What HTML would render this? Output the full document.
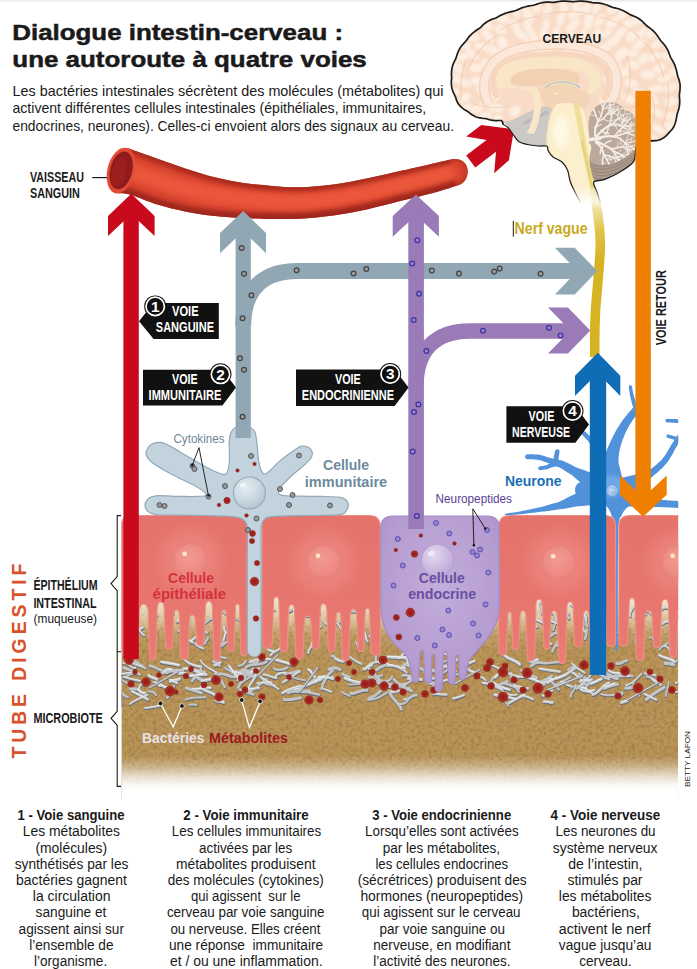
<!DOCTYPE html>
<html lang="fr"><head><meta charset="utf-8"><title>Dialogue intestin-cerveau</title>
<style>
html,body{margin:0;padding:0;background:#fff;}
body{width:697px;height:969px;overflow:hidden;font-family:'Liberation Sans', Arial, sans-serif;}
svg{display:block;font-family:"Liberation Sans", Arial, sans-serif;}
</style></head><body>
<svg width="697" height="969" viewBox="0 0 697 969">
<defs>
<clipPath id="illu"><rect x="121.4" y="380" width="556.8" height="430"/></clipPath>
<linearGradient id="gBrown" x1="0" y1="0" x2="0" y2="1" gradientUnits="objectBoundingBox">
  <stop offset="0" stop-color="#e9dcc4"/>
  <stop offset="0.1" stop-color="#d6bc92"/>
  <stop offset="0.18" stop-color="#c4a26a"/>
  <stop offset="0.26" stop-color="#b99458"/>
  <stop offset="1" stop-color="#b79256"/>
</linearGradient>
<filter id="noise" x="0" y="0" width="100%" height="100%" color-interpolation-filters="sRGB">
  <feTurbulence type="fractalNoise" baseFrequency="0.28" numOctaves="3" seed="5" result="t"/>
  <feColorMatrix type="matrix" values="0 0 0 0 0.42  0 0 0 0 0.27  0 0 0 0 0.12  1.6 0.6 0 0 -0.98"/>
  <feComposite in2="SourceGraphic" operator="in"/>
</filter>
<filter id="noise2" x="0" y="0" width="100%" height="100%" color-interpolation-filters="sRGB">
  <feTurbulence type="fractalNoise" baseFrequency="0.4" numOctaves="2" seed="11" result="t"/>
  <feColorMatrix type="matrix" values="0 0 0 0 0.80  0 0 0 0 0.70  0 0 0 0 0.52  0 1.5 0.8 0 -1.05"/>
  <feComposite in2="SourceGraphic" operator="in"/>
</filter>
<linearGradient id="gPink" x1="0" y1="0" x2="0" y2="1">
  <stop offset="0" stop-color="#e5736b"/>
  <stop offset="0.6" stop-color="#e7766e"/>
  <stop offset="1" stop-color="#e97c74"/>
</linearGradient>
<radialGradient id="gNucP" cx="0.45" cy="0.4" r="0.65">
  <stop offset="0" stop-color="#f29a92"/>
  <stop offset="0.7" stop-color="#ee8b84"/>
  <stop offset="1" stop-color="#ea837c"/>
</radialGradient>
<radialGradient id="gPurple" cx="0.5" cy="0.4" r="0.7">
  <stop offset="0" stop-color="#c3aedb"/>
  <stop offset="0.7" stop-color="#b59cd1"/>
  <stop offset="1" stop-color="#ab90c9"/>
</radialGradient>
<radialGradient id="gNucV" cx="0.38" cy="0.32" r="0.7">
  <stop offset="0" stop-color="#e6daf0"/>
  <stop offset="0.6" stop-color="#cdbbe2"/>
  <stop offset="1" stop-color="#bfa9d8"/>
</radialGradient>
<radialGradient id="gNucG" cx="0.38" cy="0.32" r="0.7">
  <stop offset="0" stop-color="#e4edf2"/>
  <stop offset="0.6" stop-color="#c9d8e1"/>
  <stop offset="1" stop-color="#b4c6d2"/>
</radialGradient>
<radialGradient id="gRedDot" cx="0.5" cy="0.5" r="0.5">
  <stop offset="0" stop-color="#951b17"/>
  <stop offset="0.55" stop-color="#a0221c"/>
  <stop offset="0.85" stop-color="#b23529"/>
  <stop offset="1" stop-color="#b83d30"/>
</radialGradient>
<linearGradient id="gNerve" x1="0" y1="198" x2="0" y2="262" gradientUnits="userSpaceOnUse">
  <stop offset="0" stop-color="#f1e3a6" stop-opacity="0"/>
  <stop offset="0.18" stop-color="#ecd98a" stop-opacity="0.85"/>
  <stop offset="0.5" stop-color="#e0c348"/>
  <stop offset="1" stop-color="#d6b322"/>
</linearGradient>
<filter id="blur2" x="-30%" y="-60%" width="160%" height="220%"><feGaussianBlur stdDeviation="2"/></filter>
<filter id="blur3" x="-30%" y="-60%" width="160%" height="220%"><feGaussianBlur stdDeviation="3.2"/></filter>
<filter id="blur6" x="-50%" y="-50%" width="200%" height="200%"><feGaussianBlur stdDeviation="7"/></filter>
<filter id="blur05" x="-30%" y="-30%" width="160%" height="160%"><feGaussianBlur stdDeviation="0.7"/></filter>
<filter id="blur1" x="-30%" y="-30%" width="160%" height="160%"><feGaussianBlur stdDeviation="1"/></filter>
</defs>
<rect x="0" y="0" width="697" height="969" fill="#ffffff"/>
<rect x="0" y="0" width="697" height="1.6" fill="#ebebeb"/>
<g clip-path="url(#illu)">
<rect x="121.4" y="596" width="556.8" height="204" fill="url(#gBrown)"/>
<rect x="121.4" y="596" width="556.8" height="204" fill="#000" filter="url(#noise)" opacity="0.42"/>
<rect x="121.4" y="596" width="556.8" height="204" fill="#000" filter="url(#noise2)" opacity="0.35"/>
<linearGradient id="gFade" x1="0" y1="756" x2="0" y2="791" gradientUnits="userSpaceOnUse">
<stop offset="0" stop-color="#fff" stop-opacity="0"/><stop offset="0.3" stop-color="#fff" stop-opacity="0.3"/><stop offset="0.6" stop-color="#fff" stop-opacity="0.72"/><stop offset="0.85" stop-color="#fff" stop-opacity="0.95"/><stop offset="1" stop-color="#fff" stop-opacity="1"/></linearGradient>
<linearGradient id="gFadeTop" x1="0" y1="596" x2="0" y2="634" gradientUnits="userSpaceOnUse">
<stop offset="0" stop-color="#f4ead8" stop-opacity="0.95"/><stop offset="0.45" stop-color="#ead9ba" stop-opacity="0.7"/><stop offset="1" stop-color="#e0c9a2" stop-opacity="0"/></linearGradient>
<rect x="121.4" y="596" width="556.8" height="60" fill="url(#gFadeTop)"/>
<rect x="121.4" y="750" width="556.8" height="52" fill="url(#gFade)"/>
<path d="M294.5,689.7 C297.2,689.3 299.8,688.7 302.5,688.3" fill="none" stroke="#6a6d70" stroke-width="2.5" stroke-linecap="round" transform="translate(0.3,0.8)"/>
<path d="M148.4,691.6 C151.8,691.0 154.3,692.2 156.0,695.1" fill="none" stroke="#6a6d70" stroke-width="2.6" stroke-linecap="round" transform="translate(0.3,0.8)"/>
<path d="M130.0,704.0 C135.3,699.8 141.6,697.6 147.7,695.0" fill="none" stroke="#6a6d70" stroke-width="2.6" stroke-linecap="round" transform="translate(0.3,0.8)"/>
<path d="M440.7,674.1 C445.6,672.4 448.7,667.9 453.3,665.7" fill="none" stroke="#6a6d70" stroke-width="2.7" stroke-linecap="round" transform="translate(0.3,0.8)"/>
<path d="M442.9,665.8 C447.8,665.9 450.9,670.5 455.7,671.0" fill="none" stroke="#6a6d70" stroke-width="3.4" stroke-linecap="round" transform="translate(0.3,0.8)"/>
<path d="M605.3,677.8 C612.2,674.6 619.8,677.0 626.9,675.4" fill="none" stroke="#6a6d70" stroke-width="3.5" stroke-linecap="round" transform="translate(0.3,0.8)"/>
<path d="M488.8,663.0 C493.5,667.1 500.1,667.9 505.0,671.8" fill="none" stroke="#6a6d70" stroke-width="2.8" stroke-linecap="round" transform="translate(0.3,0.8)"/>
<path d="M368.9,698.6 C373.4,696.9 377.2,694.2 380.7,690.9" fill="none" stroke="#6a6d70" stroke-width="3.4" stroke-linecap="round" transform="translate(0.3,0.8)"/>
<path d="M270.8,655.4 C272.8,651.0 278.1,651.0 281.1,647.8" fill="none" stroke="#6a6d70" stroke-width="3.0" stroke-linecap="round" transform="translate(0.3,0.8)"/>
<path d="M550.2,680.0 C552.8,683.4 555.7,686.5 558.8,689.5" fill="none" stroke="#6a6d70" stroke-width="3.0" stroke-linecap="round" transform="translate(0.3,0.8)"/>
<path d="M604.2,686.2 C608.4,688.6 611.2,683.3 615.1,684.1" fill="none" stroke="#6a6d70" stroke-width="3.6" stroke-linecap="round" transform="translate(0.3,0.8)"/>
<path d="M239.3,684.4 C243.0,680.5 248.3,678.8 251.9,674.7" fill="none" stroke="#6a6d70" stroke-width="3.0" stroke-linecap="round" transform="translate(0.3,0.8)"/>
<path d="M502.6,691.2 C506.7,695.0 511.5,695.9 516.9,694.6" fill="none" stroke="#6a6d70" stroke-width="2.5" stroke-linecap="round" transform="translate(0.3,0.8)"/>
<path d="M568.0,670.1 C569.3,666.8 573.4,668.0 575.2,665.4" fill="none" stroke="#6a6d70" stroke-width="2.5" stroke-linecap="round" transform="translate(0.3,0.8)"/>
<path d="M139.3,688.0 C139.6,683.9 142.1,683.6 145.3,684.4" fill="none" stroke="#6a6d70" stroke-width="2.9" stroke-linecap="round" transform="translate(0.3,0.8)"/>
<path d="M192.0,675.0 C195.8,676.7 199.4,678.8 203.1,680.6" fill="none" stroke="#6a6d70" stroke-width="3.8" stroke-linecap="round" transform="translate(0.3,0.8)"/>
<path d="M165.4,687.4 C170.4,686.1 173.6,689.0 176.4,692.6" fill="none" stroke="#6a6d70" stroke-width="2.6" stroke-linecap="round" transform="translate(0.3,0.8)"/>
<path d="M200.9,669.1 C199.3,674.1 194.4,676.6 192.0,681.1" fill="none" stroke="#6a6d70" stroke-width="3.4" stroke-linecap="round" transform="translate(0.3,0.8)"/>
<path d="M549.3,678.9 C554.7,679.9 559.5,678.5 563.9,675.5" fill="none" stroke="#6a6d70" stroke-width="2.7" stroke-linecap="round" transform="translate(0.3,0.8)"/>
<path d="M571.2,687.9 C574.0,684.0 578.3,688.3 581.4,685.9" fill="none" stroke="#6a6d70" stroke-width="2.4" stroke-linecap="round" transform="translate(0.3,0.8)"/>
<path d="M502.0,652.8 C506.2,659.3 514.7,659.2 519.8,664.4" fill="none" stroke="#6a6d70" stroke-width="3.8" stroke-linecap="round" transform="translate(0.3,0.8)"/>
<path d="M247.2,674.1 C243.3,678.0 240.9,683.0 238.1,687.7" fill="none" stroke="#6a6d70" stroke-width="3.1" stroke-linecap="round" transform="translate(0.3,0.8)"/>
<path d="M482.7,682.9 C490.0,683.1 496.1,686.4 502.3,689.7" fill="none" stroke="#6a6d70" stroke-width="3.1" stroke-linecap="round" transform="translate(0.3,0.8)"/>
<path d="M575.8,684.8 C576.5,689.8 569.8,691.7 570.8,696.9" fill="none" stroke="#6a6d70" stroke-width="2.6" stroke-linecap="round" transform="translate(0.3,0.8)"/>
<path d="M572.9,673.0 C575.9,673.9 577.5,677.0 580.2,678.4" fill="none" stroke="#6a6d70" stroke-width="3.3" stroke-linecap="round" transform="translate(0.3,0.8)"/>
<path d="M119.3,689.1 C117.6,694.3 121.7,698.8 121.1,703.9" fill="none" stroke="#6a6d70" stroke-width="3.6" stroke-linecap="round" transform="translate(0.3,0.8)"/>
<path d="M275.7,676.2 C278.3,672.7 282.0,672.8 285.8,672.9" fill="none" stroke="#6a6d70" stroke-width="3.0" stroke-linecap="round" transform="translate(0.3,0.8)"/>
<path d="M375.9,647.0 C375.7,651.4 376.0,655.8 375.9,660.3" fill="none" stroke="#6a6d70" stroke-width="3.1" stroke-linecap="round" transform="translate(0.3,0.8)"/>
<path d="M214.3,665.4 C217.1,665.8 218.1,662.6 220.7,662.4" fill="none" stroke="#6a6d70" stroke-width="3.1" stroke-linecap="round" transform="translate(0.3,0.8)"/>
<path d="M406.5,658.0 C409.8,658.9 411.4,654.7 414.6,655.2" fill="none" stroke="#6a6d70" stroke-width="2.8" stroke-linecap="round" transform="translate(0.3,0.8)"/>
<path d="M539.5,668.7 C546.3,669.8 553.2,670.8 560.0,671.8" fill="none" stroke="#6a6d70" stroke-width="3.1" stroke-linecap="round" transform="translate(0.3,0.8)"/>
<path d="M510.6,673.1 C510.5,680.5 515.2,685.7 518.9,691.5" fill="none" stroke="#6a6d70" stroke-width="3.2" stroke-linecap="round" transform="translate(0.3,0.8)"/>
<path d="M176.9,672.1 C179.7,675.6 184.4,671.1 187.2,674.5" fill="none" stroke="#6a6d70" stroke-width="3.5" stroke-linecap="round" transform="translate(0.3,0.8)"/>
<path d="M495.6,676.7 C491.2,676.4 492.8,682.5 489.0,682.9" fill="none" stroke="#6a6d70" stroke-width="2.7" stroke-linecap="round" transform="translate(0.3,0.8)"/>
<path d="M675.6,683.2 C679.7,681.1 684.3,681.1 688.7,680.4" fill="none" stroke="#6a6d70" stroke-width="2.7" stroke-linecap="round" transform="translate(0.3,0.8)"/>
<path d="M424.5,672.8 C428.9,671.9 433.3,670.7 437.8,669.8" fill="none" stroke="#6a6d70" stroke-width="3.3" stroke-linecap="round" transform="translate(0.3,0.8)"/>
<path d="M561.0,682.0 C565.3,680.9 566.8,687.4 571.2,686.0" fill="none" stroke="#6a6d70" stroke-width="2.8" stroke-linecap="round" transform="translate(0.3,0.8)"/>
<path d="M579.1,674.0 C581.5,677.2 585.5,677.5 588.4,679.8" fill="none" stroke="#6a6d70" stroke-width="3.2" stroke-linecap="round" transform="translate(0.3,0.8)"/>
<path d="M498.7,669.4 C504.2,674.4 512.7,672.4 518.1,677.6" fill="none" stroke="#6a6d70" stroke-width="2.5" stroke-linecap="round" transform="translate(0.3,0.8)"/>
<path d="M368.3,677.0 C373.1,677.0 374.4,682.5 378.5,683.5" fill="none" stroke="#6a6d70" stroke-width="2.8" stroke-linecap="round" transform="translate(0.3,0.8)"/>
<path d="M170.2,681.5 C173.1,679.2 176.8,680.4 179.9,678.9" fill="none" stroke="#6a6d70" stroke-width="3.5" stroke-linecap="round" transform="translate(0.3,0.8)"/>
<path d="M309.0,683.7 C311.1,682.6 312.7,680.6 314.8,679.4" fill="none" stroke="#6a6d70" stroke-width="3.4" stroke-linecap="round" transform="translate(0.3,0.8)"/>
<path d="M644.3,694.0 C648.3,695.9 652.4,697.9 656.4,699.8" fill="none" stroke="#6a6d70" stroke-width="3.0" stroke-linecap="round" transform="translate(0.3,0.8)"/>
<path d="M299.8,691.1 C306.4,691.2 312.5,693.9 319.0,694.6" fill="none" stroke="#6a6d70" stroke-width="3.0" stroke-linecap="round" transform="translate(0.3,0.8)"/>
<path d="M148.5,675.4 C150.8,677.8 154.4,677.6 157.0,679.5" fill="none" stroke="#6a6d70" stroke-width="3.6" stroke-linecap="round" transform="translate(0.3,0.8)"/>
<path d="M273.9,668.5 C278.7,671.4 283.3,669.9 287.7,667.5" fill="none" stroke="#6a6d70" stroke-width="2.8" stroke-linecap="round" transform="translate(0.3,0.8)"/>
<path d="M246.7,689.9 C250.8,689.3 254.8,688.6 258.9,688.0" fill="none" stroke="#6a6d70" stroke-width="3.1" stroke-linecap="round" transform="translate(0.3,0.8)"/>
<path d="M109.4,676.3 C112.6,672.5 116.9,677.1 120.3,674.9" fill="none" stroke="#6a6d70" stroke-width="2.5" stroke-linecap="round" transform="translate(0.3,0.8)"/>
<path d="M441.9,652.6 C447.4,654.3 451.9,657.7 456.7,660.8" fill="none" stroke="#6a6d70" stroke-width="2.9" stroke-linecap="round" transform="translate(0.3,0.8)"/>
<path d="M521.6,670.5 C526.2,673.7 531.3,675.9 536.6,677.6" fill="none" stroke="#6a6d70" stroke-width="3.6" stroke-linecap="round" transform="translate(0.3,0.8)"/>
<path d="M183.4,658.7 C188.1,663.9 194.3,666.0 201.1,666.9" fill="none" stroke="#6a6d70" stroke-width="3.2" stroke-linecap="round" transform="translate(0.3,0.8)"/>
<path d="M240.8,676.4 C243.7,678.2 245.3,673.5 248.1,675.0" fill="none" stroke="#6a6d70" stroke-width="2.5" stroke-linecap="round" transform="translate(0.3,0.8)"/>
<path d="M469.4,670.5 C471.5,671.5 473.8,672.1 476.0,672.8" fill="none" stroke="#6a6d70" stroke-width="3.1" stroke-linecap="round" transform="translate(0.3,0.8)"/>
<path d="M531.3,666.0 C534.0,662.9 537.5,661.9 541.5,662.7" fill="none" stroke="#6a6d70" stroke-width="3.4" stroke-linecap="round" transform="translate(0.3,0.8)"/>
<path d="M388.0,665.7 C394.1,663.6 399.1,669.0 405.0,668.3" fill="none" stroke="#6a6d70" stroke-width="3.3" stroke-linecap="round" transform="translate(0.3,0.8)"/>
<path d="M535.5,691.5 C537.6,687.9 540.9,685.9 544.7,684.5" fill="none" stroke="#6a6d70" stroke-width="2.5" stroke-linecap="round" transform="translate(0.3,0.8)"/>
<path d="M495.1,677.4 C498.2,673.3 502.3,671.1 507.3,670.6" fill="none" stroke="#6a6d70" stroke-width="3.7" stroke-linecap="round" transform="translate(0.3,0.8)"/>
<path d="M116.4,689.1 C121.1,690.5 122.9,696.0 127.7,697.2" fill="none" stroke="#6a6d70" stroke-width="3.0" stroke-linecap="round" transform="translate(0.3,0.8)"/>
<path d="M228.9,665.8 C231.8,669.8 234.8,673.7 237.8,677.7" fill="none" stroke="#6a6d70" stroke-width="3.5" stroke-linecap="round" transform="translate(0.3,0.8)"/>
<path d="M237.0,680.5 C242.5,676.4 248.1,672.5 253.5,668.4" fill="none" stroke="#6a6d70" stroke-width="2.4" stroke-linecap="round" transform="translate(0.3,0.8)"/>
<path d="M183.8,668.5 C190.8,668.1 196.8,670.8 202.3,674.9" fill="none" stroke="#6a6d70" stroke-width="3.6" stroke-linecap="round" transform="translate(0.3,0.8)"/>
<path d="M625.7,688.2 C629.5,688.3 633.1,686.7 636.9,686.6" fill="none" stroke="#6a6d70" stroke-width="3.8" stroke-linecap="round" transform="translate(0.3,0.8)"/>
<path d="M262.3,678.4 C268.7,680.6 272.8,686.2 278.7,689.1" fill="none" stroke="#6a6d70" stroke-width="2.7" stroke-linecap="round" transform="translate(0.3,0.8)"/>
<path d="M332.6,670.7 C326.4,675.3 323.6,681.9 321.5,688.9" fill="none" stroke="#6a6d70" stroke-width="3.3" stroke-linecap="round" transform="translate(0.3,0.8)"/>
<path d="M519.7,696.8 C524.8,694.6 528.9,697.6 533.2,699.4" fill="none" stroke="#6a6d70" stroke-width="2.8" stroke-linecap="round" transform="translate(0.3,0.8)"/>
<path d="M378.2,682.6 C382.6,682.2 386.1,684.4 389.8,686.4" fill="none" stroke="#6a6d70" stroke-width="3.8" stroke-linecap="round" transform="translate(0.3,0.8)"/>
<path d="M429.0,669.4 C432.7,669.3 435.4,670.9 437.1,674.2" fill="none" stroke="#6a6d70" stroke-width="3.1" stroke-linecap="round" transform="translate(0.3,0.8)"/>
<path d="M367.3,685.2 C368.4,681.2 373.3,683.4 375.1,680.5" fill="none" stroke="#6a6d70" stroke-width="2.9" stroke-linecap="round" transform="translate(0.3,0.8)"/>
<path d="M433.5,694.2 C437.9,693.2 442.3,695.1 446.7,694.6" fill="none" stroke="#6a6d70" stroke-width="2.9" stroke-linecap="round" transform="translate(0.3,0.8)"/>
<path d="M665.0,663.2 C668.3,661.7 670.7,665.2 673.8,664.7" fill="none" stroke="#6a6d70" stroke-width="3.6" stroke-linecap="round" transform="translate(0.3,0.8)"/>
<path d="M592.7,694.6 C599.7,693.0 602.2,684.9 609.0,682.9" fill="none" stroke="#6a6d70" stroke-width="3.4" stroke-linecap="round" transform="translate(0.3,0.8)"/>
<path d="M119.2,648.3 C116.3,654.7 108.3,655.6 105.0,661.5" fill="none" stroke="#6a6d70" stroke-width="2.7" stroke-linecap="round" transform="translate(0.3,0.8)"/>
<path d="M494.5,694.7 C501.5,695.8 508.3,697.5 515.2,698.8" fill="none" stroke="#6a6d70" stroke-width="3.5" stroke-linecap="round" transform="translate(0.3,0.8)"/>
<path d="M555.3,685.1 C560.6,683.3 565.2,680.1 570.0,677.2" fill="none" stroke="#6a6d70" stroke-width="2.8" stroke-linecap="round" transform="translate(0.3,0.8)"/>
<path d="M145.2,708.1 C150.2,708.1 154.9,706.3 159.9,705.9" fill="none" stroke="#6a6d70" stroke-width="2.7" stroke-linecap="round" transform="translate(0.3,0.8)"/>
<path d="M367.8,699.6 C375.3,700.3 381.0,696.3 386.9,692.6" fill="none" stroke="#6a6d70" stroke-width="2.7" stroke-linecap="round" transform="translate(0.3,0.8)"/>
<path d="M117.4,674.0 C122.3,674.6 127.0,673.4 131.7,672.5" fill="none" stroke="#6a6d70" stroke-width="2.8" stroke-linecap="round" transform="translate(0.3,0.8)"/>
<path d="M123.7,667.6 C129.0,669.8 134.3,671.9 139.6,674.2" fill="none" stroke="#6a6d70" stroke-width="3.4" stroke-linecap="round" transform="translate(0.3,0.8)"/>
<path d="M282.5,693.0 C288.0,689.4 294.2,687.6 300.5,686.1" fill="none" stroke="#6a6d70" stroke-width="3.5" stroke-linecap="round" transform="translate(0.3,0.8)"/>
<path d="M215.0,673.3 C219.9,676.8 222.0,682.2 224.8,687.2" fill="none" stroke="#6a6d70" stroke-width="3.0" stroke-linecap="round" transform="translate(0.3,0.8)"/>
<path d="M138.4,689.3 C139.9,692.1 142.2,693.3 145.3,693.3" fill="none" stroke="#6a6d70" stroke-width="3.6" stroke-linecap="round" transform="translate(0.3,0.8)"/>
<path d="M292.8,688.0 C298.9,688.5 304.5,691.1 310.5,692.0" fill="none" stroke="#6a6d70" stroke-width="2.9" stroke-linecap="round" transform="translate(0.3,0.8)"/>
<path d="M109.0,702.8 C110.3,707.6 116.3,705.4 118.3,709.2" fill="none" stroke="#6a6d70" stroke-width="2.6" stroke-linecap="round" transform="translate(0.3,0.8)"/>
<path d="M581.4,684.7 C583.6,682.1 586.9,686.2 589.0,683.4" fill="none" stroke="#6a6d70" stroke-width="3.7" stroke-linecap="round" transform="translate(0.3,0.8)"/>
<path d="M123.3,663.3 C128.5,661.7 130.2,669.8 135.6,667.8" fill="none" stroke="#6a6d70" stroke-width="2.5" stroke-linecap="round" transform="translate(0.3,0.8)"/>
<path d="M255.1,674.1 C259.3,675.0 262.1,678.1 265.0,681.0" fill="none" stroke="#6a6d70" stroke-width="3.3" stroke-linecap="round" transform="translate(0.3,0.8)"/>
<path d="M267.8,648.3 C268.1,652.2 272.6,649.5 273.8,652.0" fill="none" stroke="#6a6d70" stroke-width="3.3" stroke-linecap="round" transform="translate(0.3,0.8)"/>
<path d="M329.2,669.4 C332.8,667.1 336.4,667.6 340.0,669.3" fill="none" stroke="#6a6d70" stroke-width="3.7" stroke-linecap="round" transform="translate(0.3,0.8)"/>
<path d="M580.0,681.6 C583.4,678.0 588.4,683.0 591.8,679.5" fill="none" stroke="#6a6d70" stroke-width="3.5" stroke-linecap="round" transform="translate(0.3,0.8)"/>
<path d="M250.5,660.1 C252.9,663.7 255.5,663.8 258.4,660.7" fill="none" stroke="#6a6d70" stroke-width="2.9" stroke-linecap="round" transform="translate(0.3,0.8)"/>
<path d="M257.4,683.6 C262.1,682.6 267.0,682.5 271.8,682.5" fill="none" stroke="#6a6d70" stroke-width="2.7" stroke-linecap="round" transform="translate(0.3,0.8)"/>
<path d="M534.2,685.7 C539.3,681.3 546.2,680.2 551.5,676.2" fill="none" stroke="#6a6d70" stroke-width="3.6" stroke-linecap="round" transform="translate(0.3,0.8)"/>
<path d="M532.5,678.5 C536.2,679.1 538.0,683.2 541.8,683.7" fill="none" stroke="#6a6d70" stroke-width="3.2" stroke-linecap="round" transform="translate(0.3,0.8)"/>
<path d="M399.1,686.2 C403.1,684.2 405.3,690.5 409.3,688.4" fill="none" stroke="#6a6d70" stroke-width="3.8" stroke-linecap="round" transform="translate(0.3,0.8)"/>
<path d="M590.9,683.5 C594.7,682.5 598.0,680.7 601.4,678.9" fill="none" stroke="#6a6d70" stroke-width="3.8" stroke-linecap="round" transform="translate(0.3,0.8)"/>
<path d="M604.5,673.6 C609.7,672.7 612.2,679.1 617.3,678.6" fill="none" stroke="#6a6d70" stroke-width="3.7" stroke-linecap="round" transform="translate(0.3,0.8)"/>
<path d="M232.4,672.5 C236.0,670.9 238.9,674.6 242.3,673.8" fill="none" stroke="#6a6d70" stroke-width="3.3" stroke-linecap="round" transform="translate(0.3,0.8)"/>
<path d="M498.2,685.1 C501.3,684.2 504.2,682.5 507.2,681.4" fill="none" stroke="#6a6d70" stroke-width="3.5" stroke-linecap="round" transform="translate(0.3,0.8)"/>
<path d="M335.6,659.3 C338.7,658.5 340.6,662.4 343.7,661.4" fill="none" stroke="#6a6d70" stroke-width="3.0" stroke-linecap="round" transform="translate(0.3,0.8)"/>
<path d="M284.2,673.1 C289.7,676.0 294.3,670.3 299.6,671.4" fill="none" stroke="#6a6d70" stroke-width="3.6" stroke-linecap="round" transform="translate(0.3,0.8)"/>
<path d="M522.0,674.2 C527.1,679.4 535.0,678.7 540.7,682.6" fill="none" stroke="#6a6d70" stroke-width="3.0" stroke-linecap="round" transform="translate(0.3,0.8)"/>
<path d="M114.0,675.4 C117.9,678.8 123.1,680.1 127.1,683.3" fill="none" stroke="#6a6d70" stroke-width="2.5" stroke-linecap="round" transform="translate(0.3,0.8)"/>
<path d="M185.6,674.9 C192.6,678.0 199.5,673.3 206.5,674.6" fill="none" stroke="#6a6d70" stroke-width="3.5" stroke-linecap="round" transform="translate(0.3,0.8)"/>
<path d="M646.2,699.5 C651.8,694.8 657.9,691.0 664.2,687.4" fill="none" stroke="#6a6d70" stroke-width="3.7" stroke-linecap="round" transform="translate(0.3,0.8)"/>
<path d="M582.3,687.9 C586.4,687.4 587.8,692.3 591.6,692.5" fill="none" stroke="#6a6d70" stroke-width="3.6" stroke-linecap="round" transform="translate(0.3,0.8)"/>
<path d="M404.3,699.4 C409.2,700.6 411.6,694.5 416.3,695.2" fill="none" stroke="#6a6d70" stroke-width="3.4" stroke-linecap="round" transform="translate(0.3,0.8)"/>
<path d="M543.9,701.8 C546.9,700.7 549.7,703.3 552.7,702.4" fill="none" stroke="#6a6d70" stroke-width="3.3" stroke-linecap="round" transform="translate(0.3,0.8)"/>
<path d="M348.8,684.6 C354.5,684.9 360.0,683.2 365.6,683.2" fill="none" stroke="#6a6d70" stroke-width="2.4" stroke-linecap="round" transform="translate(0.3,0.8)"/>
<path d="M547.6,683.1 C550.2,681.1 553.4,680.2 556.0,678.3" fill="none" stroke="#6a6d70" stroke-width="2.6" stroke-linecap="round" transform="translate(0.3,0.8)"/>
<path d="M402.6,665.9 C405.8,666.2 406.6,662.6 409.1,661.9" fill="none" stroke="#6a6d70" stroke-width="3.4" stroke-linecap="round" transform="translate(0.3,0.8)"/>
<path d="M405.7,652.1 C402.0,652.4 402.8,658.0 398.8,658.0" fill="none" stroke="#6a6d70" stroke-width="3.4" stroke-linecap="round" transform="translate(0.3,0.8)"/>
<path d="M389.4,691.3 C390.8,698.9 398.8,702.1 401.2,709.1" fill="none" stroke="#6a6d70" stroke-width="3.5" stroke-linecap="round" transform="translate(0.3,0.8)"/>
<path d="M542.6,695.6 C547.2,696.5 548.5,690.8 552.5,690.5" fill="none" stroke="#6a6d70" stroke-width="3.1" stroke-linecap="round" transform="translate(0.3,0.8)"/>
<path d="M398.1,703.7 C402.9,704.9 406.4,703.0 408.8,698.9" fill="none" stroke="#6a6d70" stroke-width="2.6" stroke-linecap="round" transform="translate(0.3,0.8)"/>
<path d="M201.8,680.8 C206.8,680.2 211.6,678.5 216.5,678.0" fill="none" stroke="#6a6d70" stroke-width="3.6" stroke-linecap="round" transform="translate(0.3,0.8)"/>
<path d="M161.4,673.3 C168.4,670.6 175.7,670.1 183.1,670.2" fill="none" stroke="#6a6d70" stroke-width="3.5" stroke-linecap="round" transform="translate(0.3,0.8)"/>
<path d="M315.5,682.0 C317.2,678.8 319.9,677.0 323.5,676.6" fill="none" stroke="#6a6d70" stroke-width="3.5" stroke-linecap="round" transform="translate(0.3,0.8)"/>
<path d="M442.8,669.2 C445.7,663.8 450.9,661.2 456.2,658.8" fill="none" stroke="#6a6d70" stroke-width="2.4" stroke-linecap="round" transform="translate(0.3,0.8)"/>
<path d="M403.1,686.6 C405.3,683.7 409.1,683.0 411.5,680.4" fill="none" stroke="#6a6d70" stroke-width="2.4" stroke-linecap="round" transform="translate(0.3,0.8)"/>
<path d="M233.9,676.8 C238.7,674.6 243.7,673.0 248.5,670.8" fill="none" stroke="#6a6d70" stroke-width="3.3" stroke-linecap="round" transform="translate(0.3,0.8)"/>
<path d="M256.2,674.1 C255.1,679.8 249.7,683.2 248.4,688.8" fill="none" stroke="#6a6d70" stroke-width="3.0" stroke-linecap="round" transform="translate(0.3,0.8)"/>
<path d="M429.8,683.2 C434.0,684.5 437.8,680.7 442.0,682.2" fill="none" stroke="#6a6d70" stroke-width="3.7" stroke-linecap="round" transform="translate(0.3,0.8)"/>
<path d="M132.4,663.1 C135.6,664.7 138.9,665.7 142.3,666.9" fill="none" stroke="#6a6d70" stroke-width="2.4" stroke-linecap="round" transform="translate(0.3,0.8)"/>
<path d="M219.0,673.9 C224.7,672.6 229.3,677.2 234.8,676.9" fill="none" stroke="#6a6d70" stroke-width="3.5" stroke-linecap="round" transform="translate(0.3,0.8)"/>
<path d="M132.0,691.5 C137.4,693.9 142.6,696.6 147.9,699.4" fill="none" stroke="#6a6d70" stroke-width="3.4" stroke-linecap="round" transform="translate(0.3,0.8)"/>
<path d="M238.6,665.9 C242.0,665.7 244.2,663.9 245.7,661.0" fill="none" stroke="#6a6d70" stroke-width="2.9" stroke-linecap="round" transform="translate(0.3,0.8)"/>
<path d="M515.2,676.1 C519.6,677.3 524.2,676.8 528.7,676.6" fill="none" stroke="#6a6d70" stroke-width="2.8" stroke-linecap="round" transform="translate(0.3,0.8)"/>
<path d="M615.5,695.7 C618.8,697.8 620.5,695.4 622.3,693.2" fill="none" stroke="#6a6d70" stroke-width="3.4" stroke-linecap="round" transform="translate(0.3,0.8)"/>
<path d="M609.0,670.8 C614.8,675.8 623.2,670.9 628.9,676.1" fill="none" stroke="#6a6d70" stroke-width="3.3" stroke-linecap="round" transform="translate(0.3,0.8)"/>
<path d="M504.3,683.5 C511.1,684.2 516.7,688.5 523.3,689.4" fill="none" stroke="#6a6d70" stroke-width="3.2" stroke-linecap="round" transform="translate(0.3,0.8)"/>
<path d="M153.7,682.2 C157.1,681.4 157.4,685.5 159.9,686.1" fill="none" stroke="#6a6d70" stroke-width="2.9" stroke-linecap="round" transform="translate(0.3,0.8)"/>
<path d="M503.1,671.6 C508.1,673.9 513.8,674.4 518.8,676.7" fill="none" stroke="#6a6d70" stroke-width="2.5" stroke-linecap="round" transform="translate(0.3,0.8)"/>
<path d="M591.1,674.6 C587.9,680.8 581.2,683.6 577.1,688.9" fill="none" stroke="#6a6d70" stroke-width="2.5" stroke-linecap="round" transform="translate(0.3,0.8)"/>
<path d="M591.6,671.0 C598.0,672.3 602.9,676.8 609.0,679.0" fill="none" stroke="#6a6d70" stroke-width="3.3" stroke-linecap="round" transform="translate(0.3,0.8)"/>
<path d="M541.9,683.3 C546.6,683.3 550.1,679.6 554.6,679.1" fill="none" stroke="#6a6d70" stroke-width="2.8" stroke-linecap="round" transform="translate(0.3,0.8)"/>
<path d="M668.8,681.8 C668.4,686.7 666.2,691.2 665.8,696.1" fill="none" stroke="#6a6d70" stroke-width="2.4" stroke-linecap="round" transform="translate(0.3,0.8)"/>
<path d="M308.4,669.6 C312.4,670.7 312.0,675.5 315.1,677.3" fill="none" stroke="#6a6d70" stroke-width="3.5" stroke-linecap="round" transform="translate(0.3,0.8)"/>
<path d="M540.2,662.6 C547.4,664.6 554.6,660.9 561.8,662.4" fill="none" stroke="#6a6d70" stroke-width="3.1" stroke-linecap="round" transform="translate(0.3,0.8)"/>
<path d="M302.1,686.9 C308.7,684.3 315.3,681.7 321.8,679.1" fill="none" stroke="#6a6d70" stroke-width="3.4" stroke-linecap="round" transform="translate(0.3,0.8)"/>
<path d="M149.9,665.7 C156.1,667.1 161.3,671.0 167.3,672.7" fill="none" stroke="#6a6d70" stroke-width="3.3" stroke-linecap="round" transform="translate(0.3,0.8)"/>
<path d="M621.4,702.5 C623.7,701.7 626.0,700.9 628.4,700.2" fill="none" stroke="#6a6d70" stroke-width="3.7" stroke-linecap="round" transform="translate(0.3,0.8)"/>
<path d="M240.0,689.7 C244.0,692.2 248.9,692.2 253.1,694.3" fill="none" stroke="#6a6d70" stroke-width="3.5" stroke-linecap="round" transform="translate(0.3,0.8)"/>
<path d="M192.4,689.3 C198.5,689.4 204.4,687.9 210.5,687.8" fill="none" stroke="#6a6d70" stroke-width="3.5" stroke-linecap="round" transform="translate(0.3,0.8)"/>
<path d="M616.7,663.4 C620.8,664.8 623.3,660.6 626.9,660.7" fill="none" stroke="#6a6d70" stroke-width="3.4" stroke-linecap="round" transform="translate(0.3,0.8)"/>
<path d="M250.3,672.6 C253.8,672.8 255.3,668.4 258.9,668.8" fill="none" stroke="#6a6d70" stroke-width="3.8" stroke-linecap="round" transform="translate(0.3,0.8)"/>
<path d="M173.7,686.5 C172.0,690.4 169.1,693.7 167.4,697.6" fill="none" stroke="#6a6d70" stroke-width="3.4" stroke-linecap="round" transform="translate(0.3,0.8)"/>
<path d="M170.1,680.1 C172.4,681.0 174.7,682.0 177.0,682.9" fill="none" stroke="#6a6d70" stroke-width="3.4" stroke-linecap="round" transform="translate(0.3,0.8)"/>
<path d="M186.1,687.9 C191.3,689.1 196.1,691.7 201.3,692.9" fill="none" stroke="#6a6d70" stroke-width="3.7" stroke-linecap="round" transform="translate(0.3,0.8)"/>
<path d="M344.8,678.1 C351.0,681.1 357.6,682.4 364.3,683.4" fill="none" stroke="#6a6d70" stroke-width="3.6" stroke-linecap="round" transform="translate(0.3,0.8)"/>
<path d="M284.1,699.5 C289.7,700.4 295.1,698.9 300.5,697.7" fill="none" stroke="#6a6d70" stroke-width="3.5" stroke-linecap="round" transform="translate(0.3,0.8)"/>
<path d="M350.5,657.0 C353.6,660.3 357.5,662.2 361.5,664.1" fill="none" stroke="#6a6d70" stroke-width="2.7" stroke-linecap="round" transform="translate(0.3,0.8)"/>
<path d="M383.4,682.4 C390.4,684.8 397.7,684.5 404.9,683.7" fill="none" stroke="#6a6d70" stroke-width="2.6" stroke-linecap="round" transform="translate(0.3,0.8)"/>
<path d="M161.5,661.9 C167.3,663.1 173.2,663.9 179.0,665.2" fill="none" stroke="#6a6d70" stroke-width="3.6" stroke-linecap="round" transform="translate(0.3,0.8)"/>
<path d="M224.9,667.7 C229.1,672.9 236.1,670.5 241.1,673.6" fill="none" stroke="#6a6d70" stroke-width="2.6" stroke-linecap="round" transform="translate(0.3,0.8)"/>
<path d="M263.6,674.6 C268.3,674.1 271.8,678.4 276.4,678.0" fill="none" stroke="#6a6d70" stroke-width="2.9" stroke-linecap="round" transform="translate(0.3,0.8)"/>
<path d="M646.5,676.4 C651.9,676.4 654.9,682.1 660.3,682.2" fill="none" stroke="#6a6d70" stroke-width="2.9" stroke-linecap="round" transform="translate(0.3,0.8)"/>
<path d="M572.0,663.8 C575.7,667.6 579.9,670.4 584.6,672.7" fill="none" stroke="#6a6d70" stroke-width="2.9" stroke-linecap="round" transform="translate(0.3,0.8)"/>
<path d="M376.6,669.8 C379.5,667.1 383.1,665.8 386.6,664.3" fill="none" stroke="#6a6d70" stroke-width="3.6" stroke-linecap="round" transform="translate(0.3,0.8)"/>
<path d="M324.0,676.3 C327.6,675.5 329.8,679.4 333.3,679.1" fill="none" stroke="#6a6d70" stroke-width="2.8" stroke-linecap="round" transform="translate(0.3,0.8)"/>
<path d="M350.7,693.2 C356.5,694.6 361.1,688.6 367.0,690.2" fill="none" stroke="#6a6d70" stroke-width="3.7" stroke-linecap="round" transform="translate(0.3,0.8)"/>
<path d="M626.0,685.4 C633.0,684.0 637.1,678.6 641.5,673.7" fill="none" stroke="#6a6d70" stroke-width="2.4" stroke-linecap="round" transform="translate(0.3,0.8)"/>
<path d="M166.2,669.4 C169.9,668.2 172.6,669.7 174.7,672.6" fill="none" stroke="#6a6d70" stroke-width="2.9" stroke-linecap="round" transform="translate(0.3,0.8)"/>
<path d="M200.6,687.1 C204.8,692.3 212.5,691.5 216.8,696.5" fill="none" stroke="#6a6d70" stroke-width="3.5" stroke-linecap="round" transform="translate(0.3,0.8)"/>
<path d="M409.8,662.3 C415.9,663.8 420.0,668.8 425.7,671.2" fill="none" stroke="#6a6d70" stroke-width="3.2" stroke-linecap="round" transform="translate(0.3,0.8)"/>
<path d="M391.4,691.6 C394.5,694.2 397.5,688.9 400.6,691.6" fill="none" stroke="#6a6d70" stroke-width="3.2" stroke-linecap="round" transform="translate(0.3,0.8)"/>
<path d="M374.6,679.9 C379.5,681.6 383.9,684.2 388.5,686.6" fill="none" stroke="#6a6d70" stroke-width="2.9" stroke-linecap="round" transform="translate(0.3,0.8)"/>
<path d="M472.1,671.6 C474.8,677.3 482.5,675.3 485.7,680.3" fill="none" stroke="#6a6d70" stroke-width="2.9" stroke-linecap="round" transform="translate(0.3,0.8)"/>
<path d="M625.3,675.0 C627.3,677.9 630.5,674.0 632.7,676.3" fill="none" stroke="#6a6d70" stroke-width="2.9" stroke-linecap="round" transform="translate(0.3,0.8)"/>
<path d="M408.0,678.7 C412.6,677.5 417.0,678.6 421.5,679.6" fill="none" stroke="#6a6d70" stroke-width="3.6" stroke-linecap="round" transform="translate(0.3,0.8)"/>
<path d="M397.7,665.9 C399.5,669.7 404.4,669.3 406.6,672.4" fill="none" stroke="#6a6d70" stroke-width="3.3" stroke-linecap="round" transform="translate(0.3,0.8)"/>
<path d="M275.4,659.5 C281.3,661.6 287.4,662.9 293.3,664.9" fill="none" stroke="#6a6d70" stroke-width="3.6" stroke-linecap="round" transform="translate(0.3,0.8)"/>
<path d="M116.5,663.6 C113.9,666.5 113.9,669.8 114.6,673.3" fill="none" stroke="#6a6d70" stroke-width="3.3" stroke-linecap="round" transform="translate(0.3,0.8)"/>
<path d="M459.8,666.9 C464.6,664.7 469.7,662.9 474.6,661.0" fill="none" stroke="#6a6d70" stroke-width="3.3" stroke-linecap="round" transform="translate(0.3,0.8)"/>
<path d="M213.2,661.7 C215.8,662.2 217.9,663.7 219.6,665.6" fill="none" stroke="#6a6d70" stroke-width="3.3" stroke-linecap="round" transform="translate(0.3,0.8)"/>
<path d="M429.1,678.1 C433.8,680.7 437.8,674.8 442.4,676.8" fill="none" stroke="#6a6d70" stroke-width="3.3" stroke-linecap="round" transform="translate(0.3,0.8)"/>
<path d="M130.3,688.6 C133.3,688.5 136.1,689.4 139.1,689.4" fill="none" stroke="#6a6d70" stroke-width="3.7" stroke-linecap="round" transform="translate(0.3,0.8)"/>
<path d="M379.4,662.8 C384.2,661.2 387.9,665.2 392.3,665.3" fill="none" stroke="#6a6d70" stroke-width="2.7" stroke-linecap="round" transform="translate(0.3,0.8)"/>
<path d="M503.3,699.1 C503.8,702.3 507.9,702.7 508.4,705.8" fill="none" stroke="#6a6d70" stroke-width="2.4" stroke-linecap="round" transform="translate(0.3,0.8)"/>
<path d="M216.2,700.4 C218.3,702.6 221.6,700.5 223.7,702.5" fill="none" stroke="#6a6d70" stroke-width="3.6" stroke-linecap="round" transform="translate(0.3,0.8)"/>
<path d="M249.8,691.9 C256.1,688.4 261.4,683.5 266.9,678.9" fill="none" stroke="#6a6d70" stroke-width="2.4" stroke-linecap="round" transform="translate(0.3,0.8)"/>
<path d="M282.9,682.5 C288.7,679.3 293.7,674.8 299.5,671.5" fill="none" stroke="#6a6d70" stroke-width="2.9" stroke-linecap="round" transform="translate(0.3,0.8)"/>
<path d="M186.2,668.4 C192.5,669.1 198.5,671.4 204.8,672.0" fill="none" stroke="#6a6d70" stroke-width="3.3" stroke-linecap="round" transform="translate(0.3,0.8)"/>
<path d="M651.7,678.3 C653.4,682.4 658.9,681.2 660.9,685.0" fill="none" stroke="#6a6d70" stroke-width="3.4" stroke-linecap="round" transform="translate(0.3,0.8)"/>
<path d="M665.6,664.0 C672.6,665.0 677.5,658.4 684.4,659.1" fill="none" stroke="#6a6d70" stroke-width="3.0" stroke-linecap="round" transform="translate(0.3,0.8)"/>
<path d="M453.3,698.5 C457.0,697.9 460.6,696.7 464.0,695.0" fill="none" stroke="#6a6d70" stroke-width="3.0" stroke-linecap="round" transform="translate(0.3,0.8)"/>
<path d="M127.7,659.1 C134.2,660.7 139.9,664.0 145.0,668.2" fill="none" stroke="#6a6d70" stroke-width="3.2" stroke-linecap="round" transform="translate(0.3,0.8)"/>
<path d="M502.5,686.7 C504.4,689.4 507.4,689.4 510.2,689.9" fill="none" stroke="#6a6d70" stroke-width="2.7" stroke-linecap="round" transform="translate(0.3,0.8)"/>
<path d="M453.6,675.1 C459.6,674.5 464.6,671.6 469.5,668.6" fill="none" stroke="#6a6d70" stroke-width="2.8" stroke-linecap="round" transform="translate(0.3,0.8)"/>
<path d="M158.0,683.1 C160.9,685.0 164.1,686.6 167.1,688.4" fill="none" stroke="#6a6d70" stroke-width="3.6" stroke-linecap="round" transform="translate(0.3,0.8)"/>
<path d="M216.2,655.7 C219.2,657.0 222.6,657.1 225.7,658.3" fill="none" stroke="#6a6d70" stroke-width="2.9" stroke-linecap="round" transform="translate(0.3,0.8)"/>
<path d="M323.5,688.7 C325.9,690.4 329.0,690.4 331.4,691.9" fill="none" stroke="#6a6d70" stroke-width="2.6" stroke-linecap="round" transform="translate(0.3,0.8)"/>
<path d="M604.1,688.5 C608.4,686.5 613.0,685.2 617.7,684.1" fill="none" stroke="#6a6d70" stroke-width="3.5" stroke-linecap="round" transform="translate(0.3,0.8)"/>
<path d="M580.2,689.2 C581.2,685.3 586.2,690.3 587.1,686.1" fill="none" stroke="#6a6d70" stroke-width="2.5" stroke-linecap="round" transform="translate(0.3,0.8)"/>
<path d="M368.7,668.1 C374.1,672.7 377.8,678.9 383.3,683.4" fill="none" stroke="#6a6d70" stroke-width="3.2" stroke-linecap="round" transform="translate(0.3,0.8)"/>
<path d="M249.6,662.4 C256.3,659.1 263.3,658.1 270.7,659.4" fill="none" stroke="#6a6d70" stroke-width="3.0" stroke-linecap="round" transform="translate(0.3,0.8)"/>
<path d="M236.0,671.4 C239.0,673.7 241.1,671.1 243.4,669.9" fill="none" stroke="#6a6d70" stroke-width="3.7" stroke-linecap="round" transform="translate(0.3,0.8)"/>
<path d="M555.2,678.2 C563.1,677.7 568.8,672.8 574.7,668.3" fill="none" stroke="#6a6d70" stroke-width="3.5" stroke-linecap="round" transform="translate(0.3,0.8)"/>
<path d="M443.7,662.0 C449.1,658.0 455.9,660.3 461.6,657.7" fill="none" stroke="#6a6d70" stroke-width="2.8" stroke-linecap="round" transform="translate(0.3,0.8)"/>
<path d="M246.0,691.6 C249.4,693.4 249.1,686.6 252.7,688.8" fill="none" stroke="#6a6d70" stroke-width="2.5" stroke-linecap="round" transform="translate(0.3,0.8)"/>
<path d="M601.1,694.0 C608.1,696.5 614.8,695.2 621.4,692.6" fill="none" stroke="#6a6d70" stroke-width="2.5" stroke-linecap="round" transform="translate(0.3,0.8)"/>
<path d="M366.2,668.3 C369.0,663.4 373.7,662.2 378.8,661.8" fill="none" stroke="#6a6d70" stroke-width="2.7" stroke-linecap="round" transform="translate(0.3,0.8)"/>
<path d="M185.4,699.6 C191.8,697.2 198.6,697.3 205.3,697.3" fill="none" stroke="#6a6d70" stroke-width="2.6" stroke-linecap="round" transform="translate(0.3,0.8)"/>
<path d="M200.4,660.5 C204.3,666.8 210.8,669.5 216.9,672.7" fill="none" stroke="#6a6d70" stroke-width="2.5" stroke-linecap="round" transform="translate(0.3,0.8)"/>
<path d="M381.8,680.8 C386.6,682.5 390.0,680.9 392.2,676.5" fill="none" stroke="#6a6d70" stroke-width="2.9" stroke-linecap="round" transform="translate(0.3,0.8)"/>
<path d="M164.4,672.3 C166.0,668.3 169.0,669.3 172.0,670.2" fill="none" stroke="#6a6d70" stroke-width="3.8" stroke-linecap="round" transform="translate(0.3,0.8)"/>
<path d="M189.2,704.7 C191.6,704.3 193.9,704.7 196.2,704.9" fill="none" stroke="#6a6d70" stroke-width="2.7" stroke-linecap="round" transform="translate(0.3,0.8)"/>
<path d="M432.6,686.9 C437.1,681.9 443.3,680.5 449.6,679.7" fill="none" stroke="#6a6d70" stroke-width="2.5" stroke-linecap="round" transform="translate(0.3,0.8)"/>
<path d="M264.9,682.9 C268.0,684.4 271.4,684.5 274.6,685.6" fill="none" stroke="#6a6d70" stroke-width="3.5" stroke-linecap="round" transform="translate(0.3,0.8)"/>
<path d="M530.2,661.4 C533.3,663.4 535.1,659.5 537.9,659.7" fill="none" stroke="#6a6d70" stroke-width="3.6" stroke-linecap="round" transform="translate(0.3,0.8)"/>
<path d="M633.5,682.9 C633.2,688.1 638.2,691.1 639.1,695.8" fill="none" stroke="#6a6d70" stroke-width="2.7" stroke-linecap="round" transform="translate(0.3,0.8)"/>
<path d="M318.4,676.8 C323.3,678.4 328.2,678.4 333.2,677.1" fill="none" stroke="#6a6d70" stroke-width="2.6" stroke-linecap="round" transform="translate(0.3,0.8)"/>
<path d="M288.5,674.4 C293.2,678.8 299.2,679.7 305.2,680.2" fill="none" stroke="#6a6d70" stroke-width="2.5" stroke-linecap="round" transform="translate(0.3,0.8)"/>
<path d="M406.0,658.9 C409.6,659.8 405.7,664.6 409.4,665.4" fill="none" stroke="#6a6d70" stroke-width="2.7" stroke-linecap="round" transform="translate(0.3,0.8)"/>
<path d="M125.4,676.6 C128.3,676.1 130.4,673.9 133.2,673.3" fill="none" stroke="#6a6d70" stroke-width="2.4" stroke-linecap="round" transform="translate(0.3,0.8)"/>
<path d="M508.9,703.2 C514.1,700.4 519.3,697.5 524.5,694.7" fill="none" stroke="#6a6d70" stroke-width="3.1" stroke-linecap="round" transform="translate(0.3,0.8)"/>
<path d="M341.6,691.7 C344.1,693.6 346.9,694.6 349.7,695.9" fill="none" stroke="#6a6d70" stroke-width="2.6" stroke-linecap="round" transform="translate(0.3,0.8)"/>
<path d="M581.1,689.7 C585.5,692.9 590.0,691.4 594.4,690.1" fill="none" stroke="#6a6d70" stroke-width="3.0" stroke-linecap="round" transform="translate(0.3,0.8)"/>
<path d="M245.6,669.5 C247.1,674.2 250.6,676.3 255.3,676.7" fill="none" stroke="#6a6d70" stroke-width="3.5" stroke-linecap="round" transform="translate(0.3,0.8)"/>
<path d="M644.9,673.5 C648.4,674.3 652.0,674.6 655.5,675.4" fill="none" stroke="#6a6d70" stroke-width="2.9" stroke-linecap="round" transform="translate(0.3,0.8)"/>
<path d="M393.7,679.2 C398.6,684.9 404.7,688.7 411.8,691.0" fill="none" stroke="#6a6d70" stroke-width="3.3" stroke-linecap="round" transform="translate(0.3,0.8)"/>
<path d="M123.7,677.0 C129.0,678.6 134.4,679.8 139.9,680.9" fill="none" stroke="#6a6d70" stroke-width="2.8" stroke-linecap="round" transform="translate(0.3,0.8)"/>
<path d="M246.1,667.0 C252.2,662.6 260.5,666.3 266.6,661.5" fill="none" stroke="#6a6d70" stroke-width="3.3" stroke-linecap="round" transform="translate(0.3,0.8)"/>
<path d="M402.4,676.0 C406.2,673.5 409.7,677.8 413.4,676.5" fill="none" stroke="#6a6d70" stroke-width="2.6" stroke-linecap="round" transform="translate(0.3,0.8)"/>
<path d="M342.4,673.9 C344.7,675.5 347.3,676.4 349.9,677.5" fill="none" stroke="#6a6d70" stroke-width="3.3" stroke-linecap="round" transform="translate(0.3,0.8)"/>
<path d="M514.3,686.4 C519.1,685.8 523.4,688.4 528.0,688.5" fill="none" stroke="#6a6d70" stroke-width="3.1" stroke-linecap="round" transform="translate(0.3,0.8)"/>
<path d="M404.0,663.5 C405.9,665.0 408.3,665.5 410.4,666.8" fill="none" stroke="#6a6d70" stroke-width="2.7" stroke-linecap="round" transform="translate(0.3,0.8)"/>
<path d="M675.7,692.1 C680.2,692.7 682.1,687.9 685.9,687.1" fill="none" stroke="#6a6d70" stroke-width="2.5" stroke-linecap="round" transform="translate(0.3,0.8)"/>
<path d="M331.9,655.8 C335.6,655.5 335.7,660.3 339.0,660.8" fill="none" stroke="#6a6d70" stroke-width="3.4" stroke-linecap="round" transform="translate(0.3,0.8)"/>
<path d="M493.6,682.5 C497.8,686.2 502.9,688.2 508.4,689.2" fill="none" stroke="#6a6d70" stroke-width="3.1" stroke-linecap="round" transform="translate(0.3,0.8)"/>
<path d="M376.6,677.6 C381.8,682.5 389.4,682.9 394.9,687.3" fill="none" stroke="#6a6d70" stroke-width="2.4" stroke-linecap="round" transform="translate(0.3,0.8)"/>
<path d="M659.3,655.2 C663.8,657.8 669.1,658.5 673.8,660.9" fill="none" stroke="#6a6d70" stroke-width="3.6" stroke-linecap="round" transform="translate(0.3,0.8)"/>
<path d="M369.4,677.2 C373.9,678.5 378.1,677.0 382.1,675.2" fill="none" stroke="#6a6d70" stroke-width="2.9" stroke-linecap="round" transform="translate(0.3,0.8)"/>
<path d="M363.4,669.5 C366.6,668.6 368.9,666.0 372.1,665.1" fill="none" stroke="#6a6d70" stroke-width="3.2" stroke-linecap="round" transform="translate(0.3,0.8)"/>
<path d="M287.9,692.8 C294.7,688.7 302.4,694.1 309.2,690.7" fill="none" stroke="#6a6d70" stroke-width="3.7" stroke-linecap="round" transform="translate(0.3,0.8)"/>
<path d="M388.1,656.8 C395.0,657.3 401.9,657.4 408.9,657.9" fill="none" stroke="#6a6d70" stroke-width="3.8" stroke-linecap="round" transform="translate(0.3,0.8)"/>
<path d="M333.1,623.3 C337.5,624.7 340.1,622.2 342.3,619.0" fill="none" stroke="#6a6d70" stroke-width="2.5" stroke-linecap="round" transform="translate(0.3,0.8)"/>
<path d="M324.3,622.2 C327.0,625.5 330.4,625.1 334.0,624.3" fill="none" stroke="#6a6d70" stroke-width="2.8" stroke-linecap="round" transform="translate(0.3,0.8)"/>
<path d="M466.1,651.4 C468.7,653.9 471.8,650.6 474.5,652.2" fill="none" stroke="#6a6d70" stroke-width="3.4" stroke-linecap="round" transform="translate(0.3,0.8)"/>
<path d="M582.6,625.5 C582.2,628.1 583.1,630.2 585.2,631.7" fill="none" stroke="#6a6d70" stroke-width="3.3" stroke-linecap="round" transform="translate(0.3,0.8)"/>
<path d="M351.4,611.4 C354.0,611.5 356.7,611.5 359.4,611.6" fill="none" stroke="#6a6d70" stroke-width="3.0" stroke-linecap="round" transform="translate(0.3,0.8)"/>
<path d="M452.2,618.4 C457.4,617.2 458.9,624.8 464.1,623.5" fill="none" stroke="#6a6d70" stroke-width="2.7" stroke-linecap="round" transform="translate(0.3,0.8)"/>
<path d="M505.4,600.7 C506.3,603.4 508.1,605.5 509.7,607.6" fill="none" stroke="#6a6d70" stroke-width="2.9" stroke-linecap="round" transform="translate(0.3,0.8)"/>
<path d="M424.8,616.3 C428.0,620.1 432.0,614.6 435.3,617.3" fill="none" stroke="#6a6d70" stroke-width="2.5" stroke-linecap="round" transform="translate(0.3,0.8)"/>
<path d="M205.2,643.6 C203.9,640.6 209.1,640.3 207.7,637.3" fill="none" stroke="#6a6d70" stroke-width="3.0" stroke-linecap="round" transform="translate(0.3,0.8)"/>
<path d="M570.8,604.8 C573.1,605.4 574.1,607.3 575.0,609.2" fill="none" stroke="#6a6d70" stroke-width="2.6" stroke-linecap="round" transform="translate(0.3,0.8)"/>
<path d="M262.4,607.3 C266.6,607.3 270.2,609.9 274.3,610.3" fill="none" stroke="#6a6d70" stroke-width="2.5" stroke-linecap="round" transform="translate(0.3,0.8)"/>
<path d="M614.0,633.1 C618.3,633.2 622.3,631.3 626.5,630.8" fill="none" stroke="#6a6d70" stroke-width="3.3" stroke-linecap="round" transform="translate(0.3,0.8)"/>
<path d="M596.4,614.2 C600.0,616.6 602.3,620.0 603.7,624.1" fill="none" stroke="#6a6d70" stroke-width="2.9" stroke-linecap="round" transform="translate(0.3,0.8)"/>
<path d="M650.2,613.0 C653.7,613.2 653.5,618.2 657.1,618.3" fill="none" stroke="#6a6d70" stroke-width="2.9" stroke-linecap="round" transform="translate(0.3,0.8)"/>
<path d="M561.8,617.2 C563.1,614.2 565.8,614.3 568.4,614.2" fill="none" stroke="#6a6d70" stroke-width="3.0" stroke-linecap="round" transform="translate(0.3,0.8)"/>
<path d="M178.6,630.9 C180.5,627.1 185.1,632.3 187.0,628.4" fill="none" stroke="#6a6d70" stroke-width="2.8" stroke-linecap="round" transform="translate(0.3,0.8)"/>
<path d="M253.3,616.0 C252.9,611.8 256.0,611.1 259.0,610.4" fill="none" stroke="#6a6d70" stroke-width="2.6" stroke-linecap="round" transform="translate(0.3,0.8)"/>
<path d="M514.0,605.1 C517.6,605.9 514.5,611.0 518.3,611.8" fill="none" stroke="#6a6d70" stroke-width="3.2" stroke-linecap="round" transform="translate(0.3,0.8)"/>
<path d="M202.6,622.9 C207.2,624.6 208.2,616.8 213.0,619.0" fill="none" stroke="#6a6d70" stroke-width="2.9" stroke-linecap="round" transform="translate(0.3,0.8)"/>
<path d="M243.4,623.7 C246.2,623.7 247.8,625.5 249.0,627.7" fill="none" stroke="#6a6d70" stroke-width="2.8" stroke-linecap="round" transform="translate(0.3,0.8)"/>
<path d="M255.2,629.8 C258.7,630.9 255.6,635.2 258.6,636.5" fill="none" stroke="#6a6d70" stroke-width="2.7" stroke-linecap="round" transform="translate(0.3,0.8)"/>
<path d="M548.1,621.4 C551.8,620.8 554.9,623.3 558.5,623.5" fill="none" stroke="#6a6d70" stroke-width="2.6" stroke-linecap="round" transform="translate(0.3,0.8)"/>
<path d="M595.8,624.3 C597.7,621.2 598.4,617.7 600.1,614.5" fill="none" stroke="#6a6d70" stroke-width="2.7" stroke-linecap="round" transform="translate(0.3,0.8)"/>
<path d="M153.5,622.3 C156.0,620.7 154.8,617.4 156.9,615.5" fill="none" stroke="#6a6d70" stroke-width="3.3" stroke-linecap="round" transform="translate(0.3,0.8)"/>
<path d="M552.3,651.7 C552.8,647.4 557.3,645.3 557.9,641.0" fill="none" stroke="#6a6d70" stroke-width="3.1" stroke-linecap="round" transform="translate(0.3,0.8)"/>
<path d="M311.8,620.8 C315.7,621.4 318.1,624.1 320.6,626.8" fill="none" stroke="#6a6d70" stroke-width="3.0" stroke-linecap="round" transform="translate(0.3,0.8)"/>
<path d="M215.7,605.6 C217.9,609.4 222.4,610.5 225.2,613.5" fill="none" stroke="#6a6d70" stroke-width="2.6" stroke-linecap="round" transform="translate(0.3,0.8)"/>
<path d="M228.8,622.8 C228.1,619.7 229.6,617.0 230.6,614.3" fill="none" stroke="#6a6d70" stroke-width="3.2" stroke-linecap="round" transform="translate(0.3,0.8)"/>
<path d="M435.8,639.1 C438.5,639.9 440.8,637.8 443.4,637.7" fill="none" stroke="#6a6d70" stroke-width="3.2" stroke-linecap="round" transform="translate(0.3,0.8)"/>
<path d="M554.4,615.0 C554.8,617.2 556.8,618.5 557.5,620.5" fill="none" stroke="#6a6d70" stroke-width="2.5" stroke-linecap="round" transform="translate(0.3,0.8)"/>
<path d="M559.8,609.9 C564.8,610.6 566.9,614.4 568.9,618.3" fill="none" stroke="#6a6d70" stroke-width="3.1" stroke-linecap="round" transform="translate(0.3,0.8)"/>
<path d="M584.6,614.3 C585.7,616.3 586.1,618.5 586.2,620.7" fill="none" stroke="#6a6d70" stroke-width="3.1" stroke-linecap="round" transform="translate(0.3,0.8)"/>
<path d="M585.0,638.6 C587.1,636.0 585.5,632.4 587.2,629.7" fill="none" stroke="#6a6d70" stroke-width="3.3" stroke-linecap="round" transform="translate(0.3,0.8)"/>
<path d="M187.4,638.8 C187.9,641.7 191.8,639.8 192.6,642.4" fill="none" stroke="#6a6d70" stroke-width="3.4" stroke-linecap="round" transform="translate(0.3,0.8)"/>
<path d="M476.6,633.8 C476.3,631.1 478.4,629.0 478.6,626.4" fill="none" stroke="#6a6d70" stroke-width="2.7" stroke-linecap="round" transform="translate(0.3,0.8)"/>
<path d="M191.2,641.7 C192.5,637.9 197.2,637.6 198.8,634.2" fill="none" stroke="#6a6d70" stroke-width="3.3" stroke-linecap="round" transform="translate(0.3,0.8)"/>
<path d="M313.3,623.7 C315.6,620.4 316.8,616.4 319.2,613.0" fill="none" stroke="#6a6d70" stroke-width="2.9" stroke-linecap="round" transform="translate(0.3,0.8)"/>
<path d="M541.8,610.6 C545.3,611.3 548.7,612.4 552.0,613.7" fill="none" stroke="#6a6d70" stroke-width="2.5" stroke-linecap="round" transform="translate(0.3,0.8)"/>
<path d="M280.2,624.9 C279.4,622.1 282.9,620.5 282.2,617.7" fill="none" stroke="#6a6d70" stroke-width="2.8" stroke-linecap="round" transform="translate(0.3,0.8)"/>
<path d="M177.5,621.4 C179.4,618.1 183.4,619.6 186.0,617.7" fill="none" stroke="#6a6d70" stroke-width="3.4" stroke-linecap="round" transform="translate(0.3,0.8)"/>
<path d="M540.4,602.6 C540.5,606.3 541.8,609.8 542.1,613.5" fill="none" stroke="#6a6d70" stroke-width="2.8" stroke-linecap="round" transform="translate(0.3,0.8)"/>
<path d="M224.1,627.2 C223.8,629.4 224.5,631.3 226.0,632.9" fill="none" stroke="#6a6d70" stroke-width="3.1" stroke-linecap="round" transform="translate(0.3,0.8)"/>
<path d="M259.2,619.2 C261.5,617.3 260.8,614.8 260.4,612.4" fill="none" stroke="#6a6d70" stroke-width="2.6" stroke-linecap="round" transform="translate(0.3,0.8)"/>
<path d="M474.4,649.8 C478.4,647.4 480.4,643.7 481.3,639.4" fill="none" stroke="#6a6d70" stroke-width="2.7" stroke-linecap="round" transform="translate(0.3,0.8)"/>
<path d="M218.3,645.2 C220.9,644.5 223.2,642.7 225.9,642.0" fill="none" stroke="#6a6d70" stroke-width="2.6" stroke-linecap="round" transform="translate(0.3,0.8)"/>
<path d="M138.2,627.0 C139.1,630.6 141.2,633.4 144.3,635.4" fill="none" stroke="#6a6d70" stroke-width="2.9" stroke-linecap="round" transform="translate(0.3,0.8)"/>
<path d="M395.8,610.6 C399.1,608.4 401.3,610.9 403.7,612.5" fill="none" stroke="#6a6d70" stroke-width="2.8" stroke-linecap="round" transform="translate(0.3,0.8)"/>
<path d="M661.9,608.9 C663.6,606.4 665.9,607.7 668.1,607.7" fill="none" stroke="#6a6d70" stroke-width="3.2" stroke-linecap="round" transform="translate(0.3,0.8)"/>
<path d="M596.8,644.5 C599.9,643.6 601.1,640.3 604.0,639.1" fill="none" stroke="#6a6d70" stroke-width="2.7" stroke-linecap="round" transform="translate(0.3,0.8)"/>
<path d="M363.3,630.5 C366.9,633.3 364.6,638.4 367.6,641.5" fill="none" stroke="#6a6d70" stroke-width="3.0" stroke-linecap="round" transform="translate(0.3,0.8)"/>
<path d="M311.5,615.0 C313.2,613.7 315.2,612.6 317.2,611.7" fill="none" stroke="#6a6d70" stroke-width="3.3" stroke-linecap="round" transform="translate(0.3,0.8)"/>
<path d="M664.4,646.0 C669.0,646.9 670.3,650.3 670.7,654.3" fill="none" stroke="#6a6d70" stroke-width="2.7" stroke-linecap="round" transform="translate(0.3,0.8)"/>
<path d="M435.9,647.8 C439.3,647.8 440.9,651.8 444.4,651.7" fill="none" stroke="#6a6d70" stroke-width="2.4" stroke-linecap="round" transform="translate(0.3,0.8)"/>
<path d="M223.0,640.9 C225.1,638.4 224.1,634.8 226.0,632.3" fill="none" stroke="#6a6d70" stroke-width="2.8" stroke-linecap="round" transform="translate(0.3,0.8)"/>
<path d="M415.1,635.1 C414.3,631.5 416.2,629.2 418.7,627.1" fill="none" stroke="#6a6d70" stroke-width="2.5" stroke-linecap="round" transform="translate(0.3,0.8)"/>
<path d="M600.9,615.9 C603.3,614.3 605.2,617.7 607.6,616.5" fill="none" stroke="#6a6d70" stroke-width="2.6" stroke-linecap="round" transform="translate(0.3,0.8)"/>
<path d="M436.4,608.2 C440.2,606.2 442.3,610.9 445.6,610.7" fill="none" stroke="#6a6d70" stroke-width="2.8" stroke-linecap="round" transform="translate(0.3,0.8)"/>
<path d="M601.0,626.6 C605.5,627.2 607.8,630.2 609.0,634.2" fill="none" stroke="#6a6d70" stroke-width="2.5" stroke-linecap="round" transform="translate(0.3,0.8)"/>
<path d="M585.5,619.3 C585.6,621.7 586.4,624.0 587.0,626.3" fill="none" stroke="#6a6d70" stroke-width="3.2" stroke-linecap="round" transform="translate(0.3,0.8)"/>
<path d="M149.9,619.6 C150.9,616.9 150.3,613.9 151.0,611.1" fill="none" stroke="#6a6d70" stroke-width="3.1" stroke-linecap="round" transform="translate(0.3,0.8)"/>
<path d="M355.9,642.0 C357.1,645.3 358.7,648.4 360.6,651.3" fill="none" stroke="#6a6d70" stroke-width="2.6" stroke-linecap="round" transform="translate(0.3,0.8)"/>
<path d="M533.5,617.5 C535.6,621.4 540.8,620.1 543.3,623.3" fill="none" stroke="#6a6d70" stroke-width="3.1" stroke-linecap="round" transform="translate(0.3,0.8)"/>
<path d="M649.7,637.7 C652.5,635.7 652.8,641.7 655.7,639.6" fill="none" stroke="#6a6d70" stroke-width="2.5" stroke-linecap="round" transform="translate(0.3,0.8)"/>
<path d="M637.5,639.5 C638.8,637.2 640.5,635.2 642.3,633.3" fill="none" stroke="#6a6d70" stroke-width="2.5" stroke-linecap="round" transform="translate(0.3,0.8)"/>
<path d="M126.4,614.0 C129.0,611.1 130.7,607.5 133.3,604.6" fill="none" stroke="#6a6d70" stroke-width="2.8" stroke-linecap="round" transform="translate(0.3,0.8)"/>
<path d="M195.2,643.4 C196.8,647.0 200.5,647.3 203.5,648.6" fill="none" stroke="#6a6d70" stroke-width="2.7" stroke-linecap="round" transform="translate(0.3,0.8)"/>
<path d="M199.3,623.4 C204.4,624.5 201.8,631.8 206.9,632.8" fill="none" stroke="#6a6d70" stroke-width="3.1" stroke-linecap="round" transform="translate(0.3,0.8)"/>
<path d="M337.6,623.8 C339.4,625.4 340.5,627.6 341.3,629.9" fill="none" stroke="#6a6d70" stroke-width="2.5" stroke-linecap="round" transform="translate(0.3,0.8)"/>
<path d="M297.8,612.8 C302.6,610.8 305.2,616.8 309.6,616.0" fill="none" stroke="#6a6d70" stroke-width="2.9" stroke-linecap="round" transform="translate(0.3,0.8)"/>
<path d="M443.0,626.8 C443.9,624.1 443.4,621.2 443.9,618.4" fill="none" stroke="#6a6d70" stroke-width="2.9" stroke-linecap="round" transform="translate(0.3,0.8)"/>
<path d="M671.3,604.5 C674.1,604.2 674.8,607.8 677.4,607.9" fill="none" stroke="#6a6d70" stroke-width="2.7" stroke-linecap="round" transform="translate(0.3,0.8)"/>
<path d="M438.2,623.0 C441.9,626.9 435.9,631.8 439.6,635.7" fill="none" stroke="#6a6d70" stroke-width="3.3" stroke-linecap="round" transform="translate(0.3,0.8)"/>
<path d="M549.9,636.5 C552.5,633.7 555.8,632.4 559.5,632.3" fill="none" stroke="#6a6d70" stroke-width="3.3" stroke-linecap="round" transform="translate(0.3,0.8)"/>
<path d="M498.0,614.9 C500.8,617.4 503.7,619.8 506.6,622.3" fill="none" stroke="#6a6d70" stroke-width="3.0" stroke-linecap="round" transform="translate(0.3,0.8)"/>
<path d="M343.3,609.0 C347.5,610.6 347.1,604.3 350.6,604.8" fill="none" stroke="#6a6d70" stroke-width="2.6" stroke-linecap="round" transform="translate(0.3,0.8)"/>
<path d="M250.1,624.2 C252.9,622.2 248.8,619.4 250.8,617.3" fill="none" stroke="#6a6d70" stroke-width="3.0" stroke-linecap="round" transform="translate(0.3,0.8)"/>
<path d="M285.9,613.9 C286.9,611.6 289.0,610.8 291.2,610.3" fill="none" stroke="#6a6d70" stroke-width="3.3" stroke-linecap="round" transform="translate(0.3,0.8)"/>
<path d="M308.4,653.0 C307.4,649.1 313.1,647.5 311.6,643.4" fill="none" stroke="#6a6d70" stroke-width="2.8" stroke-linecap="round" transform="translate(0.3,0.8)"/>
<path d="M553.1,630.3 C554.1,626.5 555.3,622.6 556.5,618.8" fill="none" stroke="#6a6d70" stroke-width="2.7" stroke-linecap="round" transform="translate(0.3,0.8)"/>
<path d="M127.8,609.7 C131.1,609.5 131.6,613.4 134.2,614.1" fill="none" stroke="#6a6d70" stroke-width="3.0" stroke-linecap="round" transform="translate(0.3,0.8)"/>
<path d="M602.5,632.7 C602.3,636.8 605.7,636.6 608.2,637.5" fill="none" stroke="#6a6d70" stroke-width="3.2" stroke-linecap="round" transform="translate(0.3,0.8)"/>
<path d="M609.7,623.2 C611.3,621.5 612.6,619.6 613.9,617.6" fill="none" stroke="#6a6d70" stroke-width="3.3" stroke-linecap="round" transform="translate(0.3,0.8)"/>
<path d="M232.6,617.3 C236.3,618.3 239.5,620.2 242.8,622.1" fill="none" stroke="#6a6d70" stroke-width="2.5" stroke-linecap="round" transform="translate(0.3,0.8)"/>
<path d="M347.1,608.6 C350.1,607.0 353.2,605.4 356.2,603.7" fill="none" stroke="#6a6d70" stroke-width="2.9" stroke-linecap="round" transform="translate(0.3,0.8)"/>
<path d="M125.1,643.5 C128.5,646.4 128.3,649.8 126.3,653.3" fill="none" stroke="#6a6d70" stroke-width="2.7" stroke-linecap="round" transform="translate(0.3,0.8)"/>
<path d="M168.2,609.0 C171.9,608.7 172.6,611.2 173.2,614.0" fill="none" stroke="#6a6d70" stroke-width="2.9" stroke-linecap="round" transform="translate(0.3,0.8)"/>
<path d="M444.8,629.1 C448.6,629.0 451.7,630.7 455.0,632.2" fill="none" stroke="#6a6d70" stroke-width="3.1" stroke-linecap="round" transform="translate(0.3,0.8)"/>
<path d="M545.7,638.3 C545.1,642.6 550.8,641.0 551.3,644.2" fill="none" stroke="#6a6d70" stroke-width="2.9" stroke-linecap="round" transform="translate(0.3,0.8)"/>
<path d="M645.7,610.5 C647.8,611.5 649.7,610.8 651.7,610.1" fill="none" stroke="#6a6d70" stroke-width="3.4" stroke-linecap="round" transform="translate(0.3,0.8)"/>
<path d="M246.1,643.6 C244.0,641.0 248.8,639.6 247.2,637.0" fill="none" stroke="#6a6d70" stroke-width="3.0" stroke-linecap="round" transform="translate(0.3,0.8)"/>
<path d="M218.4,652.8 C217.9,649.2 219.4,646.8 222.7,645.4" fill="none" stroke="#6a6d70" stroke-width="2.6" stroke-linecap="round" transform="translate(0.3,0.8)"/>
<path d="M133.8,637.5 C134.2,640.1 134.6,642.6 134.9,645.2" fill="none" stroke="#6a6d70" stroke-width="3.2" stroke-linecap="round" transform="translate(0.3,0.8)"/>
<path d="M375.1,625.2 C378.2,622.1 377.0,617.1 379.9,613.9" fill="none" stroke="#6a6d70" stroke-width="2.8" stroke-linecap="round" transform="translate(0.3,0.8)"/>
<path d="M600.5,608.2 C604.5,610.1 607.5,608.4 610.1,605.6" fill="none" stroke="#6a6d70" stroke-width="2.6" stroke-linecap="round" transform="translate(0.3,0.8)"/>
<path d="M256.9,619.8 C257.5,616.2 260.1,614.5 263.2,613.4" fill="none" stroke="#6a6d70" stroke-width="2.7" stroke-linecap="round" transform="translate(0.3,0.8)"/>
<path d="M676.2,618.6 C680.1,617.1 680.6,613.5 681.4,610.1" fill="none" stroke="#6a6d70" stroke-width="3.2" stroke-linecap="round" transform="translate(0.3,0.8)"/>
<path d="M577.9,617.7 C580.8,620.4 583.4,615.0 586.2,617.4" fill="none" stroke="#6a6d70" stroke-width="3.0" stroke-linecap="round" transform="translate(0.3,0.8)"/>
<path d="M369.6,636.4 C374.2,635.1 372.8,628.5 377.5,627.2" fill="none" stroke="#6a6d70" stroke-width="3.3" stroke-linecap="round" transform="translate(0.3,0.8)"/>
<path d="M215.5,649.1 C217.2,643.9 224.8,647.5 226.2,641.8" fill="none" stroke="#6a6d70" stroke-width="2.4" stroke-linecap="round" transform="translate(0.3,0.8)"/>
<path d="M630.1,616.4 C629.3,612.1 632.2,609.3 634.2,606.1" fill="none" stroke="#6a6d70" stroke-width="2.7" stroke-linecap="round" transform="translate(0.3,0.8)"/>
<path d="M635.1,632.4 C639.0,635.9 633.1,640.9 636.9,644.4" fill="none" stroke="#6a6d70" stroke-width="3.1" stroke-linecap="round" transform="translate(0.3,0.8)"/>
<path d="M135.6,629.0 C137.6,625.8 141.3,631.2 143.1,627.4" fill="none" stroke="#6a6d70" stroke-width="2.7" stroke-linecap="round" transform="translate(0.3,0.8)"/>
<path d="M611.3,613.9 C612.3,610.9 614.7,608.6 615.7,605.6" fill="none" stroke="#6a6d70" stroke-width="2.5" stroke-linecap="round" transform="translate(0.3,0.8)"/>
<path d="M531.3,629.5 C533.3,628.5 535.4,627.5 537.4,626.6" fill="none" stroke="#6a6d70" stroke-width="2.6" stroke-linecap="round" transform="translate(0.3,0.8)"/>
<path d="M659.3,649.9 C660.8,645.8 665.6,645.9 668.0,642.9" fill="none" stroke="#6a6d70" stroke-width="2.4" stroke-linecap="round" transform="translate(0.3,0.8)"/>
<path d="M400.4,625.6 C402.1,621.1 405.5,620.7 409.5,621.6" fill="none" stroke="#6a6d70" stroke-width="2.9" stroke-linecap="round" transform="translate(0.3,0.8)"/>
<path d="M424.7,631.4 C425.2,635.9 429.3,638.7 430.4,642.9" fill="none" stroke="#6a6d70" stroke-width="2.8" stroke-linecap="round" transform="translate(0.3,0.8)"/>
<path d="M662.5,623.7 C664.7,620.6 668.0,621.7 670.9,621.4" fill="none" stroke="#6a6d70" stroke-width="3.0" stroke-linecap="round" transform="translate(0.3,0.8)"/>
<path d="M635.6,618.1 C638.2,615.1 642.3,616.3 645.2,614.4" fill="none" stroke="#6a6d70" stroke-width="3.2" stroke-linecap="round" transform="translate(0.3,0.8)"/>
<path d="M557.5,645.9 C559.9,646.0 561.5,647.5 562.8,649.3" fill="none" stroke="#6a6d70" stroke-width="2.7" stroke-linecap="round" transform="translate(0.3,0.8)"/>
<path d="M294.5,689.7 C297.2,689.3 299.8,688.7 302.5,688.3" fill="none" stroke="#c3c6c9" stroke-width="1.9" stroke-linecap="round"/>
<path d="M148.4,691.6 C151.8,691.0 154.3,692.2 156.0,695.1" fill="none" stroke="#c3c6c9" stroke-width="2.0" stroke-linecap="round"/>
<path d="M130.0,704.0 C135.3,699.8 141.6,697.6 147.7,695.0" fill="none" stroke="#c3c6c9" stroke-width="2.0" stroke-linecap="round"/>
<path d="M440.7,674.1 C445.6,672.4 448.7,667.9 453.3,665.7" fill="none" stroke="#c3c6c9" stroke-width="2.1" stroke-linecap="round"/>
<path d="M442.9,665.8 C447.8,665.9 450.9,670.5 455.7,671.0" fill="none" stroke="#c3c6c9" stroke-width="2.8" stroke-linecap="round"/>
<path d="M605.3,677.8 C612.2,674.6 619.8,677.0 626.9,675.4" fill="none" stroke="#c3c6c9" stroke-width="2.9" stroke-linecap="round"/>
<path d="M488.8,663.0 C493.5,667.1 500.1,667.9 505.0,671.8" fill="none" stroke="#c3c6c9" stroke-width="2.2" stroke-linecap="round"/>
<path d="M368.9,698.6 C373.4,696.9 377.2,694.2 380.7,690.9" fill="none" stroke="#c3c6c9" stroke-width="2.8" stroke-linecap="round"/>
<path d="M270.8,655.4 C272.8,651.0 278.1,651.0 281.1,647.8" fill="none" stroke="#c3c6c9" stroke-width="2.4" stroke-linecap="round"/>
<path d="M550.2,680.0 C552.8,683.4 555.7,686.5 558.8,689.5" fill="none" stroke="#c3c6c9" stroke-width="2.4" stroke-linecap="round"/>
<path d="M604.2,686.2 C608.4,688.6 611.2,683.3 615.1,684.1" fill="none" stroke="#c3c6c9" stroke-width="3.0" stroke-linecap="round"/>
<path d="M239.3,684.4 C243.0,680.5 248.3,678.8 251.9,674.7" fill="none" stroke="#c3c6c9" stroke-width="2.4" stroke-linecap="round"/>
<path d="M502.6,691.2 C506.7,695.0 511.5,695.9 516.9,694.6" fill="none" stroke="#c3c6c9" stroke-width="1.9" stroke-linecap="round"/>
<path d="M568.0,670.1 C569.3,666.8 573.4,668.0 575.2,665.4" fill="none" stroke="#c3c6c9" stroke-width="1.9" stroke-linecap="round"/>
<path d="M139.3,688.0 C139.6,683.9 142.1,683.6 145.3,684.4" fill="none" stroke="#c3c6c9" stroke-width="2.3" stroke-linecap="round"/>
<path d="M192.0,675.0 C195.8,676.7 199.4,678.8 203.1,680.6" fill="none" stroke="#c3c6c9" stroke-width="3.2" stroke-linecap="round"/>
<path d="M165.4,687.4 C170.4,686.1 173.6,689.0 176.4,692.6" fill="none" stroke="#c3c6c9" stroke-width="2.0" stroke-linecap="round"/>
<path d="M200.9,669.1 C199.3,674.1 194.4,676.6 192.0,681.1" fill="none" stroke="#c3c6c9" stroke-width="2.8" stroke-linecap="round"/>
<path d="M549.3,678.9 C554.7,679.9 559.5,678.5 563.9,675.5" fill="none" stroke="#c3c6c9" stroke-width="2.1" stroke-linecap="round"/>
<path d="M571.2,687.9 C574.0,684.0 578.3,688.3 581.4,685.9" fill="none" stroke="#c3c6c9" stroke-width="1.8" stroke-linecap="round"/>
<path d="M502.0,652.8 C506.2,659.3 514.7,659.2 519.8,664.4" fill="none" stroke="#c3c6c9" stroke-width="3.2" stroke-linecap="round"/>
<path d="M247.2,674.1 C243.3,678.0 240.9,683.0 238.1,687.7" fill="none" stroke="#c3c6c9" stroke-width="2.5" stroke-linecap="round"/>
<path d="M482.7,682.9 C490.0,683.1 496.1,686.4 502.3,689.7" fill="none" stroke="#c3c6c9" stroke-width="2.5" stroke-linecap="round"/>
<path d="M575.8,684.8 C576.5,689.8 569.8,691.7 570.8,696.9" fill="none" stroke="#c3c6c9" stroke-width="2.0" stroke-linecap="round"/>
<path d="M572.9,673.0 C575.9,673.9 577.5,677.0 580.2,678.4" fill="none" stroke="#c3c6c9" stroke-width="2.7" stroke-linecap="round"/>
<path d="M119.3,689.1 C117.6,694.3 121.7,698.8 121.1,703.9" fill="none" stroke="#c3c6c9" stroke-width="3.0" stroke-linecap="round"/>
<path d="M275.7,676.2 C278.3,672.7 282.0,672.8 285.8,672.9" fill="none" stroke="#c3c6c9" stroke-width="2.4" stroke-linecap="round"/>
<path d="M375.9,647.0 C375.7,651.4 376.0,655.8 375.9,660.3" fill="none" stroke="#c3c6c9" stroke-width="2.5" stroke-linecap="round"/>
<path d="M214.3,665.4 C217.1,665.8 218.1,662.6 220.7,662.4" fill="none" stroke="#c3c6c9" stroke-width="2.5" stroke-linecap="round"/>
<path d="M406.5,658.0 C409.8,658.9 411.4,654.7 414.6,655.2" fill="none" stroke="#c3c6c9" stroke-width="2.2" stroke-linecap="round"/>
<path d="M539.5,668.7 C546.3,669.8 553.2,670.8 560.0,671.8" fill="none" stroke="#c3c6c9" stroke-width="2.5" stroke-linecap="round"/>
<path d="M510.6,673.1 C510.5,680.5 515.2,685.7 518.9,691.5" fill="none" stroke="#c3c6c9" stroke-width="2.6" stroke-linecap="round"/>
<path d="M176.9,672.1 C179.7,675.6 184.4,671.1 187.2,674.5" fill="none" stroke="#c3c6c9" stroke-width="2.9" stroke-linecap="round"/>
<path d="M495.6,676.7 C491.2,676.4 492.8,682.5 489.0,682.9" fill="none" stroke="#c3c6c9" stroke-width="2.1" stroke-linecap="round"/>
<path d="M675.6,683.2 C679.7,681.1 684.3,681.1 688.7,680.4" fill="none" stroke="#c3c6c9" stroke-width="2.1" stroke-linecap="round"/>
<path d="M424.5,672.8 C428.9,671.9 433.3,670.7 437.8,669.8" fill="none" stroke="#c3c6c9" stroke-width="2.7" stroke-linecap="round"/>
<path d="M561.0,682.0 C565.3,680.9 566.8,687.4 571.2,686.0" fill="none" stroke="#c3c6c9" stroke-width="2.2" stroke-linecap="round"/>
<path d="M579.1,674.0 C581.5,677.2 585.5,677.5 588.4,679.8" fill="none" stroke="#c3c6c9" stroke-width="2.6" stroke-linecap="round"/>
<path d="M498.7,669.4 C504.2,674.4 512.7,672.4 518.1,677.6" fill="none" stroke="#c3c6c9" stroke-width="1.9" stroke-linecap="round"/>
<path d="M368.3,677.0 C373.1,677.0 374.4,682.5 378.5,683.5" fill="none" stroke="#c3c6c9" stroke-width="2.2" stroke-linecap="round"/>
<path d="M170.2,681.5 C173.1,679.2 176.8,680.4 179.9,678.9" fill="none" stroke="#c3c6c9" stroke-width="2.9" stroke-linecap="round"/>
<path d="M309.0,683.7 C311.1,682.6 312.7,680.6 314.8,679.4" fill="none" stroke="#c3c6c9" stroke-width="2.8" stroke-linecap="round"/>
<path d="M644.3,694.0 C648.3,695.9 652.4,697.9 656.4,699.8" fill="none" stroke="#c3c6c9" stroke-width="2.4" stroke-linecap="round"/>
<path d="M299.8,691.1 C306.4,691.2 312.5,693.9 319.0,694.6" fill="none" stroke="#c3c6c9" stroke-width="2.4" stroke-linecap="round"/>
<path d="M148.5,675.4 C150.8,677.8 154.4,677.6 157.0,679.5" fill="none" stroke="#c3c6c9" stroke-width="3.0" stroke-linecap="round"/>
<path d="M273.9,668.5 C278.7,671.4 283.3,669.9 287.7,667.5" fill="none" stroke="#c3c6c9" stroke-width="2.2" stroke-linecap="round"/>
<path d="M246.7,689.9 C250.8,689.3 254.8,688.6 258.9,688.0" fill="none" stroke="#c3c6c9" stroke-width="2.5" stroke-linecap="round"/>
<path d="M109.4,676.3 C112.6,672.5 116.9,677.1 120.3,674.9" fill="none" stroke="#c3c6c9" stroke-width="1.9" stroke-linecap="round"/>
<path d="M441.9,652.6 C447.4,654.3 451.9,657.7 456.7,660.8" fill="none" stroke="#c3c6c9" stroke-width="2.3" stroke-linecap="round"/>
<path d="M521.6,670.5 C526.2,673.7 531.3,675.9 536.6,677.6" fill="none" stroke="#c3c6c9" stroke-width="3.0" stroke-linecap="round"/>
<path d="M183.4,658.7 C188.1,663.9 194.3,666.0 201.1,666.9" fill="none" stroke="#c3c6c9" stroke-width="2.6" stroke-linecap="round"/>
<path d="M240.8,676.4 C243.7,678.2 245.3,673.5 248.1,675.0" fill="none" stroke="#c3c6c9" stroke-width="1.9" stroke-linecap="round"/>
<path d="M469.4,670.5 C471.5,671.5 473.8,672.1 476.0,672.8" fill="none" stroke="#c3c6c9" stroke-width="2.5" stroke-linecap="round"/>
<path d="M531.3,666.0 C534.0,662.9 537.5,661.9 541.5,662.7" fill="none" stroke="#c3c6c9" stroke-width="2.8" stroke-linecap="round"/>
<path d="M388.0,665.7 C394.1,663.6 399.1,669.0 405.0,668.3" fill="none" stroke="#c3c6c9" stroke-width="2.7" stroke-linecap="round"/>
<path d="M535.5,691.5 C537.6,687.9 540.9,685.9 544.7,684.5" fill="none" stroke="#c3c6c9" stroke-width="1.9" stroke-linecap="round"/>
<path d="M495.1,677.4 C498.2,673.3 502.3,671.1 507.3,670.6" fill="none" stroke="#c3c6c9" stroke-width="3.1" stroke-linecap="round"/>
<path d="M116.4,689.1 C121.1,690.5 122.9,696.0 127.7,697.2" fill="none" stroke="#c3c6c9" stroke-width="2.4" stroke-linecap="round"/>
<path d="M228.9,665.8 C231.8,669.8 234.8,673.7 237.8,677.7" fill="none" stroke="#c3c6c9" stroke-width="2.9" stroke-linecap="round"/>
<path d="M237.0,680.5 C242.5,676.4 248.1,672.5 253.5,668.4" fill="none" stroke="#c3c6c9" stroke-width="1.8" stroke-linecap="round"/>
<path d="M183.8,668.5 C190.8,668.1 196.8,670.8 202.3,674.9" fill="none" stroke="#c3c6c9" stroke-width="3.0" stroke-linecap="round"/>
<path d="M625.7,688.2 C629.5,688.3 633.1,686.7 636.9,686.6" fill="none" stroke="#c3c6c9" stroke-width="3.2" stroke-linecap="round"/>
<path d="M262.3,678.4 C268.7,680.6 272.8,686.2 278.7,689.1" fill="none" stroke="#c3c6c9" stroke-width="2.1" stroke-linecap="round"/>
<path d="M332.6,670.7 C326.4,675.3 323.6,681.9 321.5,688.9" fill="none" stroke="#c3c6c9" stroke-width="2.7" stroke-linecap="round"/>
<path d="M519.7,696.8 C524.8,694.6 528.9,697.6 533.2,699.4" fill="none" stroke="#c3c6c9" stroke-width="2.2" stroke-linecap="round"/>
<path d="M378.2,682.6 C382.6,682.2 386.1,684.4 389.8,686.4" fill="none" stroke="#c3c6c9" stroke-width="3.2" stroke-linecap="round"/>
<path d="M429.0,669.4 C432.7,669.3 435.4,670.9 437.1,674.2" fill="none" stroke="#c3c6c9" stroke-width="2.5" stroke-linecap="round"/>
<path d="M367.3,685.2 C368.4,681.2 373.3,683.4 375.1,680.5" fill="none" stroke="#c3c6c9" stroke-width="2.3" stroke-linecap="round"/>
<path d="M433.5,694.2 C437.9,693.2 442.3,695.1 446.7,694.6" fill="none" stroke="#c3c6c9" stroke-width="2.3" stroke-linecap="round"/>
<path d="M665.0,663.2 C668.3,661.7 670.7,665.2 673.8,664.7" fill="none" stroke="#c3c6c9" stroke-width="3.0" stroke-linecap="round"/>
<path d="M592.7,694.6 C599.7,693.0 602.2,684.9 609.0,682.9" fill="none" stroke="#c3c6c9" stroke-width="2.8" stroke-linecap="round"/>
<path d="M119.2,648.3 C116.3,654.7 108.3,655.6 105.0,661.5" fill="none" stroke="#c3c6c9" stroke-width="2.1" stroke-linecap="round"/>
<path d="M494.5,694.7 C501.5,695.8 508.3,697.5 515.2,698.8" fill="none" stroke="#c3c6c9" stroke-width="2.9" stroke-linecap="round"/>
<path d="M555.3,685.1 C560.6,683.3 565.2,680.1 570.0,677.2" fill="none" stroke="#c3c6c9" stroke-width="2.2" stroke-linecap="round"/>
<path d="M145.2,708.1 C150.2,708.1 154.9,706.3 159.9,705.9" fill="none" stroke="#c3c6c9" stroke-width="2.1" stroke-linecap="round"/>
<path d="M367.8,699.6 C375.3,700.3 381.0,696.3 386.9,692.6" fill="none" stroke="#c3c6c9" stroke-width="2.1" stroke-linecap="round"/>
<path d="M117.4,674.0 C122.3,674.6 127.0,673.4 131.7,672.5" fill="none" stroke="#c3c6c9" stroke-width="2.2" stroke-linecap="round"/>
<path d="M123.7,667.6 C129.0,669.8 134.3,671.9 139.6,674.2" fill="none" stroke="#c3c6c9" stroke-width="2.8" stroke-linecap="round"/>
<path d="M282.5,693.0 C288.0,689.4 294.2,687.6 300.5,686.1" fill="none" stroke="#c3c6c9" stroke-width="2.9" stroke-linecap="round"/>
<path d="M215.0,673.3 C219.9,676.8 222.0,682.2 224.8,687.2" fill="none" stroke="#c3c6c9" stroke-width="2.4" stroke-linecap="round"/>
<path d="M138.4,689.3 C139.9,692.1 142.2,693.3 145.3,693.3" fill="none" stroke="#c3c6c9" stroke-width="3.0" stroke-linecap="round"/>
<path d="M292.8,688.0 C298.9,688.5 304.5,691.1 310.5,692.0" fill="none" stroke="#c3c6c9" stroke-width="2.3" stroke-linecap="round"/>
<path d="M109.0,702.8 C110.3,707.6 116.3,705.4 118.3,709.2" fill="none" stroke="#c3c6c9" stroke-width="2.0" stroke-linecap="round"/>
<path d="M581.4,684.7 C583.6,682.1 586.9,686.2 589.0,683.4" fill="none" stroke="#c3c6c9" stroke-width="3.1" stroke-linecap="round"/>
<path d="M123.3,663.3 C128.5,661.7 130.2,669.8 135.6,667.8" fill="none" stroke="#c3c6c9" stroke-width="1.9" stroke-linecap="round"/>
<path d="M255.1,674.1 C259.3,675.0 262.1,678.1 265.0,681.0" fill="none" stroke="#c3c6c9" stroke-width="2.7" stroke-linecap="round"/>
<path d="M267.8,648.3 C268.1,652.2 272.6,649.5 273.8,652.0" fill="none" stroke="#c3c6c9" stroke-width="2.7" stroke-linecap="round"/>
<path d="M329.2,669.4 C332.8,667.1 336.4,667.6 340.0,669.3" fill="none" stroke="#c3c6c9" stroke-width="3.1" stroke-linecap="round"/>
<path d="M580.0,681.6 C583.4,678.0 588.4,683.0 591.8,679.5" fill="none" stroke="#c3c6c9" stroke-width="2.9" stroke-linecap="round"/>
<path d="M250.5,660.1 C252.9,663.7 255.5,663.8 258.4,660.7" fill="none" stroke="#c3c6c9" stroke-width="2.3" stroke-linecap="round"/>
<path d="M257.4,683.6 C262.1,682.6 267.0,682.5 271.8,682.5" fill="none" stroke="#c3c6c9" stroke-width="2.1" stroke-linecap="round"/>
<path d="M534.2,685.7 C539.3,681.3 546.2,680.2 551.5,676.2" fill="none" stroke="#c3c6c9" stroke-width="3.0" stroke-linecap="round"/>
<path d="M532.5,678.5 C536.2,679.1 538.0,683.2 541.8,683.7" fill="none" stroke="#c3c6c9" stroke-width="2.6" stroke-linecap="round"/>
<path d="M399.1,686.2 C403.1,684.2 405.3,690.5 409.3,688.4" fill="none" stroke="#c3c6c9" stroke-width="3.2" stroke-linecap="round"/>
<path d="M590.9,683.5 C594.7,682.5 598.0,680.7 601.4,678.9" fill="none" stroke="#c3c6c9" stroke-width="3.2" stroke-linecap="round"/>
<path d="M604.5,673.6 C609.7,672.7 612.2,679.1 617.3,678.6" fill="none" stroke="#c3c6c9" stroke-width="3.1" stroke-linecap="round"/>
<path d="M232.4,672.5 C236.0,670.9 238.9,674.6 242.3,673.8" fill="none" stroke="#c3c6c9" stroke-width="2.7" stroke-linecap="round"/>
<path d="M498.2,685.1 C501.3,684.2 504.2,682.5 507.2,681.4" fill="none" stroke="#c3c6c9" stroke-width="2.9" stroke-linecap="round"/>
<path d="M335.6,659.3 C338.7,658.5 340.6,662.4 343.7,661.4" fill="none" stroke="#c3c6c9" stroke-width="2.4" stroke-linecap="round"/>
<path d="M284.2,673.1 C289.7,676.0 294.3,670.3 299.6,671.4" fill="none" stroke="#c3c6c9" stroke-width="3.0" stroke-linecap="round"/>
<path d="M522.0,674.2 C527.1,679.4 535.0,678.7 540.7,682.6" fill="none" stroke="#c3c6c9" stroke-width="2.4" stroke-linecap="round"/>
<path d="M114.0,675.4 C117.9,678.8 123.1,680.1 127.1,683.3" fill="none" stroke="#c3c6c9" stroke-width="1.9" stroke-linecap="round"/>
<path d="M185.6,674.9 C192.6,678.0 199.5,673.3 206.5,674.6" fill="none" stroke="#c3c6c9" stroke-width="2.9" stroke-linecap="round"/>
<path d="M646.2,699.5 C651.8,694.8 657.9,691.0 664.2,687.4" fill="none" stroke="#c3c6c9" stroke-width="3.1" stroke-linecap="round"/>
<path d="M582.3,687.9 C586.4,687.4 587.8,692.3 591.6,692.5" fill="none" stroke="#c3c6c9" stroke-width="3.0" stroke-linecap="round"/>
<path d="M404.3,699.4 C409.2,700.6 411.6,694.5 416.3,695.2" fill="none" stroke="#c3c6c9" stroke-width="2.8" stroke-linecap="round"/>
<path d="M543.9,701.8 C546.9,700.7 549.7,703.3 552.7,702.4" fill="none" stroke="#c3c6c9" stroke-width="2.7" stroke-linecap="round"/>
<path d="M348.8,684.6 C354.5,684.9 360.0,683.2 365.6,683.2" fill="none" stroke="#c3c6c9" stroke-width="1.8" stroke-linecap="round"/>
<path d="M547.6,683.1 C550.2,681.1 553.4,680.2 556.0,678.3" fill="none" stroke="#c3c6c9" stroke-width="2.0" stroke-linecap="round"/>
<path d="M402.6,665.9 C405.8,666.2 406.6,662.6 409.1,661.9" fill="none" stroke="#c3c6c9" stroke-width="2.8" stroke-linecap="round"/>
<path d="M405.7,652.1 C402.0,652.4 402.8,658.0 398.8,658.0" fill="none" stroke="#c3c6c9" stroke-width="2.8" stroke-linecap="round"/>
<path d="M389.4,691.3 C390.8,698.9 398.8,702.1 401.2,709.1" fill="none" stroke="#c3c6c9" stroke-width="2.9" stroke-linecap="round"/>
<path d="M542.6,695.6 C547.2,696.5 548.5,690.8 552.5,690.5" fill="none" stroke="#c3c6c9" stroke-width="2.5" stroke-linecap="round"/>
<path d="M398.1,703.7 C402.9,704.9 406.4,703.0 408.8,698.9" fill="none" stroke="#c3c6c9" stroke-width="2.0" stroke-linecap="round"/>
<path d="M201.8,680.8 C206.8,680.2 211.6,678.5 216.5,678.0" fill="none" stroke="#c3c6c9" stroke-width="3.0" stroke-linecap="round"/>
<path d="M161.4,673.3 C168.4,670.6 175.7,670.1 183.1,670.2" fill="none" stroke="#c3c6c9" stroke-width="2.9" stroke-linecap="round"/>
<path d="M315.5,682.0 C317.2,678.8 319.9,677.0 323.5,676.6" fill="none" stroke="#c3c6c9" stroke-width="2.9" stroke-linecap="round"/>
<path d="M442.8,669.2 C445.7,663.8 450.9,661.2 456.2,658.8" fill="none" stroke="#c3c6c9" stroke-width="1.8" stroke-linecap="round"/>
<path d="M403.1,686.6 C405.3,683.7 409.1,683.0 411.5,680.4" fill="none" stroke="#c3c6c9" stroke-width="1.8" stroke-linecap="round"/>
<path d="M233.9,676.8 C238.7,674.6 243.7,673.0 248.5,670.8" fill="none" stroke="#c3c6c9" stroke-width="2.7" stroke-linecap="round"/>
<path d="M256.2,674.1 C255.1,679.8 249.7,683.2 248.4,688.8" fill="none" stroke="#c3c6c9" stroke-width="2.4" stroke-linecap="round"/>
<path d="M429.8,683.2 C434.0,684.5 437.8,680.7 442.0,682.2" fill="none" stroke="#c3c6c9" stroke-width="3.1" stroke-linecap="round"/>
<path d="M132.4,663.1 C135.6,664.7 138.9,665.7 142.3,666.9" fill="none" stroke="#c3c6c9" stroke-width="1.8" stroke-linecap="round"/>
<path d="M219.0,673.9 C224.7,672.6 229.3,677.2 234.8,676.9" fill="none" stroke="#c3c6c9" stroke-width="2.9" stroke-linecap="round"/>
<path d="M132.0,691.5 C137.4,693.9 142.6,696.6 147.9,699.4" fill="none" stroke="#c3c6c9" stroke-width="2.8" stroke-linecap="round"/>
<path d="M238.6,665.9 C242.0,665.7 244.2,663.9 245.7,661.0" fill="none" stroke="#c3c6c9" stroke-width="2.3" stroke-linecap="round"/>
<path d="M515.2,676.1 C519.6,677.3 524.2,676.8 528.7,676.6" fill="none" stroke="#c3c6c9" stroke-width="2.2" stroke-linecap="round"/>
<path d="M615.5,695.7 C618.8,697.8 620.5,695.4 622.3,693.2" fill="none" stroke="#c3c6c9" stroke-width="2.8" stroke-linecap="round"/>
<path d="M609.0,670.8 C614.8,675.8 623.2,670.9 628.9,676.1" fill="none" stroke="#c3c6c9" stroke-width="2.7" stroke-linecap="round"/>
<path d="M504.3,683.5 C511.1,684.2 516.7,688.5 523.3,689.4" fill="none" stroke="#c3c6c9" stroke-width="2.6" stroke-linecap="round"/>
<path d="M153.7,682.2 C157.1,681.4 157.4,685.5 159.9,686.1" fill="none" stroke="#c3c6c9" stroke-width="2.3" stroke-linecap="round"/>
<path d="M503.1,671.6 C508.1,673.9 513.8,674.4 518.8,676.7" fill="none" stroke="#c3c6c9" stroke-width="1.9" stroke-linecap="round"/>
<path d="M591.1,674.6 C587.9,680.8 581.2,683.6 577.1,688.9" fill="none" stroke="#c3c6c9" stroke-width="1.9" stroke-linecap="round"/>
<path d="M591.6,671.0 C598.0,672.3 602.9,676.8 609.0,679.0" fill="none" stroke="#c3c6c9" stroke-width="2.7" stroke-linecap="round"/>
<path d="M541.9,683.3 C546.6,683.3 550.1,679.6 554.6,679.1" fill="none" stroke="#c3c6c9" stroke-width="2.2" stroke-linecap="round"/>
<path d="M668.8,681.8 C668.4,686.7 666.2,691.2 665.8,696.1" fill="none" stroke="#c3c6c9" stroke-width="1.8" stroke-linecap="round"/>
<path d="M308.4,669.6 C312.4,670.7 312.0,675.5 315.1,677.3" fill="none" stroke="#c3c6c9" stroke-width="2.9" stroke-linecap="round"/>
<path d="M540.2,662.6 C547.4,664.6 554.6,660.9 561.8,662.4" fill="none" stroke="#c3c6c9" stroke-width="2.5" stroke-linecap="round"/>
<path d="M302.1,686.9 C308.7,684.3 315.3,681.7 321.8,679.1" fill="none" stroke="#c3c6c9" stroke-width="2.8" stroke-linecap="round"/>
<path d="M149.9,665.7 C156.1,667.1 161.3,671.0 167.3,672.7" fill="none" stroke="#c3c6c9" stroke-width="2.7" stroke-linecap="round"/>
<path d="M621.4,702.5 C623.7,701.7 626.0,700.9 628.4,700.2" fill="none" stroke="#c3c6c9" stroke-width="3.1" stroke-linecap="round"/>
<path d="M240.0,689.7 C244.0,692.2 248.9,692.2 253.1,694.3" fill="none" stroke="#c3c6c9" stroke-width="2.9" stroke-linecap="round"/>
<path d="M192.4,689.3 C198.5,689.4 204.4,687.9 210.5,687.8" fill="none" stroke="#c3c6c9" stroke-width="2.9" stroke-linecap="round"/>
<path d="M616.7,663.4 C620.8,664.8 623.3,660.6 626.9,660.7" fill="none" stroke="#c3c6c9" stroke-width="2.8" stroke-linecap="round"/>
<path d="M250.3,672.6 C253.8,672.8 255.3,668.4 258.9,668.8" fill="none" stroke="#c3c6c9" stroke-width="3.2" stroke-linecap="round"/>
<path d="M173.7,686.5 C172.0,690.4 169.1,693.7 167.4,697.6" fill="none" stroke="#c3c6c9" stroke-width="2.8" stroke-linecap="round"/>
<path d="M170.1,680.1 C172.4,681.0 174.7,682.0 177.0,682.9" fill="none" stroke="#c3c6c9" stroke-width="2.8" stroke-linecap="round"/>
<path d="M186.1,687.9 C191.3,689.1 196.1,691.7 201.3,692.9" fill="none" stroke="#c3c6c9" stroke-width="3.1" stroke-linecap="round"/>
<path d="M344.8,678.1 C351.0,681.1 357.6,682.4 364.3,683.4" fill="none" stroke="#c3c6c9" stroke-width="3.0" stroke-linecap="round"/>
<path d="M284.1,699.5 C289.7,700.4 295.1,698.9 300.5,697.7" fill="none" stroke="#c3c6c9" stroke-width="2.9" stroke-linecap="round"/>
<path d="M350.5,657.0 C353.6,660.3 357.5,662.2 361.5,664.1" fill="none" stroke="#c3c6c9" stroke-width="2.1" stroke-linecap="round"/>
<path d="M383.4,682.4 C390.4,684.8 397.7,684.5 404.9,683.7" fill="none" stroke="#c3c6c9" stroke-width="2.0" stroke-linecap="round"/>
<path d="M161.5,661.9 C167.3,663.1 173.2,663.9 179.0,665.2" fill="none" stroke="#c3c6c9" stroke-width="3.0" stroke-linecap="round"/>
<path d="M224.9,667.7 C229.1,672.9 236.1,670.5 241.1,673.6" fill="none" stroke="#c3c6c9" stroke-width="2.0" stroke-linecap="round"/>
<path d="M263.6,674.6 C268.3,674.1 271.8,678.4 276.4,678.0" fill="none" stroke="#c3c6c9" stroke-width="2.3" stroke-linecap="round"/>
<path d="M646.5,676.4 C651.9,676.4 654.9,682.1 660.3,682.2" fill="none" stroke="#c3c6c9" stroke-width="2.3" stroke-linecap="round"/>
<path d="M572.0,663.8 C575.7,667.6 579.9,670.4 584.6,672.7" fill="none" stroke="#c3c6c9" stroke-width="2.3" stroke-linecap="round"/>
<path d="M376.6,669.8 C379.5,667.1 383.1,665.8 386.6,664.3" fill="none" stroke="#c3c6c9" stroke-width="3.0" stroke-linecap="round"/>
<path d="M324.0,676.3 C327.6,675.5 329.8,679.4 333.3,679.1" fill="none" stroke="#c3c6c9" stroke-width="2.2" stroke-linecap="round"/>
<path d="M350.7,693.2 C356.5,694.6 361.1,688.6 367.0,690.2" fill="none" stroke="#c3c6c9" stroke-width="3.1" stroke-linecap="round"/>
<path d="M626.0,685.4 C633.0,684.0 637.1,678.6 641.5,673.7" fill="none" stroke="#c3c6c9" stroke-width="1.8" stroke-linecap="round"/>
<path d="M166.2,669.4 C169.9,668.2 172.6,669.7 174.7,672.6" fill="none" stroke="#c3c6c9" stroke-width="2.3" stroke-linecap="round"/>
<path d="M200.6,687.1 C204.8,692.3 212.5,691.5 216.8,696.5" fill="none" stroke="#c3c6c9" stroke-width="2.9" stroke-linecap="round"/>
<path d="M409.8,662.3 C415.9,663.8 420.0,668.8 425.7,671.2" fill="none" stroke="#c3c6c9" stroke-width="2.6" stroke-linecap="round"/>
<path d="M391.4,691.6 C394.5,694.2 397.5,688.9 400.6,691.6" fill="none" stroke="#c3c6c9" stroke-width="2.6" stroke-linecap="round"/>
<path d="M374.6,679.9 C379.5,681.6 383.9,684.2 388.5,686.6" fill="none" stroke="#c3c6c9" stroke-width="2.3" stroke-linecap="round"/>
<path d="M472.1,671.6 C474.8,677.3 482.5,675.3 485.7,680.3" fill="none" stroke="#c3c6c9" stroke-width="2.3" stroke-linecap="round"/>
<path d="M625.3,675.0 C627.3,677.9 630.5,674.0 632.7,676.3" fill="none" stroke="#c3c6c9" stroke-width="2.3" stroke-linecap="round"/>
<path d="M408.0,678.7 C412.6,677.5 417.0,678.6 421.5,679.6" fill="none" stroke="#c3c6c9" stroke-width="3.0" stroke-linecap="round"/>
<path d="M397.7,665.9 C399.5,669.7 404.4,669.3 406.6,672.4" fill="none" stroke="#c3c6c9" stroke-width="2.7" stroke-linecap="round"/>
<path d="M275.4,659.5 C281.3,661.6 287.4,662.9 293.3,664.9" fill="none" stroke="#c3c6c9" stroke-width="3.0" stroke-linecap="round"/>
<path d="M116.5,663.6 C113.9,666.5 113.9,669.8 114.6,673.3" fill="none" stroke="#c3c6c9" stroke-width="2.7" stroke-linecap="round"/>
<path d="M459.8,666.9 C464.6,664.7 469.7,662.9 474.6,661.0" fill="none" stroke="#c3c6c9" stroke-width="2.7" stroke-linecap="round"/>
<path d="M213.2,661.7 C215.8,662.2 217.9,663.7 219.6,665.6" fill="none" stroke="#c3c6c9" stroke-width="2.7" stroke-linecap="round"/>
<path d="M429.1,678.1 C433.8,680.7 437.8,674.8 442.4,676.8" fill="none" stroke="#c3c6c9" stroke-width="2.7" stroke-linecap="round"/>
<path d="M130.3,688.6 C133.3,688.5 136.1,689.4 139.1,689.4" fill="none" stroke="#c3c6c9" stroke-width="3.1" stroke-linecap="round"/>
<path d="M379.4,662.8 C384.2,661.2 387.9,665.2 392.3,665.3" fill="none" stroke="#c3c6c9" stroke-width="2.1" stroke-linecap="round"/>
<path d="M503.3,699.1 C503.8,702.3 507.9,702.7 508.4,705.8" fill="none" stroke="#c3c6c9" stroke-width="1.8" stroke-linecap="round"/>
<path d="M216.2,700.4 C218.3,702.6 221.6,700.5 223.7,702.5" fill="none" stroke="#c3c6c9" stroke-width="3.0" stroke-linecap="round"/>
<path d="M249.8,691.9 C256.1,688.4 261.4,683.5 266.9,678.9" fill="none" stroke="#c3c6c9" stroke-width="1.8" stroke-linecap="round"/>
<path d="M282.9,682.5 C288.7,679.3 293.7,674.8 299.5,671.5" fill="none" stroke="#c3c6c9" stroke-width="2.3" stroke-linecap="round"/>
<path d="M186.2,668.4 C192.5,669.1 198.5,671.4 204.8,672.0" fill="none" stroke="#c3c6c9" stroke-width="2.7" stroke-linecap="round"/>
<path d="M651.7,678.3 C653.4,682.4 658.9,681.2 660.9,685.0" fill="none" stroke="#c3c6c9" stroke-width="2.8" stroke-linecap="round"/>
<path d="M665.6,664.0 C672.6,665.0 677.5,658.4 684.4,659.1" fill="none" stroke="#c3c6c9" stroke-width="2.4" stroke-linecap="round"/>
<path d="M453.3,698.5 C457.0,697.9 460.6,696.7 464.0,695.0" fill="none" stroke="#c3c6c9" stroke-width="2.4" stroke-linecap="round"/>
<path d="M127.7,659.1 C134.2,660.7 139.9,664.0 145.0,668.2" fill="none" stroke="#c3c6c9" stroke-width="2.6" stroke-linecap="round"/>
<path d="M502.5,686.7 C504.4,689.4 507.4,689.4 510.2,689.9" fill="none" stroke="#c3c6c9" stroke-width="2.1" stroke-linecap="round"/>
<path d="M453.6,675.1 C459.6,674.5 464.6,671.6 469.5,668.6" fill="none" stroke="#c3c6c9" stroke-width="2.2" stroke-linecap="round"/>
<path d="M158.0,683.1 C160.9,685.0 164.1,686.6 167.1,688.4" fill="none" stroke="#c3c6c9" stroke-width="3.0" stroke-linecap="round"/>
<path d="M216.2,655.7 C219.2,657.0 222.6,657.1 225.7,658.3" fill="none" stroke="#c3c6c9" stroke-width="2.3" stroke-linecap="round"/>
<path d="M323.5,688.7 C325.9,690.4 329.0,690.4 331.4,691.9" fill="none" stroke="#c3c6c9" stroke-width="2.0" stroke-linecap="round"/>
<path d="M604.1,688.5 C608.4,686.5 613.0,685.2 617.7,684.1" fill="none" stroke="#c3c6c9" stroke-width="2.9" stroke-linecap="round"/>
<path d="M580.2,689.2 C581.2,685.3 586.2,690.3 587.1,686.1" fill="none" stroke="#c3c6c9" stroke-width="1.9" stroke-linecap="round"/>
<path d="M368.7,668.1 C374.1,672.7 377.8,678.9 383.3,683.4" fill="none" stroke="#c3c6c9" stroke-width="2.6" stroke-linecap="round"/>
<path d="M249.6,662.4 C256.3,659.1 263.3,658.1 270.7,659.4" fill="none" stroke="#c3c6c9" stroke-width="2.4" stroke-linecap="round"/>
<path d="M236.0,671.4 C239.0,673.7 241.1,671.1 243.4,669.9" fill="none" stroke="#c3c6c9" stroke-width="3.1" stroke-linecap="round"/>
<path d="M555.2,678.2 C563.1,677.7 568.8,672.8 574.7,668.3" fill="none" stroke="#c3c6c9" stroke-width="2.9" stroke-linecap="round"/>
<path d="M443.7,662.0 C449.1,658.0 455.9,660.3 461.6,657.7" fill="none" stroke="#c3c6c9" stroke-width="2.2" stroke-linecap="round"/>
<path d="M246.0,691.6 C249.4,693.4 249.1,686.6 252.7,688.8" fill="none" stroke="#c3c6c9" stroke-width="1.9" stroke-linecap="round"/>
<path d="M601.1,694.0 C608.1,696.5 614.8,695.2 621.4,692.6" fill="none" stroke="#c3c6c9" stroke-width="1.9" stroke-linecap="round"/>
<path d="M366.2,668.3 C369.0,663.4 373.7,662.2 378.8,661.8" fill="none" stroke="#c3c6c9" stroke-width="2.1" stroke-linecap="round"/>
<path d="M185.4,699.6 C191.8,697.2 198.6,697.3 205.3,697.3" fill="none" stroke="#c3c6c9" stroke-width="2.0" stroke-linecap="round"/>
<path d="M200.4,660.5 C204.3,666.8 210.8,669.5 216.9,672.7" fill="none" stroke="#c3c6c9" stroke-width="1.9" stroke-linecap="round"/>
<path d="M381.8,680.8 C386.6,682.5 390.0,680.9 392.2,676.5" fill="none" stroke="#c3c6c9" stroke-width="2.3" stroke-linecap="round"/>
<path d="M164.4,672.3 C166.0,668.3 169.0,669.3 172.0,670.2" fill="none" stroke="#c3c6c9" stroke-width="3.2" stroke-linecap="round"/>
<path d="M189.2,704.7 C191.6,704.3 193.9,704.7 196.2,704.9" fill="none" stroke="#c3c6c9" stroke-width="2.1" stroke-linecap="round"/>
<path d="M432.6,686.9 C437.1,681.9 443.3,680.5 449.6,679.7" fill="none" stroke="#c3c6c9" stroke-width="1.9" stroke-linecap="round"/>
<path d="M264.9,682.9 C268.0,684.4 271.4,684.5 274.6,685.6" fill="none" stroke="#c3c6c9" stroke-width="2.9" stroke-linecap="round"/>
<path d="M530.2,661.4 C533.3,663.4 535.1,659.5 537.9,659.7" fill="none" stroke="#c3c6c9" stroke-width="3.0" stroke-linecap="round"/>
<path d="M633.5,682.9 C633.2,688.1 638.2,691.1 639.1,695.8" fill="none" stroke="#c3c6c9" stroke-width="2.1" stroke-linecap="round"/>
<path d="M318.4,676.8 C323.3,678.4 328.2,678.4 333.2,677.1" fill="none" stroke="#c3c6c9" stroke-width="2.0" stroke-linecap="round"/>
<path d="M288.5,674.4 C293.2,678.8 299.2,679.7 305.2,680.2" fill="none" stroke="#c3c6c9" stroke-width="1.9" stroke-linecap="round"/>
<path d="M406.0,658.9 C409.6,659.8 405.7,664.6 409.4,665.4" fill="none" stroke="#c3c6c9" stroke-width="2.1" stroke-linecap="round"/>
<path d="M125.4,676.6 C128.3,676.1 130.4,673.9 133.2,673.3" fill="none" stroke="#c3c6c9" stroke-width="1.8" stroke-linecap="round"/>
<path d="M508.9,703.2 C514.1,700.4 519.3,697.5 524.5,694.7" fill="none" stroke="#c3c6c9" stroke-width="2.5" stroke-linecap="round"/>
<path d="M341.6,691.7 C344.1,693.6 346.9,694.6 349.7,695.9" fill="none" stroke="#c3c6c9" stroke-width="2.0" stroke-linecap="round"/>
<path d="M581.1,689.7 C585.5,692.9 590.0,691.4 594.4,690.1" fill="none" stroke="#c3c6c9" stroke-width="2.4" stroke-linecap="round"/>
<path d="M245.6,669.5 C247.1,674.2 250.6,676.3 255.3,676.7" fill="none" stroke="#c3c6c9" stroke-width="2.9" stroke-linecap="round"/>
<path d="M644.9,673.5 C648.4,674.3 652.0,674.6 655.5,675.4" fill="none" stroke="#c3c6c9" stroke-width="2.3" stroke-linecap="round"/>
<path d="M393.7,679.2 C398.6,684.9 404.7,688.7 411.8,691.0" fill="none" stroke="#c3c6c9" stroke-width="2.7" stroke-linecap="round"/>
<path d="M123.7,677.0 C129.0,678.6 134.4,679.8 139.9,680.9" fill="none" stroke="#c3c6c9" stroke-width="2.2" stroke-linecap="round"/>
<path d="M246.1,667.0 C252.2,662.6 260.5,666.3 266.6,661.5" fill="none" stroke="#c3c6c9" stroke-width="2.7" stroke-linecap="round"/>
<path d="M402.4,676.0 C406.2,673.5 409.7,677.8 413.4,676.5" fill="none" stroke="#c3c6c9" stroke-width="2.0" stroke-linecap="round"/>
<path d="M342.4,673.9 C344.7,675.5 347.3,676.4 349.9,677.5" fill="none" stroke="#c3c6c9" stroke-width="2.7" stroke-linecap="round"/>
<path d="M514.3,686.4 C519.1,685.8 523.4,688.4 528.0,688.5" fill="none" stroke="#c3c6c9" stroke-width="2.5" stroke-linecap="round"/>
<path d="M404.0,663.5 C405.9,665.0 408.3,665.5 410.4,666.8" fill="none" stroke="#c3c6c9" stroke-width="2.1" stroke-linecap="round"/>
<path d="M675.7,692.1 C680.2,692.7 682.1,687.9 685.9,687.1" fill="none" stroke="#c3c6c9" stroke-width="1.9" stroke-linecap="round"/>
<path d="M331.9,655.8 C335.6,655.5 335.7,660.3 339.0,660.8" fill="none" stroke="#c3c6c9" stroke-width="2.8" stroke-linecap="round"/>
<path d="M493.6,682.5 C497.8,686.2 502.9,688.2 508.4,689.2" fill="none" stroke="#c3c6c9" stroke-width="2.5" stroke-linecap="round"/>
<path d="M376.6,677.6 C381.8,682.5 389.4,682.9 394.9,687.3" fill="none" stroke="#c3c6c9" stroke-width="1.8" stroke-linecap="round"/>
<path d="M659.3,655.2 C663.8,657.8 669.1,658.5 673.8,660.9" fill="none" stroke="#c3c6c9" stroke-width="3.0" stroke-linecap="round"/>
<path d="M369.4,677.2 C373.9,678.5 378.1,677.0 382.1,675.2" fill="none" stroke="#c3c6c9" stroke-width="2.3" stroke-linecap="round"/>
<path d="M363.4,669.5 C366.6,668.6 368.9,666.0 372.1,665.1" fill="none" stroke="#c3c6c9" stroke-width="2.6" stroke-linecap="round"/>
<path d="M287.9,692.8 C294.7,688.7 302.4,694.1 309.2,690.7" fill="none" stroke="#c3c6c9" stroke-width="3.1" stroke-linecap="round"/>
<path d="M388.1,656.8 C395.0,657.3 401.9,657.4 408.9,657.9" fill="none" stroke="#c3c6c9" stroke-width="3.2" stroke-linecap="round"/>
<path d="M333.1,623.3 C337.5,624.7 340.1,622.2 342.3,619.0" fill="none" stroke="#c3c6c9" stroke-width="1.9" stroke-linecap="round"/>
<path d="M324.3,622.2 C327.0,625.5 330.4,625.1 334.0,624.3" fill="none" stroke="#c3c6c9" stroke-width="2.2" stroke-linecap="round"/>
<path d="M466.1,651.4 C468.7,653.9 471.8,650.6 474.5,652.2" fill="none" stroke="#c3c6c9" stroke-width="2.8" stroke-linecap="round"/>
<path d="M582.6,625.5 C582.2,628.1 583.1,630.2 585.2,631.7" fill="none" stroke="#c3c6c9" stroke-width="2.7" stroke-linecap="round"/>
<path d="M351.4,611.4 C354.0,611.5 356.7,611.5 359.4,611.6" fill="none" stroke="#c3c6c9" stroke-width="2.4" stroke-linecap="round"/>
<path d="M452.2,618.4 C457.4,617.2 458.9,624.8 464.1,623.5" fill="none" stroke="#c3c6c9" stroke-width="2.1" stroke-linecap="round"/>
<path d="M505.4,600.7 C506.3,603.4 508.1,605.5 509.7,607.6" fill="none" stroke="#c3c6c9" stroke-width="2.3" stroke-linecap="round"/>
<path d="M424.8,616.3 C428.0,620.1 432.0,614.6 435.3,617.3" fill="none" stroke="#c3c6c9" stroke-width="1.9" stroke-linecap="round"/>
<path d="M205.2,643.6 C203.9,640.6 209.1,640.3 207.7,637.3" fill="none" stroke="#c3c6c9" stroke-width="2.4" stroke-linecap="round"/>
<path d="M570.8,604.8 C573.1,605.4 574.1,607.3 575.0,609.2" fill="none" stroke="#c3c6c9" stroke-width="2.0" stroke-linecap="round"/>
<path d="M262.4,607.3 C266.6,607.3 270.2,609.9 274.3,610.3" fill="none" stroke="#c3c6c9" stroke-width="1.9" stroke-linecap="round"/>
<path d="M614.0,633.1 C618.3,633.2 622.3,631.3 626.5,630.8" fill="none" stroke="#c3c6c9" stroke-width="2.7" stroke-linecap="round"/>
<path d="M596.4,614.2 C600.0,616.6 602.3,620.0 603.7,624.1" fill="none" stroke="#c3c6c9" stroke-width="2.3" stroke-linecap="round"/>
<path d="M650.2,613.0 C653.7,613.2 653.5,618.2 657.1,618.3" fill="none" stroke="#c3c6c9" stroke-width="2.3" stroke-linecap="round"/>
<path d="M561.8,617.2 C563.1,614.2 565.8,614.3 568.4,614.2" fill="none" stroke="#c3c6c9" stroke-width="2.4" stroke-linecap="round"/>
<path d="M178.6,630.9 C180.5,627.1 185.1,632.3 187.0,628.4" fill="none" stroke="#c3c6c9" stroke-width="2.2" stroke-linecap="round"/>
<path d="M253.3,616.0 C252.9,611.8 256.0,611.1 259.0,610.4" fill="none" stroke="#c3c6c9" stroke-width="2.0" stroke-linecap="round"/>
<path d="M514.0,605.1 C517.6,605.9 514.5,611.0 518.3,611.8" fill="none" stroke="#c3c6c9" stroke-width="2.6" stroke-linecap="round"/>
<path d="M202.6,622.9 C207.2,624.6 208.2,616.8 213.0,619.0" fill="none" stroke="#c3c6c9" stroke-width="2.3" stroke-linecap="round"/>
<path d="M243.4,623.7 C246.2,623.7 247.8,625.5 249.0,627.7" fill="none" stroke="#c3c6c9" stroke-width="2.2" stroke-linecap="round"/>
<path d="M255.2,629.8 C258.7,630.9 255.6,635.2 258.6,636.5" fill="none" stroke="#c3c6c9" stroke-width="2.1" stroke-linecap="round"/>
<path d="M548.1,621.4 C551.8,620.8 554.9,623.3 558.5,623.5" fill="none" stroke="#c3c6c9" stroke-width="2.0" stroke-linecap="round"/>
<path d="M595.8,624.3 C597.7,621.2 598.4,617.7 600.1,614.5" fill="none" stroke="#c3c6c9" stroke-width="2.1" stroke-linecap="round"/>
<path d="M153.5,622.3 C156.0,620.7 154.8,617.4 156.9,615.5" fill="none" stroke="#c3c6c9" stroke-width="2.7" stroke-linecap="round"/>
<path d="M552.3,651.7 C552.8,647.4 557.3,645.3 557.9,641.0" fill="none" stroke="#c3c6c9" stroke-width="2.5" stroke-linecap="round"/>
<path d="M311.8,620.8 C315.7,621.4 318.1,624.1 320.6,626.8" fill="none" stroke="#c3c6c9" stroke-width="2.4" stroke-linecap="round"/>
<path d="M215.7,605.6 C217.9,609.4 222.4,610.5 225.2,613.5" fill="none" stroke="#c3c6c9" stroke-width="2.0" stroke-linecap="round"/>
<path d="M228.8,622.8 C228.1,619.7 229.6,617.0 230.6,614.3" fill="none" stroke="#c3c6c9" stroke-width="2.6" stroke-linecap="round"/>
<path d="M435.8,639.1 C438.5,639.9 440.8,637.8 443.4,637.7" fill="none" stroke="#c3c6c9" stroke-width="2.6" stroke-linecap="round"/>
<path d="M554.4,615.0 C554.8,617.2 556.8,618.5 557.5,620.5" fill="none" stroke="#c3c6c9" stroke-width="1.9" stroke-linecap="round"/>
<path d="M559.8,609.9 C564.8,610.6 566.9,614.4 568.9,618.3" fill="none" stroke="#c3c6c9" stroke-width="2.5" stroke-linecap="round"/>
<path d="M584.6,614.3 C585.7,616.3 586.1,618.5 586.2,620.7" fill="none" stroke="#c3c6c9" stroke-width="2.5" stroke-linecap="round"/>
<path d="M585.0,638.6 C587.1,636.0 585.5,632.4 587.2,629.7" fill="none" stroke="#c3c6c9" stroke-width="2.7" stroke-linecap="round"/>
<path d="M187.4,638.8 C187.9,641.7 191.8,639.8 192.6,642.4" fill="none" stroke="#c3c6c9" stroke-width="2.8" stroke-linecap="round"/>
<path d="M476.6,633.8 C476.3,631.1 478.4,629.0 478.6,626.4" fill="none" stroke="#c3c6c9" stroke-width="2.1" stroke-linecap="round"/>
<path d="M191.2,641.7 C192.5,637.9 197.2,637.6 198.8,634.2" fill="none" stroke="#c3c6c9" stroke-width="2.7" stroke-linecap="round"/>
<path d="M313.3,623.7 C315.6,620.4 316.8,616.4 319.2,613.0" fill="none" stroke="#c3c6c9" stroke-width="2.3" stroke-linecap="round"/>
<path d="M541.8,610.6 C545.3,611.3 548.7,612.4 552.0,613.7" fill="none" stroke="#c3c6c9" stroke-width="1.9" stroke-linecap="round"/>
<path d="M280.2,624.9 C279.4,622.1 282.9,620.5 282.2,617.7" fill="none" stroke="#c3c6c9" stroke-width="2.2" stroke-linecap="round"/>
<path d="M177.5,621.4 C179.4,618.1 183.4,619.6 186.0,617.7" fill="none" stroke="#c3c6c9" stroke-width="2.8" stroke-linecap="round"/>
<path d="M540.4,602.6 C540.5,606.3 541.8,609.8 542.1,613.5" fill="none" stroke="#c3c6c9" stroke-width="2.2" stroke-linecap="round"/>
<path d="M224.1,627.2 C223.8,629.4 224.5,631.3 226.0,632.9" fill="none" stroke="#c3c6c9" stroke-width="2.5" stroke-linecap="round"/>
<path d="M259.2,619.2 C261.5,617.3 260.8,614.8 260.4,612.4" fill="none" stroke="#c3c6c9" stroke-width="2.0" stroke-linecap="round"/>
<path d="M474.4,649.8 C478.4,647.4 480.4,643.7 481.3,639.4" fill="none" stroke="#c3c6c9" stroke-width="2.1" stroke-linecap="round"/>
<path d="M218.3,645.2 C220.9,644.5 223.2,642.7 225.9,642.0" fill="none" stroke="#c3c6c9" stroke-width="2.0" stroke-linecap="round"/>
<path d="M138.2,627.0 C139.1,630.6 141.2,633.4 144.3,635.4" fill="none" stroke="#c3c6c9" stroke-width="2.3" stroke-linecap="round"/>
<path d="M395.8,610.6 C399.1,608.4 401.3,610.9 403.7,612.5" fill="none" stroke="#c3c6c9" stroke-width="2.2" stroke-linecap="round"/>
<path d="M661.9,608.9 C663.6,606.4 665.9,607.7 668.1,607.7" fill="none" stroke="#c3c6c9" stroke-width="2.6" stroke-linecap="round"/>
<path d="M596.8,644.5 C599.9,643.6 601.1,640.3 604.0,639.1" fill="none" stroke="#c3c6c9" stroke-width="2.1" stroke-linecap="round"/>
<path d="M363.3,630.5 C366.9,633.3 364.6,638.4 367.6,641.5" fill="none" stroke="#c3c6c9" stroke-width="2.4" stroke-linecap="round"/>
<path d="M311.5,615.0 C313.2,613.7 315.2,612.6 317.2,611.7" fill="none" stroke="#c3c6c9" stroke-width="2.7" stroke-linecap="round"/>
<path d="M664.4,646.0 C669.0,646.9 670.3,650.3 670.7,654.3" fill="none" stroke="#c3c6c9" stroke-width="2.1" stroke-linecap="round"/>
<path d="M435.9,647.8 C439.3,647.8 440.9,651.8 444.4,651.7" fill="none" stroke="#c3c6c9" stroke-width="1.8" stroke-linecap="round"/>
<path d="M223.0,640.9 C225.1,638.4 224.1,634.8 226.0,632.3" fill="none" stroke="#c3c6c9" stroke-width="2.2" stroke-linecap="round"/>
<path d="M415.1,635.1 C414.3,631.5 416.2,629.2 418.7,627.1" fill="none" stroke="#c3c6c9" stroke-width="1.9" stroke-linecap="round"/>
<path d="M600.9,615.9 C603.3,614.3 605.2,617.7 607.6,616.5" fill="none" stroke="#c3c6c9" stroke-width="2.0" stroke-linecap="round"/>
<path d="M436.4,608.2 C440.2,606.2 442.3,610.9 445.6,610.7" fill="none" stroke="#c3c6c9" stroke-width="2.2" stroke-linecap="round"/>
<path d="M601.0,626.6 C605.5,627.2 607.8,630.2 609.0,634.2" fill="none" stroke="#c3c6c9" stroke-width="1.9" stroke-linecap="round"/>
<path d="M585.5,619.3 C585.6,621.7 586.4,624.0 587.0,626.3" fill="none" stroke="#c3c6c9" stroke-width="2.6" stroke-linecap="round"/>
<path d="M149.9,619.6 C150.9,616.9 150.3,613.9 151.0,611.1" fill="none" stroke="#c3c6c9" stroke-width="2.5" stroke-linecap="round"/>
<path d="M355.9,642.0 C357.1,645.3 358.7,648.4 360.6,651.3" fill="none" stroke="#c3c6c9" stroke-width="2.0" stroke-linecap="round"/>
<path d="M533.5,617.5 C535.6,621.4 540.8,620.1 543.3,623.3" fill="none" stroke="#c3c6c9" stroke-width="2.5" stroke-linecap="round"/>
<path d="M649.7,637.7 C652.5,635.7 652.8,641.7 655.7,639.6" fill="none" stroke="#c3c6c9" stroke-width="1.9" stroke-linecap="round"/>
<path d="M637.5,639.5 C638.8,637.2 640.5,635.2 642.3,633.3" fill="none" stroke="#c3c6c9" stroke-width="1.9" stroke-linecap="round"/>
<path d="M126.4,614.0 C129.0,611.1 130.7,607.5 133.3,604.6" fill="none" stroke="#c3c6c9" stroke-width="2.2" stroke-linecap="round"/>
<path d="M195.2,643.4 C196.8,647.0 200.5,647.3 203.5,648.6" fill="none" stroke="#c3c6c9" stroke-width="2.1" stroke-linecap="round"/>
<path d="M199.3,623.4 C204.4,624.5 201.8,631.8 206.9,632.8" fill="none" stroke="#c3c6c9" stroke-width="2.5" stroke-linecap="round"/>
<path d="M337.6,623.8 C339.4,625.4 340.5,627.6 341.3,629.9" fill="none" stroke="#c3c6c9" stroke-width="1.9" stroke-linecap="round"/>
<path d="M297.8,612.8 C302.6,610.8 305.2,616.8 309.6,616.0" fill="none" stroke="#c3c6c9" stroke-width="2.3" stroke-linecap="round"/>
<path d="M443.0,626.8 C443.9,624.1 443.4,621.2 443.9,618.4" fill="none" stroke="#c3c6c9" stroke-width="2.3" stroke-linecap="round"/>
<path d="M671.3,604.5 C674.1,604.2 674.8,607.8 677.4,607.9" fill="none" stroke="#c3c6c9" stroke-width="2.1" stroke-linecap="round"/>
<path d="M438.2,623.0 C441.9,626.9 435.9,631.8 439.6,635.7" fill="none" stroke="#c3c6c9" stroke-width="2.7" stroke-linecap="round"/>
<path d="M549.9,636.5 C552.5,633.7 555.8,632.4 559.5,632.3" fill="none" stroke="#c3c6c9" stroke-width="2.7" stroke-linecap="round"/>
<path d="M498.0,614.9 C500.8,617.4 503.7,619.8 506.6,622.3" fill="none" stroke="#c3c6c9" stroke-width="2.4" stroke-linecap="round"/>
<path d="M343.3,609.0 C347.5,610.6 347.1,604.3 350.6,604.8" fill="none" stroke="#c3c6c9" stroke-width="2.0" stroke-linecap="round"/>
<path d="M250.1,624.2 C252.9,622.2 248.8,619.4 250.8,617.3" fill="none" stroke="#c3c6c9" stroke-width="2.4" stroke-linecap="round"/>
<path d="M285.9,613.9 C286.9,611.6 289.0,610.8 291.2,610.3" fill="none" stroke="#c3c6c9" stroke-width="2.7" stroke-linecap="round"/>
<path d="M308.4,653.0 C307.4,649.1 313.1,647.5 311.6,643.4" fill="none" stroke="#c3c6c9" stroke-width="2.2" stroke-linecap="round"/>
<path d="M553.1,630.3 C554.1,626.5 555.3,622.6 556.5,618.8" fill="none" stroke="#c3c6c9" stroke-width="2.1" stroke-linecap="round"/>
<path d="M127.8,609.7 C131.1,609.5 131.6,613.4 134.2,614.1" fill="none" stroke="#c3c6c9" stroke-width="2.4" stroke-linecap="round"/>
<path d="M602.5,632.7 C602.3,636.8 605.7,636.6 608.2,637.5" fill="none" stroke="#c3c6c9" stroke-width="2.6" stroke-linecap="round"/>
<path d="M609.7,623.2 C611.3,621.5 612.6,619.6 613.9,617.6" fill="none" stroke="#c3c6c9" stroke-width="2.7" stroke-linecap="round"/>
<path d="M232.6,617.3 C236.3,618.3 239.5,620.2 242.8,622.1" fill="none" stroke="#c3c6c9" stroke-width="1.9" stroke-linecap="round"/>
<path d="M347.1,608.6 C350.1,607.0 353.2,605.4 356.2,603.7" fill="none" stroke="#c3c6c9" stroke-width="2.3" stroke-linecap="round"/>
<path d="M125.1,643.5 C128.5,646.4 128.3,649.8 126.3,653.3" fill="none" stroke="#c3c6c9" stroke-width="2.1" stroke-linecap="round"/>
<path d="M168.2,609.0 C171.9,608.7 172.6,611.2 173.2,614.0" fill="none" stroke="#c3c6c9" stroke-width="2.3" stroke-linecap="round"/>
<path d="M444.8,629.1 C448.6,629.0 451.7,630.7 455.0,632.2" fill="none" stroke="#c3c6c9" stroke-width="2.5" stroke-linecap="round"/>
<path d="M545.7,638.3 C545.1,642.6 550.8,641.0 551.3,644.2" fill="none" stroke="#c3c6c9" stroke-width="2.3" stroke-linecap="round"/>
<path d="M645.7,610.5 C647.8,611.5 649.7,610.8 651.7,610.1" fill="none" stroke="#c3c6c9" stroke-width="2.8" stroke-linecap="round"/>
<path d="M246.1,643.6 C244.0,641.0 248.8,639.6 247.2,637.0" fill="none" stroke="#c3c6c9" stroke-width="2.4" stroke-linecap="round"/>
<path d="M218.4,652.8 C217.9,649.2 219.4,646.8 222.7,645.4" fill="none" stroke="#c3c6c9" stroke-width="2.0" stroke-linecap="round"/>
<path d="M133.8,637.5 C134.2,640.1 134.6,642.6 134.9,645.2" fill="none" stroke="#c3c6c9" stroke-width="2.6" stroke-linecap="round"/>
<path d="M375.1,625.2 C378.2,622.1 377.0,617.1 379.9,613.9" fill="none" stroke="#c3c6c9" stroke-width="2.2" stroke-linecap="round"/>
<path d="M600.5,608.2 C604.5,610.1 607.5,608.4 610.1,605.6" fill="none" stroke="#c3c6c9" stroke-width="2.0" stroke-linecap="round"/>
<path d="M256.9,619.8 C257.5,616.2 260.1,614.5 263.2,613.4" fill="none" stroke="#c3c6c9" stroke-width="2.1" stroke-linecap="round"/>
<path d="M676.2,618.6 C680.1,617.1 680.6,613.5 681.4,610.1" fill="none" stroke="#c3c6c9" stroke-width="2.6" stroke-linecap="round"/>
<path d="M577.9,617.7 C580.8,620.4 583.4,615.0 586.2,617.4" fill="none" stroke="#c3c6c9" stroke-width="2.4" stroke-linecap="round"/>
<path d="M369.6,636.4 C374.2,635.1 372.8,628.5 377.5,627.2" fill="none" stroke="#c3c6c9" stroke-width="2.7" stroke-linecap="round"/>
<path d="M215.5,649.1 C217.2,643.9 224.8,647.5 226.2,641.8" fill="none" stroke="#c3c6c9" stroke-width="1.8" stroke-linecap="round"/>
<path d="M630.1,616.4 C629.3,612.1 632.2,609.3 634.2,606.1" fill="none" stroke="#c3c6c9" stroke-width="2.1" stroke-linecap="round"/>
<path d="M635.1,632.4 C639.0,635.9 633.1,640.9 636.9,644.4" fill="none" stroke="#c3c6c9" stroke-width="2.5" stroke-linecap="round"/>
<path d="M135.6,629.0 C137.6,625.8 141.3,631.2 143.1,627.4" fill="none" stroke="#c3c6c9" stroke-width="2.1" stroke-linecap="round"/>
<path d="M611.3,613.9 C612.3,610.9 614.7,608.6 615.7,605.6" fill="none" stroke="#c3c6c9" stroke-width="1.9" stroke-linecap="round"/>
<path d="M531.3,629.5 C533.3,628.5 535.4,627.5 537.4,626.6" fill="none" stroke="#c3c6c9" stroke-width="2.0" stroke-linecap="round"/>
<path d="M659.3,649.9 C660.8,645.8 665.6,645.9 668.0,642.9" fill="none" stroke="#c3c6c9" stroke-width="1.8" stroke-linecap="round"/>
<path d="M400.4,625.6 C402.1,621.1 405.5,620.7 409.5,621.6" fill="none" stroke="#c3c6c9" stroke-width="2.3" stroke-linecap="round"/>
<path d="M424.7,631.4 C425.2,635.9 429.3,638.7 430.4,642.9" fill="none" stroke="#c3c6c9" stroke-width="2.2" stroke-linecap="round"/>
<path d="M662.5,623.7 C664.7,620.6 668.0,621.7 670.9,621.4" fill="none" stroke="#c3c6c9" stroke-width="2.4" stroke-linecap="round"/>
<path d="M635.6,618.1 C638.2,615.1 642.3,616.3 645.2,614.4" fill="none" stroke="#c3c6c9" stroke-width="2.6" stroke-linecap="round"/>
<path d="M557.5,645.9 C559.9,646.0 561.5,647.5 562.8,649.3" fill="none" stroke="#c3c6c9" stroke-width="2.1" stroke-linecap="round"/>
<path d="M294.5,689.7 C297.2,689.3 299.8,688.7 302.5,688.3" fill="none" stroke="#eef0f1" stroke-width="0.7" stroke-linecap="round" transform="translate(-0.2,-0.5)"/>
<path d="M130.0,704.0 C135.3,699.8 141.6,697.6 147.7,695.0" fill="none" stroke="#eef0f1" stroke-width="0.7" stroke-linecap="round" transform="translate(-0.2,-0.5)"/>
<path d="M442.9,665.8 C447.8,665.9 450.9,670.5 455.7,671.0" fill="none" stroke="#eef0f1" stroke-width="1.0" stroke-linecap="round" transform="translate(-0.2,-0.5)"/>
<path d="M488.8,663.0 C493.5,667.1 500.1,667.9 505.0,671.8" fill="none" stroke="#eef0f1" stroke-width="0.8" stroke-linecap="round" transform="translate(-0.2,-0.5)"/>
<path d="M270.8,655.4 C272.8,651.0 278.1,651.0 281.1,647.8" fill="none" stroke="#eef0f1" stroke-width="0.9" stroke-linecap="round" transform="translate(-0.2,-0.5)"/>
<path d="M604.2,686.2 C608.4,688.6 611.2,683.3 615.1,684.1" fill="none" stroke="#eef0f1" stroke-width="1.1" stroke-linecap="round" transform="translate(-0.2,-0.5)"/>
<path d="M502.6,691.2 C506.7,695.0 511.5,695.9 516.9,694.6" fill="none" stroke="#eef0f1" stroke-width="0.7" stroke-linecap="round" transform="translate(-0.2,-0.5)"/>
<path d="M139.3,688.0 C139.6,683.9 142.1,683.6 145.3,684.4" fill="none" stroke="#eef0f1" stroke-width="0.8" stroke-linecap="round" transform="translate(-0.2,-0.5)"/>
<path d="M165.4,687.4 C170.4,686.1 173.6,689.0 176.4,692.6" fill="none" stroke="#eef0f1" stroke-width="0.7" stroke-linecap="round" transform="translate(-0.2,-0.5)"/>
<path d="M549.3,678.9 C554.7,679.9 559.5,678.5 563.9,675.5" fill="none" stroke="#eef0f1" stroke-width="0.8" stroke-linecap="round" transform="translate(-0.2,-0.5)"/>
<path d="M502.0,652.8 C506.2,659.3 514.7,659.2 519.8,664.4" fill="none" stroke="#eef0f1" stroke-width="1.1" stroke-linecap="round" transform="translate(-0.2,-0.5)"/>
<path d="M482.7,682.9 C490.0,683.1 496.1,686.4 502.3,689.7" fill="none" stroke="#eef0f1" stroke-width="0.9" stroke-linecap="round" transform="translate(-0.2,-0.5)"/>
<path d="M572.9,673.0 C575.9,673.9 577.5,677.0 580.2,678.4" fill="none" stroke="#eef0f1" stroke-width="1.0" stroke-linecap="round" transform="translate(-0.2,-0.5)"/>
<path d="M275.7,676.2 C278.3,672.7 282.0,672.8 285.8,672.9" fill="none" stroke="#eef0f1" stroke-width="0.9" stroke-linecap="round" transform="translate(-0.2,-0.5)"/>
<path d="M214.3,665.4 C217.1,665.8 218.1,662.6 220.7,662.4" fill="none" stroke="#eef0f1" stroke-width="0.9" stroke-linecap="round" transform="translate(-0.2,-0.5)"/>
<path d="M539.5,668.7 C546.3,669.8 553.2,670.8 560.0,671.8" fill="none" stroke="#eef0f1" stroke-width="0.9" stroke-linecap="round" transform="translate(-0.2,-0.5)"/>
<path d="M176.9,672.1 C179.7,675.6 184.4,671.1 187.2,674.5" fill="none" stroke="#eef0f1" stroke-width="1.0" stroke-linecap="round" transform="translate(-0.2,-0.5)"/>
<path d="M675.6,683.2 C679.7,681.1 684.3,681.1 688.7,680.4" fill="none" stroke="#eef0f1" stroke-width="0.7" stroke-linecap="round" transform="translate(-0.2,-0.5)"/>
<path d="M561.0,682.0 C565.3,680.9 566.8,687.4 571.2,686.0" fill="none" stroke="#eef0f1" stroke-width="0.8" stroke-linecap="round" transform="translate(-0.2,-0.5)"/>
<path d="M498.7,669.4 C504.2,674.4 512.7,672.4 518.1,677.6" fill="none" stroke="#eef0f1" stroke-width="0.7" stroke-linecap="round" transform="translate(-0.2,-0.5)"/>
<path d="M170.2,681.5 C173.1,679.2 176.8,680.4 179.9,678.9" fill="none" stroke="#eef0f1" stroke-width="1.0" stroke-linecap="round" transform="translate(-0.2,-0.5)"/>
<path d="M644.3,694.0 C648.3,695.9 652.4,697.9 656.4,699.8" fill="none" stroke="#eef0f1" stroke-width="0.8" stroke-linecap="round" transform="translate(-0.2,-0.5)"/>
<path d="M148.5,675.4 C150.8,677.8 154.4,677.6 157.0,679.5" fill="none" stroke="#eef0f1" stroke-width="1.1" stroke-linecap="round" transform="translate(-0.2,-0.5)"/>
<path d="M246.7,689.9 C250.8,689.3 254.8,688.6 258.9,688.0" fill="none" stroke="#eef0f1" stroke-width="0.9" stroke-linecap="round" transform="translate(-0.2,-0.5)"/>
<path d="M441.9,652.6 C447.4,654.3 451.9,657.7 456.7,660.8" fill="none" stroke="#eef0f1" stroke-width="0.8" stroke-linecap="round" transform="translate(-0.2,-0.5)"/>
<path d="M183.4,658.7 C188.1,663.9 194.3,666.0 201.1,666.9" fill="none" stroke="#eef0f1" stroke-width="0.9" stroke-linecap="round" transform="translate(-0.2,-0.5)"/>
<path d="M469.4,670.5 C471.5,671.5 473.8,672.1 476.0,672.8" fill="none" stroke="#eef0f1" stroke-width="0.9" stroke-linecap="round" transform="translate(-0.2,-0.5)"/>
<path d="M388.0,665.7 C394.1,663.6 399.1,669.0 405.0,668.3" fill="none" stroke="#eef0f1" stroke-width="1.0" stroke-linecap="round" transform="translate(-0.2,-0.5)"/>
<path d="M495.1,677.4 C498.2,673.3 502.3,671.1 507.3,670.6" fill="none" stroke="#eef0f1" stroke-width="1.1" stroke-linecap="round" transform="translate(-0.2,-0.5)"/>
<path d="M228.9,665.8 C231.8,669.8 234.8,673.7 237.8,677.7" fill="none" stroke="#eef0f1" stroke-width="1.1" stroke-linecap="round" transform="translate(-0.2,-0.5)"/>
<path d="M183.8,668.5 C190.8,668.1 196.8,670.8 202.3,674.9" fill="none" stroke="#eef0f1" stroke-width="1.1" stroke-linecap="round" transform="translate(-0.2,-0.5)"/>
<path d="M262.3,678.4 C268.7,680.6 272.8,686.2 278.7,689.1" fill="none" stroke="#eef0f1" stroke-width="0.8" stroke-linecap="round" transform="translate(-0.2,-0.5)"/>
<path d="M519.7,696.8 C524.8,694.6 528.9,697.6 533.2,699.4" fill="none" stroke="#eef0f1" stroke-width="0.8" stroke-linecap="round" transform="translate(-0.2,-0.5)"/>
<path d="M429.0,669.4 C432.7,669.3 435.4,670.9 437.1,674.2" fill="none" stroke="#eef0f1" stroke-width="0.9" stroke-linecap="round" transform="translate(-0.2,-0.5)"/>
<path d="M433.5,694.2 C437.9,693.2 442.3,695.1 446.7,694.6" fill="none" stroke="#eef0f1" stroke-width="0.8" stroke-linecap="round" transform="translate(-0.2,-0.5)"/>
<path d="M592.7,694.6 C599.7,693.0 602.2,684.9 609.0,682.9" fill="none" stroke="#eef0f1" stroke-width="1.0" stroke-linecap="round" transform="translate(-0.2,-0.5)"/>
<path d="M494.5,694.7 C501.5,695.8 508.3,697.5 515.2,698.8" fill="none" stroke="#eef0f1" stroke-width="1.0" stroke-linecap="round" transform="translate(-0.2,-0.5)"/>
<path d="M145.2,708.1 C150.2,708.1 154.9,706.3 159.9,705.9" fill="none" stroke="#eef0f1" stroke-width="0.8" stroke-linecap="round" transform="translate(-0.2,-0.5)"/>
<path d="M117.4,674.0 C122.3,674.6 127.0,673.4 131.7,672.5" fill="none" stroke="#eef0f1" stroke-width="0.8" stroke-linecap="round" transform="translate(-0.2,-0.5)"/>
<path d="M282.5,693.0 C288.0,689.4 294.2,687.6 300.5,686.1" fill="none" stroke="#eef0f1" stroke-width="1.0" stroke-linecap="round" transform="translate(-0.2,-0.5)"/>
<path d="M138.4,689.3 C139.9,692.1 142.2,693.3 145.3,693.3" fill="none" stroke="#eef0f1" stroke-width="1.1" stroke-linecap="round" transform="translate(-0.2,-0.5)"/>
<path d="M109.0,702.8 C110.3,707.6 116.3,705.4 118.3,709.2" fill="none" stroke="#eef0f1" stroke-width="0.7" stroke-linecap="round" transform="translate(-0.2,-0.5)"/>
<path d="M123.3,663.3 C128.5,661.7 130.2,669.8 135.6,667.8" fill="none" stroke="#eef0f1" stroke-width="0.7" stroke-linecap="round" transform="translate(-0.2,-0.5)"/>
<path d="M267.8,648.3 C268.1,652.2 272.6,649.5 273.8,652.0" fill="none" stroke="#eef0f1" stroke-width="1.0" stroke-linecap="round" transform="translate(-0.2,-0.5)"/>
<path d="M580.0,681.6 C583.4,678.0 588.4,683.0 591.8,679.5" fill="none" stroke="#eef0f1" stroke-width="1.0" stroke-linecap="round" transform="translate(-0.2,-0.5)"/>
<path d="M257.4,683.6 C262.1,682.6 267.0,682.5 271.8,682.5" fill="none" stroke="#eef0f1" stroke-width="0.8" stroke-linecap="round" transform="translate(-0.2,-0.5)"/>
<path d="M532.5,678.5 C536.2,679.1 538.0,683.2 541.8,683.7" fill="none" stroke="#eef0f1" stroke-width="0.9" stroke-linecap="round" transform="translate(-0.2,-0.5)"/>
<path d="M590.9,683.5 C594.7,682.5 598.0,680.7 601.4,678.9" fill="none" stroke="#eef0f1" stroke-width="1.1" stroke-linecap="round" transform="translate(-0.2,-0.5)"/>
<path d="M232.4,672.5 C236.0,670.9 238.9,674.6 242.3,673.8" fill="none" stroke="#eef0f1" stroke-width="1.0" stroke-linecap="round" transform="translate(-0.2,-0.5)"/>
<path d="M335.6,659.3 C338.7,658.5 340.6,662.4 343.7,661.4" fill="none" stroke="#eef0f1" stroke-width="0.9" stroke-linecap="round" transform="translate(-0.2,-0.5)"/>
<path d="M522.0,674.2 C527.1,679.4 535.0,678.7 540.7,682.6" fill="none" stroke="#eef0f1" stroke-width="0.9" stroke-linecap="round" transform="translate(-0.2,-0.5)"/>
<path d="M185.6,674.9 C192.6,678.0 199.5,673.3 206.5,674.6" fill="none" stroke="#eef0f1" stroke-width="1.1" stroke-linecap="round" transform="translate(-0.2,-0.5)"/>
<path d="M582.3,687.9 C586.4,687.4 587.8,692.3 591.6,692.5" fill="none" stroke="#eef0f1" stroke-width="1.1" stroke-linecap="round" transform="translate(-0.2,-0.5)"/>
<path d="M543.9,701.8 C546.9,700.7 549.7,703.3 552.7,702.4" fill="none" stroke="#eef0f1" stroke-width="1.0" stroke-linecap="round" transform="translate(-0.2,-0.5)"/>
<path d="M547.6,683.1 C550.2,681.1 553.4,680.2 556.0,678.3" fill="none" stroke="#eef0f1" stroke-width="0.7" stroke-linecap="round" transform="translate(-0.2,-0.5)"/>
<path d="M405.7,652.1 C402.0,652.4 402.8,658.0 398.8,658.0" fill="none" stroke="#eef0f1" stroke-width="1.0" stroke-linecap="round" transform="translate(-0.2,-0.5)"/>
<path d="M542.6,695.6 C547.2,696.5 548.5,690.8 552.5,690.5" fill="none" stroke="#eef0f1" stroke-width="0.9" stroke-linecap="round" transform="translate(-0.2,-0.5)"/>
<path d="M201.8,680.8 C206.8,680.2 211.6,678.5 216.5,678.0" fill="none" stroke="#eef0f1" stroke-width="1.1" stroke-linecap="round" transform="translate(-0.2,-0.5)"/>
<path d="M315.5,682.0 C317.2,678.8 319.9,677.0 323.5,676.6" fill="none" stroke="#eef0f1" stroke-width="1.1" stroke-linecap="round" transform="translate(-0.2,-0.5)"/>
<path d="M403.1,686.6 C405.3,683.7 409.1,683.0 411.5,680.4" fill="none" stroke="#eef0f1" stroke-width="0.6" stroke-linecap="round" transform="translate(-0.2,-0.5)"/>
<path d="M256.2,674.1 C255.1,679.8 249.7,683.2 248.4,688.8" fill="none" stroke="#eef0f1" stroke-width="0.9" stroke-linecap="round" transform="translate(-0.2,-0.5)"/>
<path d="M132.4,663.1 C135.6,664.7 138.9,665.7 142.3,666.9" fill="none" stroke="#eef0f1" stroke-width="0.7" stroke-linecap="round" transform="translate(-0.2,-0.5)"/>
<path d="M132.0,691.5 C137.4,693.9 142.6,696.6 147.9,699.4" fill="none" stroke="#eef0f1" stroke-width="1.0" stroke-linecap="round" transform="translate(-0.2,-0.5)"/>
<path d="M515.2,676.1 C519.6,677.3 524.2,676.8 528.7,676.6" fill="none" stroke="#eef0f1" stroke-width="0.8" stroke-linecap="round" transform="translate(-0.2,-0.5)"/>
<path d="M609.0,670.8 C614.8,675.8 623.2,670.9 628.9,676.1" fill="none" stroke="#eef0f1" stroke-width="1.0" stroke-linecap="round" transform="translate(-0.2,-0.5)"/>
<path d="M153.7,682.2 C157.1,681.4 157.4,685.5 159.9,686.1" fill="none" stroke="#eef0f1" stroke-width="0.8" stroke-linecap="round" transform="translate(-0.2,-0.5)"/>
<path d="M591.1,674.6 C587.9,680.8 581.2,683.6 577.1,688.9" fill="none" stroke="#eef0f1" stroke-width="0.7" stroke-linecap="round" transform="translate(-0.2,-0.5)"/>
<path d="M541.9,683.3 C546.6,683.3 550.1,679.6 554.6,679.1" fill="none" stroke="#eef0f1" stroke-width="0.8" stroke-linecap="round" transform="translate(-0.2,-0.5)"/>
<path d="M308.4,669.6 C312.4,670.7 312.0,675.5 315.1,677.3" fill="none" stroke="#eef0f1" stroke-width="1.1" stroke-linecap="round" transform="translate(-0.2,-0.5)"/>
<path d="M302.1,686.9 C308.7,684.3 315.3,681.7 321.8,679.1" fill="none" stroke="#eef0f1" stroke-width="1.0" stroke-linecap="round" transform="translate(-0.2,-0.5)"/>
<path d="M621.4,702.5 C623.7,701.7 626.0,700.9 628.4,700.2" fill="none" stroke="#eef0f1" stroke-width="1.1" stroke-linecap="round" transform="translate(-0.2,-0.5)"/>
<path d="M192.4,689.3 C198.5,689.4 204.4,687.9 210.5,687.8" fill="none" stroke="#eef0f1" stroke-width="1.0" stroke-linecap="round" transform="translate(-0.2,-0.5)"/>
<path d="M250.3,672.6 C253.8,672.8 255.3,668.4 258.9,668.8" fill="none" stroke="#eef0f1" stroke-width="1.1" stroke-linecap="round" transform="translate(-0.2,-0.5)"/>
<path d="M170.1,680.1 C172.4,681.0 174.7,682.0 177.0,682.9" fill="none" stroke="#eef0f1" stroke-width="1.0" stroke-linecap="round" transform="translate(-0.2,-0.5)"/>
<path d="M344.8,678.1 C351.0,681.1 357.6,682.4 364.3,683.4" fill="none" stroke="#eef0f1" stroke-width="1.1" stroke-linecap="round" transform="translate(-0.2,-0.5)"/>
<path d="M350.5,657.0 C353.6,660.3 357.5,662.2 361.5,664.1" fill="none" stroke="#eef0f1" stroke-width="0.7" stroke-linecap="round" transform="translate(-0.2,-0.5)"/>
<path d="M161.5,661.9 C167.3,663.1 173.2,663.9 179.0,665.2" fill="none" stroke="#eef0f1" stroke-width="1.1" stroke-linecap="round" transform="translate(-0.2,-0.5)"/>
<path d="M263.6,674.6 C268.3,674.1 271.8,678.4 276.4,678.0" fill="none" stroke="#eef0f1" stroke-width="0.8" stroke-linecap="round" transform="translate(-0.2,-0.5)"/>
<path d="M572.0,663.8 C575.7,667.6 579.9,670.4 584.6,672.7" fill="none" stroke="#eef0f1" stroke-width="0.8" stroke-linecap="round" transform="translate(-0.2,-0.5)"/>
<path d="M324.0,676.3 C327.6,675.5 329.8,679.4 333.3,679.1" fill="none" stroke="#eef0f1" stroke-width="0.8" stroke-linecap="round" transform="translate(-0.2,-0.5)"/>
<path d="M626.0,685.4 C633.0,684.0 637.1,678.6 641.5,673.7" fill="none" stroke="#eef0f1" stroke-width="0.7" stroke-linecap="round" transform="translate(-0.2,-0.5)"/>
<path d="M200.6,687.1 C204.8,692.3 212.5,691.5 216.8,696.5" fill="none" stroke="#eef0f1" stroke-width="1.0" stroke-linecap="round" transform="translate(-0.2,-0.5)"/>
<path d="M391.4,691.6 C394.5,694.2 397.5,688.9 400.6,691.6" fill="none" stroke="#eef0f1" stroke-width="0.9" stroke-linecap="round" transform="translate(-0.2,-0.5)"/>
<path d="M472.1,671.6 C474.8,677.3 482.5,675.3 485.7,680.3" fill="none" stroke="#eef0f1" stroke-width="0.8" stroke-linecap="round" transform="translate(-0.2,-0.5)"/>
<path d="M408.0,678.7 C412.6,677.5 417.0,678.6 421.5,679.6" fill="none" stroke="#eef0f1" stroke-width="1.1" stroke-linecap="round" transform="translate(-0.2,-0.5)"/>
<path d="M275.4,659.5 C281.3,661.6 287.4,662.9 293.3,664.9" fill="none" stroke="#eef0f1" stroke-width="1.1" stroke-linecap="round" transform="translate(-0.2,-0.5)"/>
<path d="M459.8,666.9 C464.6,664.7 469.7,662.9 474.6,661.0" fill="none" stroke="#eef0f1" stroke-width="1.0" stroke-linecap="round" transform="translate(-0.2,-0.5)"/>
<path d="M429.1,678.1 C433.8,680.7 437.8,674.8 442.4,676.8" fill="none" stroke="#eef0f1" stroke-width="1.0" stroke-linecap="round" transform="translate(-0.2,-0.5)"/>
<path d="M379.4,662.8 C384.2,661.2 387.9,665.2 392.3,665.3" fill="none" stroke="#eef0f1" stroke-width="0.8" stroke-linecap="round" transform="translate(-0.2,-0.5)"/>
<path d="M216.2,700.4 C218.3,702.6 221.6,700.5 223.7,702.5" fill="none" stroke="#eef0f1" stroke-width="1.1" stroke-linecap="round" transform="translate(-0.2,-0.5)"/>
<path d="M282.9,682.5 C288.7,679.3 293.7,674.8 299.5,671.5" fill="none" stroke="#eef0f1" stroke-width="0.8" stroke-linecap="round" transform="translate(-0.2,-0.5)"/>
<path d="M651.7,678.3 C653.4,682.4 658.9,681.2 660.9,685.0" fill="none" stroke="#eef0f1" stroke-width="1.0" stroke-linecap="round" transform="translate(-0.2,-0.5)"/>
<path d="M453.3,698.5 C457.0,697.9 460.6,696.7 464.0,695.0" fill="none" stroke="#eef0f1" stroke-width="0.9" stroke-linecap="round" transform="translate(-0.2,-0.5)"/>
<path d="M502.5,686.7 C504.4,689.4 507.4,689.4 510.2,689.9" fill="none" stroke="#eef0f1" stroke-width="0.7" stroke-linecap="round" transform="translate(-0.2,-0.5)"/>
<path d="M158.0,683.1 C160.9,685.0 164.1,686.6 167.1,688.4" fill="none" stroke="#eef0f1" stroke-width="1.1" stroke-linecap="round" transform="translate(-0.2,-0.5)"/>
<path d="M323.5,688.7 C325.9,690.4 329.0,690.4 331.4,691.9" fill="none" stroke="#eef0f1" stroke-width="0.7" stroke-linecap="round" transform="translate(-0.2,-0.5)"/>
<path d="M580.2,689.2 C581.2,685.3 586.2,690.3 587.1,686.1" fill="none" stroke="#eef0f1" stroke-width="0.7" stroke-linecap="round" transform="translate(-0.2,-0.5)"/>
<path d="M249.6,662.4 C256.3,659.1 263.3,658.1 270.7,659.4" fill="none" stroke="#eef0f1" stroke-width="0.9" stroke-linecap="round" transform="translate(-0.2,-0.5)"/>
<path d="M555.2,678.2 C563.1,677.7 568.8,672.8 574.7,668.3" fill="none" stroke="#eef0f1" stroke-width="1.0" stroke-linecap="round" transform="translate(-0.2,-0.5)"/>
<path d="M246.0,691.6 C249.4,693.4 249.1,686.6 252.7,688.8" fill="none" stroke="#eef0f1" stroke-width="0.7" stroke-linecap="round" transform="translate(-0.2,-0.5)"/>
<path d="M366.2,668.3 C369.0,663.4 373.7,662.2 378.8,661.8" fill="none" stroke="#eef0f1" stroke-width="0.8" stroke-linecap="round" transform="translate(-0.2,-0.5)"/>
<path d="M200.4,660.5 C204.3,666.8 210.8,669.5 216.9,672.7" fill="none" stroke="#eef0f1" stroke-width="0.7" stroke-linecap="round" transform="translate(-0.2,-0.5)"/>
<path d="M164.4,672.3 C166.0,668.3 169.0,669.3 172.0,670.2" fill="none" stroke="#eef0f1" stroke-width="1.1" stroke-linecap="round" transform="translate(-0.2,-0.5)"/>
<path d="M432.6,686.9 C437.1,681.9 443.3,680.5 449.6,679.7" fill="none" stroke="#eef0f1" stroke-width="0.7" stroke-linecap="round" transform="translate(-0.2,-0.5)"/>
<path d="M530.2,661.4 C533.3,663.4 535.1,659.5 537.9,659.7" fill="none" stroke="#eef0f1" stroke-width="1.1" stroke-linecap="round" transform="translate(-0.2,-0.5)"/>
<path d="M318.4,676.8 C323.3,678.4 328.2,678.4 333.2,677.1" fill="none" stroke="#eef0f1" stroke-width="0.7" stroke-linecap="round" transform="translate(-0.2,-0.5)"/>
<path d="M406.0,658.9 C409.6,659.8 405.7,664.6 409.4,665.4" fill="none" stroke="#eef0f1" stroke-width="0.7" stroke-linecap="round" transform="translate(-0.2,-0.5)"/>
<path d="M508.9,703.2 C514.1,700.4 519.3,697.5 524.5,694.7" fill="none" stroke="#eef0f1" stroke-width="0.9" stroke-linecap="round" transform="translate(-0.2,-0.5)"/>
<path d="M581.1,689.7 C585.5,692.9 590.0,691.4 594.4,690.1" fill="none" stroke="#eef0f1" stroke-width="0.8" stroke-linecap="round" transform="translate(-0.2,-0.5)"/>
<path d="M644.9,673.5 C648.4,674.3 652.0,674.6 655.5,675.4" fill="none" stroke="#eef0f1" stroke-width="0.8" stroke-linecap="round" transform="translate(-0.2,-0.5)"/>
<path d="M123.7,677.0 C129.0,678.6 134.4,679.8 139.9,680.9" fill="none" stroke="#eef0f1" stroke-width="0.8" stroke-linecap="round" transform="translate(-0.2,-0.5)"/>
<path d="M402.4,676.0 C406.2,673.5 409.7,677.8 413.4,676.5" fill="none" stroke="#eef0f1" stroke-width="0.7" stroke-linecap="round" transform="translate(-0.2,-0.5)"/>
<path d="M514.3,686.4 C519.1,685.8 523.4,688.4 528.0,688.5" fill="none" stroke="#eef0f1" stroke-width="0.9" stroke-linecap="round" transform="translate(-0.2,-0.5)"/>
<path d="M675.7,692.1 C680.2,692.7 682.1,687.9 685.9,687.1" fill="none" stroke="#eef0f1" stroke-width="0.7" stroke-linecap="round" transform="translate(-0.2,-0.5)"/>
<path d="M493.6,682.5 C497.8,686.2 502.9,688.2 508.4,689.2" fill="none" stroke="#eef0f1" stroke-width="0.9" stroke-linecap="round" transform="translate(-0.2,-0.5)"/>
<path d="M659.3,655.2 C663.8,657.8 669.1,658.5 673.8,660.9" fill="none" stroke="#eef0f1" stroke-width="1.1" stroke-linecap="round" transform="translate(-0.2,-0.5)"/>
<path d="M363.4,669.5 C366.6,668.6 368.9,666.0 372.1,665.1" fill="none" stroke="#eef0f1" stroke-width="0.9" stroke-linecap="round" transform="translate(-0.2,-0.5)"/>
<path d="M388.1,656.8 C395.0,657.3 401.9,657.4 408.9,657.9" fill="none" stroke="#eef0f1" stroke-width="1.2" stroke-linecap="round" transform="translate(-0.2,-0.5)"/>
<path d="M324.3,622.2 C327.0,625.5 330.4,625.1 334.0,624.3" fill="none" stroke="#eef0f1" stroke-width="0.8" stroke-linecap="round" transform="translate(-0.2,-0.5)"/>
<path d="M582.6,625.5 C582.2,628.1 583.1,630.2 585.2,631.7" fill="none" stroke="#eef0f1" stroke-width="1.0" stroke-linecap="round" transform="translate(-0.2,-0.5)"/>
<path d="M452.2,618.4 C457.4,617.2 458.9,624.8 464.1,623.5" fill="none" stroke="#eef0f1" stroke-width="0.8" stroke-linecap="round" transform="translate(-0.2,-0.5)"/>
<path d="M424.8,616.3 C428.0,620.1 432.0,614.6 435.3,617.3" fill="none" stroke="#eef0f1" stroke-width="0.7" stroke-linecap="round" transform="translate(-0.2,-0.5)"/>
<path d="M570.8,604.8 C573.1,605.4 574.1,607.3 575.0,609.2" fill="none" stroke="#eef0f1" stroke-width="0.7" stroke-linecap="round" transform="translate(-0.2,-0.5)"/>
<path d="M614.0,633.1 C618.3,633.2 622.3,631.3 626.5,630.8" fill="none" stroke="#eef0f1" stroke-width="1.0" stroke-linecap="round" transform="translate(-0.2,-0.5)"/>
<path d="M650.2,613.0 C653.7,613.2 653.5,618.2 657.1,618.3" fill="none" stroke="#eef0f1" stroke-width="0.8" stroke-linecap="round" transform="translate(-0.2,-0.5)"/>
<path d="M178.6,630.9 C180.5,627.1 185.1,632.3 187.0,628.4" fill="none" stroke="#eef0f1" stroke-width="0.8" stroke-linecap="round" transform="translate(-0.2,-0.5)"/>
<path d="M514.0,605.1 C517.6,605.9 514.5,611.0 518.3,611.8" fill="none" stroke="#eef0f1" stroke-width="0.9" stroke-linecap="round" transform="translate(-0.2,-0.5)"/>
<path d="M243.4,623.7 C246.2,623.7 247.8,625.5 249.0,627.7" fill="none" stroke="#eef0f1" stroke-width="0.8" stroke-linecap="round" transform="translate(-0.2,-0.5)"/>
<path d="M548.1,621.4 C551.8,620.8 554.9,623.3 558.5,623.5" fill="none" stroke="#eef0f1" stroke-width="0.7" stroke-linecap="round" transform="translate(-0.2,-0.5)"/>
<path d="M153.5,622.3 C156.0,620.7 154.8,617.4 156.9,615.5" fill="none" stroke="#eef0f1" stroke-width="1.0" stroke-linecap="round" transform="translate(-0.2,-0.5)"/>
<path d="M311.8,620.8 C315.7,621.4 318.1,624.1 320.6,626.8" fill="none" stroke="#eef0f1" stroke-width="0.9" stroke-linecap="round" transform="translate(-0.2,-0.5)"/>
<path d="M228.8,622.8 C228.1,619.7 229.6,617.0 230.6,614.3" fill="none" stroke="#eef0f1" stroke-width="1.0" stroke-linecap="round" transform="translate(-0.2,-0.5)"/>
<path d="M554.4,615.0 C554.8,617.2 556.8,618.5 557.5,620.5" fill="none" stroke="#eef0f1" stroke-width="0.7" stroke-linecap="round" transform="translate(-0.2,-0.5)"/>
<path d="M584.6,614.3 C585.7,616.3 586.1,618.5 586.2,620.7" fill="none" stroke="#eef0f1" stroke-width="0.9" stroke-linecap="round" transform="translate(-0.2,-0.5)"/>
<path d="M187.4,638.8 C187.9,641.7 191.8,639.8 192.6,642.4" fill="none" stroke="#eef0f1" stroke-width="1.0" stroke-linecap="round" transform="translate(-0.2,-0.5)"/>
<path d="M191.2,641.7 C192.5,637.9 197.2,637.6 198.8,634.2" fill="none" stroke="#eef0f1" stroke-width="1.0" stroke-linecap="round" transform="translate(-0.2,-0.5)"/>
<path d="M541.8,610.6 C545.3,611.3 548.7,612.4 552.0,613.7" fill="none" stroke="#eef0f1" stroke-width="0.7" stroke-linecap="round" transform="translate(-0.2,-0.5)"/>
<path d="M177.5,621.4 C179.4,618.1 183.4,619.6 186.0,617.7" fill="none" stroke="#eef0f1" stroke-width="1.0" stroke-linecap="round" transform="translate(-0.2,-0.5)"/>
<path d="M224.1,627.2 C223.8,629.4 224.5,631.3 226.0,632.9" fill="none" stroke="#eef0f1" stroke-width="0.9" stroke-linecap="round" transform="translate(-0.2,-0.5)"/>
<path d="M474.4,649.8 C478.4,647.4 480.4,643.7 481.3,639.4" fill="none" stroke="#eef0f1" stroke-width="0.8" stroke-linecap="round" transform="translate(-0.2,-0.5)"/>
<path d="M138.2,627.0 C139.1,630.6 141.2,633.4 144.3,635.4" fill="none" stroke="#eef0f1" stroke-width="0.8" stroke-linecap="round" transform="translate(-0.2,-0.5)"/>
<path d="M661.9,608.9 C663.6,606.4 665.9,607.7 668.1,607.7" fill="none" stroke="#eef0f1" stroke-width="1.0" stroke-linecap="round" transform="translate(-0.2,-0.5)"/>
<path d="M363.3,630.5 C366.9,633.3 364.6,638.4 367.6,641.5" fill="none" stroke="#eef0f1" stroke-width="0.9" stroke-linecap="round" transform="translate(-0.2,-0.5)"/>
<path d="M664.4,646.0 C669.0,646.9 670.3,650.3 670.7,654.3" fill="none" stroke="#eef0f1" stroke-width="0.8" stroke-linecap="round" transform="translate(-0.2,-0.5)"/>
<path d="M223.0,640.9 C225.1,638.4 224.1,634.8 226.0,632.3" fill="none" stroke="#eef0f1" stroke-width="0.8" stroke-linecap="round" transform="translate(-0.2,-0.5)"/>
<path d="M600.9,615.9 C603.3,614.3 605.2,617.7 607.6,616.5" fill="none" stroke="#eef0f1" stroke-width="0.7" stroke-linecap="round" transform="translate(-0.2,-0.5)"/>
<path d="M601.0,626.6 C605.5,627.2 607.8,630.2 609.0,634.2" fill="none" stroke="#eef0f1" stroke-width="0.7" stroke-linecap="round" transform="translate(-0.2,-0.5)"/>
<path d="M149.9,619.6 C150.9,616.9 150.3,613.9 151.0,611.1" fill="none" stroke="#eef0f1" stroke-width="0.9" stroke-linecap="round" transform="translate(-0.2,-0.5)"/>
<path d="M533.5,617.5 C535.6,621.4 540.8,620.1 543.3,623.3" fill="none" stroke="#eef0f1" stroke-width="0.9" stroke-linecap="round" transform="translate(-0.2,-0.5)"/>
<path d="M637.5,639.5 C638.8,637.2 640.5,635.2 642.3,633.3" fill="none" stroke="#eef0f1" stroke-width="0.7" stroke-linecap="round" transform="translate(-0.2,-0.5)"/>
<path d="M195.2,643.4 C196.8,647.0 200.5,647.3 203.5,648.6" fill="none" stroke="#eef0f1" stroke-width="0.8" stroke-linecap="round" transform="translate(-0.2,-0.5)"/>
<path d="M337.6,623.8 C339.4,625.4 340.5,627.6 341.3,629.9" fill="none" stroke="#eef0f1" stroke-width="0.7" stroke-linecap="round" transform="translate(-0.2,-0.5)"/>
<path d="M443.0,626.8 C443.9,624.1 443.4,621.2 443.9,618.4" fill="none" stroke="#eef0f1" stroke-width="0.8" stroke-linecap="round" transform="translate(-0.2,-0.5)"/>
<path d="M438.2,623.0 C441.9,626.9 435.9,631.8 439.6,635.7" fill="none" stroke="#eef0f1" stroke-width="1.0" stroke-linecap="round" transform="translate(-0.2,-0.5)"/>
<path d="M498.0,614.9 C500.8,617.4 503.7,619.8 506.6,622.3" fill="none" stroke="#eef0f1" stroke-width="0.8" stroke-linecap="round" transform="translate(-0.2,-0.5)"/>
<path d="M250.1,624.2 C252.9,622.2 248.8,619.4 250.8,617.3" fill="none" stroke="#eef0f1" stroke-width="0.9" stroke-linecap="round" transform="translate(-0.2,-0.5)"/>
<path d="M308.4,653.0 C307.4,649.1 313.1,647.5 311.6,643.4" fill="none" stroke="#eef0f1" stroke-width="0.8" stroke-linecap="round" transform="translate(-0.2,-0.5)"/>
<path d="M127.8,609.7 C131.1,609.5 131.6,613.4 134.2,614.1" fill="none" stroke="#eef0f1" stroke-width="0.9" stroke-linecap="round" transform="translate(-0.2,-0.5)"/>
<path d="M609.7,623.2 C611.3,621.5 612.6,619.6 613.9,617.6" fill="none" stroke="#eef0f1" stroke-width="1.0" stroke-linecap="round" transform="translate(-0.2,-0.5)"/>
<path d="M347.1,608.6 C350.1,607.0 353.2,605.4 356.2,603.7" fill="none" stroke="#eef0f1" stroke-width="0.8" stroke-linecap="round" transform="translate(-0.2,-0.5)"/>
<path d="M168.2,609.0 C171.9,608.7 172.6,611.2 173.2,614.0" fill="none" stroke="#eef0f1" stroke-width="0.8" stroke-linecap="round" transform="translate(-0.2,-0.5)"/>
<path d="M545.7,638.3 C545.1,642.6 550.8,641.0 551.3,644.2" fill="none" stroke="#eef0f1" stroke-width="0.8" stroke-linecap="round" transform="translate(-0.2,-0.5)"/>
<path d="M246.1,643.6 C244.0,641.0 248.8,639.6 247.2,637.0" fill="none" stroke="#eef0f1" stroke-width="0.8" stroke-linecap="round" transform="translate(-0.2,-0.5)"/>
<path d="M133.8,637.5 C134.2,640.1 134.6,642.6 134.9,645.2" fill="none" stroke="#eef0f1" stroke-width="0.9" stroke-linecap="round" transform="translate(-0.2,-0.5)"/>
<path d="M600.5,608.2 C604.5,610.1 607.5,608.4 610.1,605.6" fill="none" stroke="#eef0f1" stroke-width="0.7" stroke-linecap="round" transform="translate(-0.2,-0.5)"/>
<path d="M676.2,618.6 C680.1,617.1 680.6,613.5 681.4,610.1" fill="none" stroke="#eef0f1" stroke-width="0.9" stroke-linecap="round" transform="translate(-0.2,-0.5)"/>
<path d="M369.6,636.4 C374.2,635.1 372.8,628.5 377.5,627.2" fill="none" stroke="#eef0f1" stroke-width="1.0" stroke-linecap="round" transform="translate(-0.2,-0.5)"/>
<path d="M630.1,616.4 C629.3,612.1 632.2,609.3 634.2,606.1" fill="none" stroke="#eef0f1" stroke-width="0.8" stroke-linecap="round" transform="translate(-0.2,-0.5)"/>
<path d="M135.6,629.0 C137.6,625.8 141.3,631.2 143.1,627.4" fill="none" stroke="#eef0f1" stroke-width="0.8" stroke-linecap="round" transform="translate(-0.2,-0.5)"/>
<path d="M531.3,629.5 C533.3,628.5 535.4,627.5 537.4,626.6" fill="none" stroke="#eef0f1" stroke-width="0.7" stroke-linecap="round" transform="translate(-0.2,-0.5)"/>
<path d="M400.4,625.6 C402.1,621.1 405.5,620.7 409.5,621.6" fill="none" stroke="#eef0f1" stroke-width="0.8" stroke-linecap="round" transform="translate(-0.2,-0.5)"/>
<path d="M662.5,623.7 C664.7,620.6 668.0,621.7 670.9,621.4" fill="none" stroke="#eef0f1" stroke-width="0.9" stroke-linecap="round" transform="translate(-0.2,-0.5)"/>
<path d="M557.5,645.9 C559.9,646.0 561.5,647.5 562.8,649.3" fill="none" stroke="#eef0f1" stroke-width="0.8" stroke-linecap="round" transform="translate(-0.2,-0.5)"/>
<path d="M258,676 L278,655" stroke="#75787b" stroke-width="2.2" stroke-linecap="round"/>
<path d="M258,676 L278,655" stroke="#d6d8da" stroke-width="1.2" stroke-linecap="round" transform="translate(-0.2,-0.4)"/>
<path d="M300,692 L318,668" stroke="#75787b" stroke-width="2.2" stroke-linecap="round"/>
<path d="M300,692 L318,668" stroke="#d6d8da" stroke-width="1.2" stroke-linecap="round" transform="translate(-0.2,-0.4)"/>
<path d="M548,690 L583,676" stroke="#75787b" stroke-width="2.2" stroke-linecap="round"/>
<path d="M548,690 L583,676" stroke="#d6d8da" stroke-width="1.2" stroke-linecap="round" transform="translate(-0.2,-0.4)"/>
<path d="M628,700 L662,681" stroke="#75787b" stroke-width="2.2" stroke-linecap="round"/>
<path d="M628,700 L662,681" stroke="#d6d8da" stroke-width="1.2" stroke-linecap="round" transform="translate(-0.2,-0.4)"/>
<path d="M150,688 L178,672" stroke="#75787b" stroke-width="2.2" stroke-linecap="round"/>
<path d="M150,688 L178,672" stroke="#d6d8da" stroke-width="1.2" stroke-linecap="round" transform="translate(-0.2,-0.4)"/>
<path d="M455,684 L480,670" stroke="#75787b" stroke-width="2.2" stroke-linecap="round"/>
<path d="M455,684 L480,670" stroke="#d6d8da" stroke-width="1.2" stroke-linecap="round" transform="translate(-0.2,-0.4)"/>
<circle cx="129" cy="660" r="4.5" fill="url(#gRedDot)" stroke="#741212" stroke-width="0.5"/>
<circle cx="131" cy="684" r="3.2" fill="url(#gRedDot)" stroke="#741212" stroke-width="0.5"/>
<circle cx="146" cy="682" r="4.3" fill="url(#gRedDot)" stroke="#741212" stroke-width="0.5"/>
<circle cx="170" cy="691" r="5.0" fill="url(#gRedDot)" stroke="#741212" stroke-width="0.5"/>
<circle cx="176" cy="692" r="2.2" fill="url(#gRedDot)" stroke="#741212" stroke-width="0.5"/>
<circle cx="186" cy="676" r="2.8" fill="url(#gRedDot)" stroke="#741212" stroke-width="0.5"/>
<circle cx="191" cy="669" r="2.6" fill="url(#gRedDot)" stroke="#741212" stroke-width="0.5"/>
<circle cx="204" cy="685" r="3.0" fill="url(#gRedDot)" stroke="#741212" stroke-width="0.5"/>
<circle cx="216" cy="680" r="4.6" fill="url(#gRedDot)" stroke="#741212" stroke-width="0.5"/>
<circle cx="219" cy="697" r="4.2" fill="url(#gRedDot)" stroke="#741212" stroke-width="0.5"/>
<circle cx="231" cy="684" r="2.6" fill="url(#gRedDot)" stroke="#741212" stroke-width="0.5"/>
<circle cx="241" cy="678" r="2.8" fill="url(#gRedDot)" stroke="#741212" stroke-width="0.5"/>
<circle cx="245" cy="690" r="3.0" fill="url(#gRedDot)" stroke="#741212" stroke-width="0.5"/>
<circle cx="240" cy="694" r="2.8" fill="url(#gRedDot)" stroke="#741212" stroke-width="0.5"/>
<circle cx="262" cy="697" r="3.2" fill="url(#gRedDot)" stroke="#741212" stroke-width="0.5"/>
<circle cx="256" cy="671" r="2.6" fill="url(#gRedDot)" stroke="#741212" stroke-width="0.5"/>
<circle cx="262" cy="657" r="3.5" fill="url(#gRedDot)" stroke="#741212" stroke-width="0.5"/>
<circle cx="289" cy="677" r="2.6" fill="url(#gRedDot)" stroke="#741212" stroke-width="0.5"/>
<circle cx="294" cy="662" r="4.2" fill="url(#gRedDot)" stroke="#741212" stroke-width="0.5"/>
<circle cx="309" cy="700" r="4.3" fill="url(#gRedDot)" stroke="#741212" stroke-width="0.5"/>
<circle cx="320" cy="700" r="2.8" fill="url(#gRedDot)" stroke="#741212" stroke-width="0.5"/>
<circle cx="349" cy="663" r="2.6" fill="url(#gRedDot)" stroke="#741212" stroke-width="0.5"/>
<circle cx="354" cy="672" r="2.6" fill="url(#gRedDot)" stroke="#741212" stroke-width="0.5"/>
<circle cx="338" cy="679" r="2.6" fill="url(#gRedDot)" stroke="#741212" stroke-width="0.5"/>
<circle cx="365" cy="684" r="4.2" fill="url(#gRedDot)" stroke="#741212" stroke-width="0.5"/>
<circle cx="372" cy="683" r="4.2" fill="url(#gRedDot)" stroke="#741212" stroke-width="0.5"/>
<circle cx="383" cy="660" r="4.0" fill="url(#gRedDot)" stroke="#741212" stroke-width="0.5"/>
<circle cx="372" cy="672" r="3.0" fill="url(#gRedDot)" stroke="#741212" stroke-width="0.5"/>
<circle cx="395" cy="687" r="3.5" fill="url(#gRedDot)" stroke="#741212" stroke-width="0.5"/>
<circle cx="403" cy="692" r="3.2" fill="url(#gRedDot)" stroke="#741212" stroke-width="0.5"/>
<circle cx="425" cy="694" r="3.5" fill="url(#gRedDot)" stroke="#741212" stroke-width="0.5"/>
<circle cx="434" cy="690" r="3.4" fill="url(#gRedDot)" stroke="#741212" stroke-width="0.5"/>
<circle cx="465" cy="688" r="3.6" fill="url(#gRedDot)" stroke="#741212" stroke-width="0.5"/>
<circle cx="477" cy="676" r="3.2" fill="url(#gRedDot)" stroke="#741212" stroke-width="0.5"/>
<circle cx="487" cy="668" r="3.6" fill="url(#gRedDot)" stroke="#741212" stroke-width="0.5"/>
<circle cx="491" cy="686" r="3.4" fill="url(#gRedDot)" stroke="#741212" stroke-width="0.5"/>
<circle cx="490" cy="662" r="3.6" fill="url(#gRedDot)" stroke="#741212" stroke-width="0.5"/>
<circle cx="503" cy="672" r="5.0" fill="url(#gRedDot)" stroke="#741212" stroke-width="0.5"/>
<circle cx="503" cy="697" r="5.0" fill="url(#gRedDot)" stroke="#741212" stroke-width="0.5"/>
<circle cx="514" cy="680" r="3.2" fill="url(#gRedDot)" stroke="#741212" stroke-width="0.5"/>
<circle cx="527" cy="673" r="5.0" fill="url(#gRedDot)" stroke="#741212" stroke-width="0.5"/>
<circle cx="538" cy="688" r="5.2" fill="url(#gRedDot)" stroke="#741212" stroke-width="0.5"/>
<circle cx="548" cy="694" r="3.4" fill="url(#gRedDot)" stroke="#741212" stroke-width="0.5"/>
<circle cx="523" cy="690" r="3.2" fill="url(#gRedDot)" stroke="#741212" stroke-width="0.5"/>
<circle cx="584" cy="665" r="4.4" fill="url(#gRedDot)" stroke="#741212" stroke-width="0.5"/>
<circle cx="611" cy="666" r="3.4" fill="url(#gRedDot)" stroke="#741212" stroke-width="0.5"/>
<circle cx="625" cy="671" r="4.6" fill="url(#gRedDot)" stroke="#741212" stroke-width="0.5"/>
<circle cx="650" cy="672" r="3.0" fill="url(#gRedDot)" stroke="#741212" stroke-width="0.5"/>
<circle cx="660" cy="679" r="3.2" fill="url(#gRedDot)" stroke="#741212" stroke-width="0.5"/>
<circle cx="638" cy="688" r="5.0" fill="url(#gRedDot)" stroke="#741212" stroke-width="0.5"/>
<circle cx="618" cy="696" r="3.2" fill="url(#gRedDot)" stroke="#741212" stroke-width="0.5"/>
<circle cx="505" cy="666" r="3.0" fill="url(#gRedDot)" stroke="#741212" stroke-width="0.5"/>
<circle cx="384" cy="686" r="4.4" fill="url(#gRedDot)" stroke="#741212" stroke-width="0.5"/>
<circle cx="135" cy="672" r="2.4" fill="url(#gRedDot)" stroke="#741212" stroke-width="0.5"/>
<circle cx="159" cy="675" r="2.4" fill="url(#gRedDot)" stroke="#741212" stroke-width="0.5"/>
<circle cx="672" cy="690" r="3.4" fill="url(#gRedDot)" stroke="#741212" stroke-width="0.5"/>
<path d="M607.8,476.5 L605.6,476.3 L602.8,475.6 L599.5,474.8 L596.1,473.9 L592.8,473.0 L589.8,472.3 L587.5,471.4 L585.2,470.6 L583.0,469.8 L580.9,469.0 L578.7,468.3 L576.5,467.5 L574.4,466.4 L572.3,465.3 L570.1,464.2 L567.9,463.1 L565.8,462.2 L563.8,461.3 L561.9,460.6 L560.1,460.1 L558.4,459.7 L556.9,459.5 L555.8,459.3 L555.0,459.2 A3.3,3.3 0 0 0 553.4,465.6  L554.3,465.9 L555.4,466.2 L556.6,466.6 L558.0,467.1 L559.4,467.6 L560.8,468.3 L562.3,469.1 L564.1,470.2 L566.0,471.4 L568.0,472.7 L570.1,474.0 L572.1,475.3 L573.8,476.8 L575.5,478.3 L577.2,479.7 L579.0,481.3 L580.9,482.8 L583.0,484.5 L585.2,486.7 L587.7,489.1 L590.4,491.5 L592.9,493.8 L594.9,495.8 L596.2,497.5 Z" fill="#5192db"/>
<path d="M557.9,460.1 L556.9,459.9 L555.5,459.5 L553.8,459.0 L552.1,458.5 L550.4,458.1 L548.8,457.6 L547.5,457.2 L546.2,456.7 L544.9,456.3 L543.5,455.8 L542.2,455.4 L540.8,455.1 L539.4,454.8 L538.0,454.6 L536.7,454.5 L535.4,454.4 L534.2,454.4 L533.1,454.3 L532.0,454.3 L530.9,454.2 L529.8,454.3 L528.9,454.3 L528.1,454.3 L527.6,454.3 A2.5,2.5 0 0 0 527.6,459.3  L528.2,459.3 L529.0,459.3 L529.9,459.2 L530.9,459.2 L531.9,459.3 L532.9,459.3 L533.9,459.4 L535.1,459.5 L536.2,459.6 L537.4,459.7 L538.5,459.9 L539.6,460.1 L540.7,460.4 L541.9,460.8 L543.1,461.3 L544.4,461.8 L545.7,462.3 L547.2,462.8 L548.7,463.3 L550.4,463.9 L552.1,464.5 L553.8,465.0 L555.1,465.5 L556.1,465.9 Z" fill="#5192db"/>
<path d="M557.8,464.5 L557.8,463.7 L558.0,462.5 L558.1,461.2 L558.3,459.8 L558.5,458.4 L558.7,457.2 L558.8,456.2 L559.0,455.1 L559.2,454.1 L559.3,453.2 L559.4,452.4 L559.5,451.8 A2.2,2.2 0 0 0 555.1,451.0  L555.0,451.6 L554.8,452.3 L554.6,453.2 L554.4,454.2 L554.2,455.3 L553.9,456.4 L553.7,457.5 L553.3,458.9 L553.0,460.3 L552.7,461.6 L552.5,462.7 L552.2,463.5 Z" fill="#5192db"/>
<path d="M556.2,461.0 L555.4,461.4 L554.3,461.8 L553.0,462.3 L551.6,462.8 L550.3,463.3 L549.3,463.8 L548.4,464.1 L547.7,464.5 L547.2,464.8 L546.8,465.0 L546.3,465.2 L545.7,465.4 L544.9,465.6 L543.8,465.8 L542.6,466.0 L541.4,466.1 L540.4,466.3 L539.7,466.4 A1.9,1.9 0 0 0 540.3,470.2  L541.0,470.1 L542.0,470.0 L543.1,469.8 L544.4,469.6 L545.6,469.5 L546.7,469.2 L547.6,469.0 L548.3,468.8 L548.9,468.5 L549.5,468.3 L550.0,468.1 L550.7,467.8 L551.8,467.5 L553.1,467.1 L554.5,466.7 L555.8,466.3 L557.0,466.0 L557.8,465.8 Z" fill="#5192db"/>
<path d="M598.7,481.4 L596.1,483.2 L592.3,485.3 L587.7,487.5 L582.9,489.9 L578.3,492.2 L574.5,494.3 L571.3,495.7 L568.6,497.1 L566.3,498.3 L564.1,499.5 L561.9,500.6 L559.4,501.7 L556.4,502.7 L553.2,503.6 L549.9,504.6 L546.5,505.5 L543.1,506.4 L539.8,507.2 L536.4,508.0 L533.0,508.7 L529.5,509.5 L526.1,510.2 L522.9,510.8 L519.9,511.4 L517.0,511.9 L514.1,512.4 L511.4,512.8 L509.0,513.1 L506.9,513.4 L505.4,513.7 A0.8,0.8 0 0 0 505.6,515.3  L507.1,515.2 L509.2,515.1 L511.7,514.9 L514.4,514.7 L517.3,514.5 L520.3,514.2 L523.4,513.9 L526.7,513.5 L530.1,513.1 L533.6,512.7 L537.2,512.2 L540.6,511.8 L544.1,511.4 L547.6,511.0 L551.1,510.6 L554.6,510.1 L558.0,509.6 L561.2,509.1 L564.3,508.7 L567.0,508.2 L569.6,507.8 L572.2,507.3 L574.9,506.8 L578.1,506.3 L582.3,506.1 L587.3,505.6 L592.6,505.1 L597.7,504.7 L602.1,504.4 L605.3,504.6 Z" fill="#5192db"/>
<path d="M615.8,478.0 L614.5,475.9 L613.1,472.9 L611.5,469.3 L609.8,465.4 L608.0,461.7 L606.2,458.5 L604.8,455.6 L603.3,453.1 L601.7,450.8 L600.2,448.8 L598.8,447.0 L597.6,445.5 L596.6,444.0 L595.7,442.8 L594.9,441.7 L594.1,440.7 L593.2,439.7 L592.2,438.7 L591.1,437.4 L589.8,436.1 L588.4,434.7 L587.2,433.5 L586.1,432.6 L585.4,431.8 A2.2,2.2 0 0 0 582.2,435.0  L583.0,435.7 L584.0,436.8 L585.2,438.0 L586.4,439.3 L587.6,440.6 L588.6,441.7 L589.3,442.8 L589.9,443.8 L590.4,444.7 L591.0,445.8 L591.6,447.0 L592.4,448.5 L593.3,450.4 L594.2,452.4 L595.2,454.6 L596.2,456.8 L597.0,459.1 L597.8,461.5 L598.0,464.6 L598.2,468.4 L598.4,472.3 L598.5,476.2 L598.4,479.6 L598.2,482.0 Z" fill="#5192db"/>
<path d="M625.0,485.2 L623.9,482.5 L622.7,478.7 L621.4,474.5 L620.3,470.1 L619.3,466.0 L618.5,462.5 L618.5,459.7 L618.6,457.0 L618.9,454.3 L619.4,451.6 L620.0,448.8 L620.7,445.9 L621.6,442.9 L622.6,439.9 L623.8,436.9 L625.0,433.9 L626.3,431.0 L627.7,428.2 L629.2,425.6 L630.8,423.1 L632.5,420.6 L634.3,418.1 L636.1,415.7 L637.9,413.3 L639.7,410.8 L641.7,408.3 L643.7,405.7 L645.6,403.4 L647.2,401.4 L648.3,400.0 A3.0,3.0 0 0 0 643.7,396.0  L642.4,397.4 L640.7,399.2 L638.6,401.4 L636.4,403.8 L634.2,406.3 L632.1,408.7 L630.2,411.0 L628.2,413.3 L626.2,415.8 L624.1,418.3 L622.2,421.0 L620.3,423.8 L618.4,426.7 L616.6,429.6 L614.9,432.7 L613.3,435.8 L611.7,439.0 L610.3,442.1 L608.9,445.0 L607.6,447.9 L606.4,450.9 L605.3,454.1 L604.3,457.6 L603.5,461.5 L602.4,465.9 L601.6,470.8 L601.0,475.8 L600.4,480.4 L599.8,484.2 L599.0,486.8 Z" fill="#5192db"/>
<path d="M637.3,406.4 L636.9,405.2 L636.3,403.5 L635.6,401.5 L634.9,399.4 L634.3,397.4 L633.8,395.6 L633.4,393.9 L633.0,392.2 L632.7,390.4 L632.4,388.9 L632.2,387.5 L632.0,386.5 A1.6,1.6 0 0 0 628.8,387.1  L628.9,388.0 L629.1,389.4 L629.3,391.0 L629.6,392.8 L629.9,394.6 L630.2,396.4 L630.7,398.3 L631.2,400.5 L631.8,402.7 L632.3,404.7 L632.8,406.4 L633.1,407.6 Z" fill="#5192db"/>
<path d="M628.6,501.2 L630.0,499.0 L632.3,496.3 L635.1,493.4 L638.0,490.3 L640.8,487.3 L643.0,484.7 L644.9,483.2 L646.6,481.8 L648.1,480.5 L649.8,479.2 L651.5,477.6 L653.3,475.8 L655.4,474.1 L657.7,472.2 L660.0,470.1 L662.4,467.9 L664.6,465.6 L666.7,463.1 L668.6,460.5 L670.4,457.7 L672.0,454.9 L673.5,452.2 L674.8,449.6 L676.1,447.4 L677.4,445.3 L678.6,443.3 L679.7,441.4 L680.7,439.8 L681.5,438.4 L682.1,437.3 A2.5,2.5 0 0 0 677.9,434.7  L677.2,435.7 L676.3,437.0 L675.3,438.7 L674.1,440.5 L672.8,442.5 L671.5,444.6 L670.1,446.9 L668.6,449.4 L667.1,452.1 L665.5,454.7 L663.8,457.1 L662.1,459.3 L660.2,461.3 L658.0,463.3 L655.8,465.2 L653.5,467.0 L651.2,468.7 L649.1,470.2 L647.1,471.1 L645.4,471.7 L643.7,472.1 L641.8,472.7 L639.6,473.3 L637.0,474.3 L633.6,474.9 L629.6,475.9 L625.5,477.0 L621.5,477.9 L618.1,478.6 L615.4,478.8 Z" fill="#5192db"/>
<path d="M684.1,419.4 L683.2,419.4 L682.1,419.3 L680.6,419.3 L679.1,419.2 L677.6,419.2 L676.1,419.1 L674.6,419.0 L672.9,419.0 L671.2,418.9 L669.6,418.9 L668.2,418.8 L667.3,418.8 A1.8,1.8 0 0 0 667.1,422.4  L668.1,422.5 L669.4,422.5 L671.0,422.6 L672.7,422.7 L674.4,422.8 L675.9,422.9 L677.4,423.0 L678.9,423.1 L680.5,423.2 L681.9,423.3 L683.0,423.3 L683.9,423.4 Z" fill="#5192db"/>
<path d="M684.5,438.7 L683.6,438.5 L682.4,438.2 L681.0,437.8 L679.4,437.4 L677.9,437.0 L676.5,436.7 L675.0,436.3 L673.5,435.9 L672.0,435.5 L670.5,435.1 L669.3,434.8 L668.4,434.6 A1.6,1.6 0 0 0 667.6,437.8  L668.4,438.1 L669.6,438.4 L671.0,438.8 L672.6,439.3 L674.1,439.7 L675.5,440.1 L677.0,440.5 L678.5,441.0 L680.0,441.4 L681.5,441.8 L682.7,442.1 L683.5,442.3 Z" fill="#5192db"/>
<path d="M618.2,506.8 L620.5,506.5 L623.8,506.5 L627.7,506.5 L631.8,506.6 L635.8,506.6 L639.3,506.4 L642.0,506.7 L644.4,506.8 L646.5,506.9 L648.7,506.8 L651.2,506.8 L654.3,506.9 L658.4,507.1 L663.5,507.3 L669.0,507.6 L674.2,507.8 L678.7,508.0 L681.8,508.1 A3.5,3.5 0 0 0 682.2,501.1  L679.0,500.9 L674.6,500.7 L669.3,500.4 L663.9,500.1 L658.8,499.8 L654.7,499.5 L651.6,499.2 L649.1,498.9 L647.1,498.7 L645.2,498.4 L643.1,498.0 L640.7,497.6 L637.7,496.3 L634.2,494.8 L630.5,493.3 L626.9,491.8 L623.9,490.4 L621.8,489.2 Z" fill="#5192db"/>
<path d="M604.0,494.9 L605.0,496.6 L606.0,499.0 L607.1,501.8 L608.2,504.8 L609.2,507.7 L610.2,510.3 L611.0,512.5 L611.7,514.2 L612.5,515.9 L613.2,517.8 L613.9,520.4 L614.6,524.0 L614.7,528.1 L614.9,532.4 L615.0,537.2 L615.1,543.2 L615.2,550.6 L615.3,560.0 L615.3,572.9 L615.4,589.3 L615.4,607.2 L615.4,624.7 L615.5,639.6 L615.5,650.0 A1.1,1.1 0 0 0 617.7,650.0  L617.7,639.6 L617.8,624.7 L617.8,607.2 L617.8,589.3 L617.9,572.9 L617.9,560.0 L618.0,550.6 L618.1,543.2 L618.3,537.3 L618.4,532.4 L618.5,528.1 L618.6,524.0 L619.2,520.4 L619.9,517.7 L620.5,515.6 L621.1,513.8 L621.6,511.9 L622.2,509.7 L622.9,506.8 L623.5,503.7 L624.0,500.5 L624.6,497.5 L625.3,494.9 L626.0,493.1 Z" fill="#5192db"/>
<path d="M577,487 C588,483 598,474 604,459 C607,466 610,470 613,471 C616,475 620,477 628,479 C636,481 642,479 648,474 C642,486 638,494 642,502 C632,502 624,508 621,517 L612,517 C610,508 605,503 596,501.5 C590,500.6 585,500.6 579,502 C577,497 576,492 577,487 Z" fill="#5192db"/>
<ellipse cx="586" cy="490" rx="11" ry="9.5" fill="#5192db"/>
<ellipse cx="610" cy="486" rx="14" ry="11" fill="#76ade8" opacity="0.8" filter="url(#blur2)"/>
<circle cx="612" cy="490.5" r="6.2" fill="#97bfea"/>
<circle cx="612" cy="490.5" r="6.2" fill="none" stroke="#5f9ad9" stroke-width="0.8"/>
<circle cx="612.0" cy="490.5" r="0.6" fill="#e0ebf8"/>
<circle cx="611.9" cy="486.6" r="0.6" fill="#e0ebf8"/>
<circle cx="609.3" cy="490.3" r="0.6" fill="#e0ebf8"/>
<circle cx="613.1" cy="490.5" r="0.6" fill="#e0ebf8"/>
<circle cx="609.6" cy="488.0" r="0.6" fill="#e0ebf8"/>
<circle cx="609.6" cy="492.8" r="0.6" fill="#e0ebf8"/>
<circle cx="610.1" cy="492.0" r="0.6" fill="#e0ebf8"/>
<circle cx="609.6" cy="488.5" r="0.6" fill="#e0ebf8"/>
<circle cx="610.7" cy="493.1" r="0.6" fill="#e0ebf8"/>
<circle cx="611.0" cy="490.2" r="0.6" fill="#e0ebf8"/>
<circle cx="611.1" cy="489.7" r="0.6" fill="#e0ebf8"/>
<circle cx="613.8" cy="489.3" r="0.6" fill="#e0ebf8"/>
<circle cx="611.6" cy="488.1" r="0.6" fill="#e0ebf8"/>
<circle cx="611.0" cy="490.7" r="0.6" fill="#e0ebf8"/>
<path d="M121.0,526.5 Q121.0,515.5 132.0,515.5 L236.0,515.5 Q247.0,515.5 247.0,526.5 L247.0,652.2 A3.0,3.0 0 0 1 240.9,652.2 L239.5,607.6 A2.0,3.6 0 0 0 235.5,607.6 L234.1,648.2 A3.1,3.1 0 0 1 227.9,648.2 L226.5,614.6 A2.5,4.6 0 0 0 221.4,614.6 L220.0,657.9 A3.1,3.1 0 0 1 213.8,657.9 L212.4,607.3 A3.5,6.3 0 0 0 205.4,607.3 L204.0,641.9 A3.6,3.6 0 0 1 196.7,641.9 L195.3,620.4 A3.0,5.4 0 0 0 189.3,620.4 L187.9,655.7 A3.6,3.6 0 0 1 180.7,655.7 L179.3,614.0 A2.8,5.0 0 0 0 173.8,614.0 L172.4,645.9 A3.4,3.4 0 0 1 165.6,645.9 L164.2,608.3 A3.5,6.3 0 0 0 157.2,608.3 L155.8,656.6 A3.1,3.1 0 0 1 149.6,656.6 L148.2,612.1 A4.5,8.1 0 0 0 139.2,612.1 L137.8,648.6 A8.4,8.4 0 0 1 121.0,648.6 Z" fill="url(#gPink)" stroke="#ee8f87" stroke-width="1.1" stroke-linejoin="round"/>
<path d="M262.0,526.5 Q262.0,515.5 273.0,515.5 L369.2,515.5 Q380.2,515.5 380.2,526.5 L380.2,651.5 A4.6,4.6 0 0 1 371.1,651.5 L369.7,612.4 A2.3,4.1 0 0 0 365.1,612.4 L363.7,649.0 A2.8,2.8 0 0 1 358.1,649.0 L356.7,615.1 A3.2,5.9 0 0 0 350.2,615.1 L348.8,657.2 A3.3,3.3 0 0 1 342.2,657.2 L340.8,616.1 A2.3,4.1 0 0 0 336.2,616.1 L334.8,648.5 A3.3,3.3 0 0 1 328.2,648.5 L326.8,609.6 A3.2,5.9 0 0 0 320.3,609.6 L318.9,646.1 A3.3,3.3 0 0 1 312.4,646.1 L311.0,621.7 A3.3,5.9 0 0 0 304.4,621.7 L303.0,656.0 A3.6,3.6 0 0 1 295.9,656.0 L294.5,609.9 A2.9,5.3 0 0 0 288.6,609.9 L287.2,649.0 A3.5,3.5 0 0 1 280.3,649.0 L278.9,601.8 A2.6,4.8 0 0 0 273.6,601.8 L272.2,643.3 A5.1,5.1 0 0 1 262.0,643.3 Z" fill="url(#gPink)" stroke="#ee8f87" stroke-width="1.1" stroke-linejoin="round"/>
<path d="M498.8,526.5 Q498.8,515.5 509.8,515.5 L604.6,515.5 Q615.6,515.5 615.6,526.5 L615.6,642.6 A4.4,4.4 0 0 1 606.9,642.6 L605.5,611.0 A2.8,5.0 0 0 0 600.0,611.0 L598.6,650.9 A4.1,4.1 0 0 1 590.4,650.9 L589.0,614.5 A2.9,5.1 0 0 0 583.3,614.5 L581.9,643.1 A3.6,3.6 0 0 1 574.6,643.1 L573.2,606.5 A3.2,5.7 0 0 0 566.9,606.5 L565.5,660.6 A3.4,3.4 0 0 1 558.8,660.6 L557.4,616.7 A3.3,5.9 0 0 0 550.8,616.7 L549.4,646.9 A2.8,2.8 0 0 1 543.9,646.9 L542.5,605.2 A3.3,5.9 0 0 0 535.9,605.2 L534.5,657.4 A3.6,3.6 0 0 1 527.3,657.4 L525.9,616.0 A2.9,5.2 0 0 0 520.1,616.0 L518.7,646.7 A2.9,2.9 0 0 1 512.9,646.7 L511.5,615.3 A1.8,3.3 0 0 0 507.8,615.3 L506.4,651.5 A3.8,3.8 0 0 1 498.8,651.5 Z" fill="url(#gPink)" stroke="#ee8f87" stroke-width="1.1" stroke-linejoin="round"/>
<path d="M618.9,526.5 Q618.9,515.5 629.9,515.5 L689.0,515.5 Q700.0,515.5 700.0,526.5 L700.0,642.7 A7.3,7.3 0 0 1 685.4,642.7 L684.0,611.4 A3.0,5.4 0 0 0 678.0,611.4 L676.6,654.6 A3.4,3.4 0 0 1 669.9,654.6 L668.5,605.5 A3.4,6.2 0 0 0 661.6,605.5 L660.2,644.6 A3.4,3.4 0 0 1 653.5,644.6 L652.1,615.8 A3.6,6.4 0 0 0 645.0,615.8 L643.6,657.3 A3.7,3.7 0 0 1 636.3,657.3 L634.9,603.1 A2.8,5.1 0 0 0 629.2,603.1 L627.8,642.2 A4.5,4.5 0 0 1 618.9,642.2 Z" fill="url(#gPink)" stroke="#ee8f87" stroke-width="1.1" stroke-linejoin="round"/>
<circle cx="190.4" cy="560" r="30" fill="#f08f87" opacity="0.55" filter="url(#blur6)"/>
<circle cx="190.4" cy="560" r="16.2" fill="url(#gNucP)" stroke="#d98386" stroke-width="0.6"/>
<circle cx="184.6" cy="553.8" r="2.4" fill="#fbe6c6" filter="url(#blur05)"/>
<circle cx="323.8" cy="562" r="30" fill="#f08f87" opacity="0.55" filter="url(#blur6)"/>
<circle cx="323.8" cy="562" r="16.2" fill="url(#gNucP)" stroke="#d98386" stroke-width="0.6"/>
<circle cx="318.0" cy="555.8" r="2.4" fill="#fbe6c6" filter="url(#blur05)"/>
<circle cx="559" cy="562.5" r="30" fill="#f08f87" opacity="0.55" filter="url(#blur6)"/>
<circle cx="559" cy="562.5" r="16.2" fill="url(#gNucP)" stroke="#d98386" stroke-width="0.6"/>
<circle cx="553.2" cy="556.3" r="2.4" fill="#fbe6c6" filter="url(#blur05)"/>
<circle cx="678.5" cy="562" r="30" fill="#f08f87" opacity="0.55" filter="url(#blur6)"/>
<circle cx="678.5" cy="562" r="16.2" fill="url(#gNucP)" stroke="#d98386" stroke-width="0.6"/>
<circle cx="672.7" cy="555.8" r="2.4" fill="#fbe6c6" filter="url(#blur05)"/>
<path d="M380.8,528 Q380.8,516 392.8,516 L487.2,516 Q499.2,516 499.2,528 L499.4,606 C499,620 494,630 486.9,639.2 C480,647.5 474,654 469,660 C467.5,664 466.5,670 466.0,675.9 A3.4,3.4 0 0 1 459.2,675.9 L459.0,657.5 A1.7,2.5 0 0 0 455.6,657.5 L455.3,680.6 A3.4,3.4 0 0 1 448.5,680.6 L446.9,653.8 A1.7,2.5 0 0 0 443.5,653.8 L442.1,687.9 A3.5,3.5 0 0 1 435.1,687.9 L435.1,656.5 A1.7,2.5 0 0 0 431.7,656.5 L431.6,679.6 A3.4,3.4 0 0 1 424.8,679.6 L423.5,652.9 A1.7,2.5 0 0 0 420.1,652.9 L418.6,678.7 A3.3,3.3 0 0 1 412.0,678.7 C411,668 410,661 406.7,656 C402,651 398,647 395.5,644.8 C390,639 386.5,633 384.5,627 C382,620 380.8,612 380.8,604 Z" fill="url(#gPurple)" stroke="#a68bc6" stroke-width="1.2" stroke-linejoin="round"/>
<circle cx="437.5" cy="560.4" r="16.2" fill="url(#gNucV)" stroke="#a990cb" stroke-width="0.6"/>
<ellipse cx="431" cy="553.5" rx="3.2" ry="2.2" fill="#f3ecf8" transform="rotate(-30 431 553.5)"/>
<circle cx="397.8" cy="539" r="2.5" fill="#9687cd" stroke="#5444ab" stroke-width="0.9"/>
<circle cx="436" cy="523" r="2.5" fill="#9687cd" stroke="#5444ab" stroke-width="0.9"/>
<circle cx="449.3" cy="533.5" r="2.5" fill="#9687cd" stroke="#5444ab" stroke-width="0.9"/>
<circle cx="487" cy="530" r="2.5" fill="#9687cd" stroke="#5444ab" stroke-width="0.9"/>
<circle cx="472.5" cy="552" r="2.5" fill="#9687cd" stroke="#5444ab" stroke-width="0.9"/>
<circle cx="480" cy="549.5" r="2.5" fill="#9687cd" stroke="#5444ab" stroke-width="0.9"/>
<circle cx="477" cy="555.5" r="2.5" fill="#9687cd" stroke="#5444ab" stroke-width="0.9"/>
<circle cx="402.8" cy="565.5" r="2.5" fill="#9687cd" stroke="#5444ab" stroke-width="0.9"/>
<circle cx="488.3" cy="572.5" r="2.5" fill="#9687cd" stroke="#5444ab" stroke-width="0.9"/>
<circle cx="393.5" cy="585.5" r="2.5" fill="#9687cd" stroke="#5444ab" stroke-width="0.9"/>
<circle cx="448.3" cy="610.5" r="2.5" fill="#9687cd" stroke="#5444ab" stroke-width="0.9"/>
<circle cx="485.5" cy="604.5" r="2.5" fill="#9687cd" stroke="#5444ab" stroke-width="0.9"/>
<circle cx="473" cy="623.5" r="2.5" fill="#9687cd" stroke="#5444ab" stroke-width="0.9"/>
<circle cx="442.5" cy="629.5" r="2.5" fill="#9687cd" stroke="#5444ab" stroke-width="0.9"/>
<circle cx="449" cy="635" r="2.5" fill="#9687cd" stroke="#5444ab" stroke-width="0.9"/>
<circle cx="478.5" cy="635.5" r="2.5" fill="#9687cd" stroke="#5444ab" stroke-width="0.9"/>
<circle cx="417.3" cy="638" r="2.5" fill="#9687cd" stroke="#5444ab" stroke-width="0.9"/>
<circle cx="434.8" cy="645.5" r="2.5" fill="#9687cd" stroke="#5444ab" stroke-width="0.9"/>
<circle cx="420.8" cy="535.5" r="1.8" fill="url(#gRedDot)" stroke="#741212" stroke-width="0.5"/>
<circle cx="454.5" cy="543.5" r="1.8" fill="url(#gRedDot)" stroke="#741212" stroke-width="0.5"/>
<circle cx="395.8" cy="550" r="1.8" fill="url(#gRedDot)" stroke="#741212" stroke-width="0.5"/>
<circle cx="414.5" cy="554" r="3.3" fill="url(#gRedDot)" stroke="#741212" stroke-width="0.5"/>
<circle cx="410.3" cy="612.5" r="4.4" fill="url(#gRedDot)" stroke="#741212" stroke-width="0.5"/>
<circle cx="396.3" cy="617.5" r="3.0" fill="url(#gRedDot)" stroke="#741212" stroke-width="0.5"/>
<circle cx="398.8" cy="637" r="3.0" fill="url(#gRedDot)" stroke="#741212" stroke-width="0.5"/>
<path d="M247.3,560.0 C247.3,555.8 247.5,541.0 247.4,535.0 C247.3,529.0 247.7,526.8 246.5,524.0 C245.3,521.2 243.6,519.3 240.0,518.0 C236.4,516.7 231.6,516.6 225.0,516.2 C218.4,515.8 208.7,515.7 200.4,515.5 C192.1,515.3 182.4,515.1 175.0,515.0 C167.6,514.9 160.5,515.2 156.0,514.6 C151.5,514.0 149.8,513.0 148.0,511.5 C146.2,509.9 145.0,507.4 145.0,505.3 C145.0,503.2 146.2,500.6 148.0,499.0 C149.8,497.4 150.6,496.2 156.0,495.8 C161.4,495.4 173.3,496.3 180.3,496.4 C187.3,496.5 193.7,496.7 198.0,496.4 C202.3,496.1 206.7,496.4 206.4,494.8 C206.1,493.2 202.0,490.0 196.3,486.6 C190.6,483.2 179.4,478.5 172.0,474.5 C164.6,470.5 156.3,465.8 152.0,462.5 C147.7,459.2 147.0,457.2 146.2,455.0 C145.4,452.8 146.3,450.8 147.3,449.0 C148.3,447.2 149.9,445.1 152.0,444.0 C154.1,442.9 157.0,442.1 160.0,442.4 C163.0,442.7 166.7,444.4 170.0,446.0 C173.3,447.6 173.6,448.3 180.0,452.0 C186.4,455.7 201.7,464.7 208.4,468.3 C215.1,471.9 217.0,472.6 220.0,473.5 C223.0,474.4 224.9,475.4 226.5,473.5 C228.1,471.6 228.8,467.6 229.3,462.0 C229.8,456.4 228.9,445.1 229.3,440.0 C229.7,434.9 230.4,433.6 231.5,431.5 C232.6,429.4 234.1,428.1 236.0,427.2 C237.9,426.3 240.7,426.2 243.0,426.2 C245.3,426.2 248.1,426.3 250.0,427.2 C251.9,428.1 253.5,429.3 254.6,431.5 C255.7,433.7 255.9,435.4 256.6,440.2 C257.3,445.0 257.8,455.2 258.6,460.3 C259.4,465.4 260.2,468.8 261.5,471.0 C262.8,473.2 263.3,475.3 266.5,473.5 C269.7,471.7 275.6,464.5 280.7,460.3 C285.8,456.1 293.1,450.8 296.8,448.4 C300.5,446.0 301.0,446.3 303.0,446.2 C305.0,446.1 307.3,446.6 308.8,447.6 C310.3,448.6 311.8,450.3 312.2,452.0 C312.6,453.7 312.2,455.9 311.0,458.0 C309.8,460.1 308.5,461.1 304.8,464.5 C301.1,467.9 293.1,474.2 288.7,478.5 C284.3,482.8 279.8,487.6 278.7,490.4 C277.6,493.2 278.4,494.4 282.0,495.4 C285.6,496.4 293.5,496.0 300.0,496.2 C306.5,496.4 314.4,496.2 320.9,496.4 C327.4,496.6 334.8,496.6 339.0,497.2 C343.2,497.8 344.4,498.6 346.0,500.0 C347.6,501.4 348.4,503.5 348.4,505.3 C348.4,507.1 347.6,509.4 346.0,511.0 C344.4,512.5 346.5,513.8 339.0,514.6 C331.5,515.4 311.5,515.4 300.8,515.7 C290.1,516.0 280.8,516.0 275.0,516.4 C269.2,516.8 268.2,516.7 266.0,518.0 C263.8,519.3 262.4,521.2 261.6,524.0 C260.8,526.8 261.1,529.0 261.0,535.0 C260.9,541.0 261.1,555.8 261.1,560.0 L261.2,650 A7,7 0 0 1 247.2,650 Z" fill="#c3d3dd" stroke="#93a8b6" stroke-width="1.2" stroke-linejoin="round"/>
<circle cx="249.4" cy="493" r="16" fill="url(#gNucG)" stroke="#93a8b6" stroke-width="1.1"/>
<ellipse cx="243" cy="485" rx="3.2" ry="2" fill="#f1f6f9" transform="rotate(-30 243 485)"/>
<circle cx="192.5" cy="466" r="2.5" fill="#96999c" stroke="#54575a" stroke-width="1"/>
<circle cx="194.5" cy="469" r="2.5" fill="#96999c" stroke="#54575a" stroke-width="1"/>
<circle cx="208.5" cy="496.5" r="2.5" fill="#96999c" stroke="#54575a" stroke-width="1"/>
<circle cx="225" cy="486" r="2.5" fill="#96999c" stroke="#54575a" stroke-width="1"/>
<circle cx="251" cy="456" r="2.5" fill="#96999c" stroke="#54575a" stroke-width="1"/>
<circle cx="299" cy="455.5" r="2.5" fill="#96999c" stroke="#54575a" stroke-width="1"/>
<circle cx="280" cy="489" r="2.5" fill="#96999c" stroke="#54575a" stroke-width="1"/>
<circle cx="292.5" cy="495" r="2.5" fill="#96999c" stroke="#54575a" stroke-width="1"/>
<circle cx="289" cy="505" r="2.5" fill="#96999c" stroke="#54575a" stroke-width="1"/>
<circle cx="330" cy="505.5" r="2.5" fill="#96999c" stroke="#54575a" stroke-width="1"/>
<circle cx="159.5" cy="505" r="2.5" fill="#96999c" stroke="#54575a" stroke-width="1"/>
<circle cx="164.5" cy="506" r="2.5" fill="#96999c" stroke="#54575a" stroke-width="1"/>
<circle cx="256.5" cy="518.5" r="2.5" fill="#96999c" stroke="#54575a" stroke-width="1"/>
<circle cx="241.5" cy="417" r="2.5" fill="#96999c" stroke="#54575a" stroke-width="1"/>
<circle cx="248" cy="530" r="2.5" fill="#96999c" stroke="#54575a" stroke-width="1"/>
<circle cx="237.5" cy="470.5" r="1.7" fill="url(#gRedDot)" stroke="#741212" stroke-width="0.5"/>
<circle cx="254.5" cy="464" r="1.7" fill="url(#gRedDot)" stroke="#741212" stroke-width="0.5"/>
<circle cx="219" cy="505" r="1.8" fill="url(#gRedDot)" stroke="#741212" stroke-width="0.5"/>
<circle cx="227" cy="500.5" r="3.2" fill="url(#gRedDot)" stroke="#741212" stroke-width="0.5"/>
<circle cx="246.5" cy="515.5" r="1.8" fill="url(#gRedDot)" stroke="#741212" stroke-width="0.5"/>
<circle cx="252.5" cy="533.5" r="3.0" fill="url(#gRedDot)" stroke="#741212" stroke-width="0.5"/>
<circle cx="252" cy="541" r="2.6" fill="url(#gRedDot)" stroke="#741212" stroke-width="0.5"/>
<circle cx="257" cy="563" r="2.6" fill="url(#gRedDot)" stroke="#741212" stroke-width="0.5"/>
<circle cx="254.5" cy="581.5" r="4.3" fill="url(#gRedDot)" stroke="#741212" stroke-width="0.5"/>
<circle cx="256" cy="618.5" r="2.8" fill="url(#gRedDot)" stroke="#741212" stroke-width="0.5"/>
</g>
<clipPath id="vclip"><path d="M127.3,148.0 C132.3,149.8 147.6,155.2 157.4,158.7 C167.2,162.1 176.4,165.6 186.0,168.7 C195.6,171.8 205.2,174.9 214.8,177.3 C224.4,179.7 233.9,181.6 243.5,183.0 C253.1,184.4 262.8,185.2 272.2,185.9 C281.6,186.6 289.8,187.4 300.0,187.2 C310.2,186.9 322.0,185.9 333.3,184.4 C344.6,182.9 356.2,180.5 367.7,178.2 C379.2,175.9 390.7,173.2 402.2,170.6 C413.7,168.0 428.3,164.6 436.6,162.7 C444.9,160.8 449.4,159.9 452.0,159.3  C462,157.2 469,164 467.6,173.5 C466.6,181 462,184.6 457.3,185.6 C453.9,186.7 445.8,189.5 436.6,192.0 C427.4,194.5 413.7,197.7 402.2,200.6 C390.7,203.5 379.2,206.7 367.7,209.2 C356.2,211.7 344.8,213.8 333.3,215.4 C321.9,217.0 310.5,218.2 299.0,218.8 C287.5,219.4 273.6,219.0 264.4,218.9 C255.1,218.8 251.8,218.5 243.5,218.0 C235.2,217.5 224.4,217.1 214.8,216.0 C205.2,214.9 195.6,213.6 186.0,211.7 C176.4,209.8 166.7,207.5 157.4,204.6 C148.1,201.7 136.6,196.4 130.0,194.5 C123.4,192.6 120.0,193.4 118.0,193.2  Z"/></clipPath>
<path d="M127.3,148.0 C132.3,149.8 147.6,155.2 157.4,158.7 C167.2,162.1 176.4,165.6 186.0,168.7 C195.6,171.8 205.2,174.9 214.8,177.3 C224.4,179.7 233.9,181.6 243.5,183.0 C253.1,184.4 262.8,185.2 272.2,185.9 C281.6,186.6 289.8,187.4 300.0,187.2 C310.2,186.9 322.0,185.9 333.3,184.4 C344.6,182.9 356.2,180.5 367.7,178.2 C379.2,175.9 390.7,173.2 402.2,170.6 C413.7,168.0 428.3,164.6 436.6,162.7 C444.9,160.8 449.4,159.9 452.0,159.3  C462,157.2 469,164 467.6,173.5 C466.6,181 462,184.6 457.3,185.6 C453.9,186.7 445.8,189.5 436.6,192.0 C427.4,194.5 413.7,197.7 402.2,200.6 C390.7,203.5 379.2,206.7 367.7,209.2 C356.2,211.7 344.8,213.8 333.3,215.4 C321.9,217.0 310.5,218.2 299.0,218.8 C287.5,219.4 273.6,219.0 264.4,218.9 C255.1,218.8 251.8,218.5 243.5,218.0 C235.2,217.5 224.4,217.1 214.8,216.0 C205.2,214.9 195.6,213.6 186.0,211.7 C176.4,209.8 166.7,207.5 157.4,204.6 C148.1,201.7 136.6,196.4 130.0,194.5 C123.4,192.6 120.0,193.4 118.0,193.2  Z" fill="#d8432f"/>
<g clip-path="url(#vclip)">
<path d="M128.7,171.2 C133.4,173.0 147.8,178.5 157.4,181.6 C167.0,184.8 176.4,187.7 186.0,190.2 C195.6,192.7 205.2,194.9 214.8,196.7 C224.4,198.4 233.9,199.5 243.5,200.5 C253.1,201.5 262.8,202.0 272.1,202.4 C281.4,202.9 289.3,203.4 299.5,203.0 C309.7,202.6 321.9,201.5 333.3,199.9 C344.7,198.3 356.2,196.1 367.7,193.7 C379.2,191.3 390.7,188.3 402.2,185.6 C413.7,182.9 427.9,179.5 436.6,177.3 C445.3,175.2 451.6,173.3 454.6,172.4 " fill="none" stroke="#ea573b" stroke-width="17" filter="url(#blur3)" transform="translate(0,-1.5)"/>
<path d="M127.3,148.0 C132.3,149.8 147.6,155.2 157.4,158.7 C167.2,162.1 176.4,165.6 186.0,168.7 C195.6,171.8 205.2,174.9 214.8,177.3 C224.4,179.7 233.9,181.6 243.5,183.0 C253.1,184.4 262.8,185.2 272.2,185.9 C281.6,186.6 289.8,187.4 300.0,187.2 C310.2,186.9 322.0,185.9 333.3,184.4 C344.6,182.9 356.2,180.5 367.7,178.2 C379.2,175.9 390.7,173.2 402.2,170.6 C413.7,168.0 428.3,164.6 436.6,162.7 C444.9,160.8 449.4,159.9 452.0,159.3 " fill="none" stroke="#a8291d" stroke-width="8.5" filter="url(#blur2)"/>
<path d="M457.3,185.6 C453.9,186.7 445.8,189.5 436.6,192.0 C427.4,194.5 413.7,197.7 402.2,200.6 C390.7,203.5 379.2,206.7 367.7,209.2 C356.2,211.7 344.8,213.8 333.3,215.4 C321.9,217.0 310.5,218.2 299.0,218.8 C287.5,219.4 273.6,219.0 264.4,218.9 C255.1,218.8 251.8,218.5 243.5,218.0 C235.2,217.5 224.4,217.1 214.8,216.0 C205.2,214.9 195.6,213.6 186.0,211.7 C176.4,209.8 166.7,207.5 157.4,204.6 C148.1,201.7 136.6,196.4 130.0,194.5 C123.4,192.6 120.0,193.4 118.0,193.2 " fill="none" stroke="#9f251b" stroke-width="12" filter="url(#blur2)"/>
<path d="M452,159.3 C462,157.2 469,164 467.6,173.5 C466.6,181 462,184.6 457.3,185.6" fill="none" stroke="#b63322" stroke-width="4" filter="url(#blur2)"/>
</g>
<ellipse cx="121" cy="170.6" rx="13.6" ry="23.4" fill="#e24c36" transform="rotate(14 121 170.6)"/>
<ellipse cx="121.2" cy="170.4" rx="11" ry="19.2" fill="#8f1b1d" transform="rotate(14 121.2 170.4)"/>
<ellipse cx="118.6" cy="172.2" rx="7" ry="15.5" fill="#a3231f" opacity="0.7" transform="rotate(14 118.6 172.2)" filter="url(#blur1)"/>
<polygon points="481.3,125.0 514.0,129.3 508.9,160.3 494.2,173.2 496.0,151.7 475.3,167.5 466.2,155.4 486.5,140.0 466.2,136.5" fill="#c90a1d"/>
<clipPath id="bclip"><path d="M502.8,124.5 C502.6,123.8 502.8,121.2 501.5,120.4 C500.2,119.7 497.2,120.2 495.0,120.0 C492.8,119.8 491.4,120.0 488.5,119.4 C485.6,118.8 480.7,117.8 477.3,116.6 C473.9,115.4 471.1,114.2 468.0,112.0 C464.9,109.8 461.0,106.6 458.7,103.5 C456.4,100.4 455.2,96.9 454.0,93.3 C452.8,89.7 451.9,85.7 451.6,82.0 C451.3,78.3 451.4,74.9 452.1,70.9 C452.8,66.9 453.9,62.5 455.9,57.8 C457.9,53.1 460.6,47.6 464.2,42.9 C467.8,38.2 472.9,33.5 477.3,29.8 C481.7,26.1 485.7,23.1 490.4,20.5 C495.1,17.9 500.0,16.0 505.3,14.0 C510.6,12.0 516.7,10.0 522.0,8.4 C527.3,6.8 532.0,5.2 537.0,4.2 C542.0,3.2 546.5,2.6 552.0,2.2 C557.5,1.8 565.5,1.7 570.0,1.6 C574.5,1.5 574.2,1.3 578.7,1.6 C583.2,1.9 591.1,2.1 597.3,3.2 C603.5,4.3 609.8,6.1 616.0,8.4 C622.2,10.7 629.0,13.5 634.6,16.8 C640.2,20.1 644.8,23.6 649.5,28.0 C654.2,32.4 658.9,37.6 662.6,42.9 C666.3,48.2 669.3,53.8 671.9,59.7 C674.5,65.6 677.1,72.7 678.4,78.3 C679.7,83.9 679.7,87.7 679.6,93.3 C679.5,98.9 679.1,106.0 677.8,112.0 C676.5,118.0 674.5,124.8 672.0,129.0 C669.5,133.2 666.3,135.5 663.0,137.5 C659.7,139.5 655.7,140.8 652.0,141.0 C648.3,141.2 643.7,137.8 641.0,139.0 C638.3,140.2 637.2,144.2 636.0,148.0 C634.8,151.8 636.2,157.7 633.5,161.7 C630.8,165.7 624.8,169.1 620.0,172.0 C615.2,174.9 609.2,177.7 604.8,179.4 C600.4,181.1 595.1,179.9 593.8,182.0 C592.5,184.1 595.9,188.5 597.0,192.0 C598.1,195.5 599.9,201.2 600.5,203.0  L580.6,203 C579.7,201.2 576.7,195.5 575.0,192.0 C573.3,188.5 571.5,185.5 570.3,181.8 C569.0,178.1 568.9,173.3 567.5,170.0 C566.1,166.7 564.4,164.2 562.0,162.0 C559.6,159.8 555.3,158.9 553.0,157.0 C550.7,155.1 549.0,152.3 548.0,150.5 C547.0,148.7 548.7,146.9 547.0,146.2 C545.3,145.4 541.3,146.3 538.0,146.0 C534.7,145.7 530.5,145.2 527.3,144.5 C524.1,143.8 521.0,143.2 518.7,141.6 C516.4,140.0 515.1,137.2 513.5,135.0 C511.9,132.8 509.8,129.6 509.0,128.5  L502.8,124.5 Z"/></clipPath>
<path d="M502.8,124.5 C502.6,123.8 502.8,121.2 501.5,120.4 C500.2,119.7 497.2,120.2 495.0,120.0 C492.8,119.8 491.4,120.0 488.5,119.4 C485.6,118.8 480.7,117.8 477.3,116.6 C473.9,115.4 471.1,114.2 468.0,112.0 C464.9,109.8 461.0,106.6 458.7,103.5 C456.4,100.4 455.2,96.9 454.0,93.3 C452.8,89.7 451.9,85.7 451.6,82.0 C451.3,78.3 451.4,74.9 452.1,70.9 C452.8,66.9 453.9,62.5 455.9,57.8 C457.9,53.1 460.6,47.6 464.2,42.9 C467.8,38.2 472.9,33.5 477.3,29.8 C481.7,26.1 485.7,23.1 490.4,20.5 C495.1,17.9 500.0,16.0 505.3,14.0 C510.6,12.0 516.7,10.0 522.0,8.4 C527.3,6.8 532.0,5.2 537.0,4.2 C542.0,3.2 546.5,2.6 552.0,2.2 C557.5,1.8 565.5,1.7 570.0,1.6 C574.5,1.5 574.2,1.3 578.7,1.6 C583.2,1.9 591.1,2.1 597.3,3.2 C603.5,4.3 609.8,6.1 616.0,8.4 C622.2,10.7 629.0,13.5 634.6,16.8 C640.2,20.1 644.8,23.6 649.5,28.0 C654.2,32.4 658.9,37.6 662.6,42.9 C666.3,48.2 669.3,53.8 671.9,59.7 C674.5,65.6 677.1,72.7 678.4,78.3 C679.7,83.9 679.7,87.7 679.6,93.3 C679.5,98.9 679.1,106.0 677.8,112.0 C676.5,118.0 674.5,124.8 672.0,129.0 C669.5,133.2 666.3,135.5 663.0,137.5 C659.7,139.5 655.7,140.8 652.0,141.0 C648.3,141.2 643.7,137.8 641.0,139.0 C638.3,140.2 637.2,144.2 636.0,148.0 C634.8,151.8 636.2,157.7 633.5,161.7 C630.8,165.7 624.8,169.1 620.0,172.0 C615.2,174.9 609.2,177.7 604.8,179.4 C600.4,181.1 595.1,179.9 593.8,182.0 C592.5,184.1 595.9,188.5 597.0,192.0 C598.1,195.5 599.9,201.2 600.5,203.0  L580.6,203 C579.7,201.2 576.7,195.5 575.0,192.0 C573.3,188.5 571.5,185.5 570.3,181.8 C569.0,178.1 568.9,173.3 567.5,170.0 C566.1,166.7 564.4,164.2 562.0,162.0 C559.6,159.8 555.3,158.9 553.0,157.0 C550.7,155.1 549.0,152.3 548.0,150.5 C547.0,148.7 548.7,146.9 547.0,146.2 C545.3,145.4 541.3,146.3 538.0,146.0 C534.7,145.7 530.5,145.2 527.3,144.5 C524.1,143.8 521.0,143.2 518.7,141.6 C516.4,140.0 515.1,137.2 513.5,135.0 C511.9,132.8 509.8,129.6 509.0,128.5  L502.8,124.5 Z" fill="#f9dcc7"/>
<g clip-path="url(#bclip)">
<ellipse cx="456.7" cy="67.2" rx="7.9" ry="4.7" fill="#fdeee2" transform="rotate(-139 456.7 67.2)" filter="url(#blur1)"/>
<ellipse cx="476.3" cy="67.7" rx="7.6" ry="4.3" fill="#fdeee2" transform="rotate(-186 476.3 67.7)" filter="url(#blur1)"/>
<ellipse cx="627.6" cy="24.3" rx="6.4" ry="4.3" fill="#fdeee2" transform="rotate(-17 627.6 24.3)" filter="url(#blur1)"/>
<ellipse cx="652.2" cy="31.3" rx="8.9" ry="4.6" fill="#fdeee2" transform="rotate(-48 652.2 31.3)" filter="url(#blur1)"/>
<ellipse cx="657.3" cy="43.8" rx="6.5" ry="3.8" fill="#fdeee2" transform="rotate(-31 657.3 43.8)" filter="url(#blur1)"/>
<ellipse cx="465.1" cy="44.2" rx="6.0" ry="4.4" fill="#fdeee2" transform="rotate(-148 465.1 44.2)" filter="url(#blur1)"/>
<ellipse cx="528.4" cy="45.4" rx="7.4" ry="4.0" fill="#fdeee2" transform="rotate(-99 528.4 45.4)" filter="url(#blur1)"/>
<ellipse cx="632.8" cy="53.3" rx="6.0" ry="3.7" fill="#fdeee2" transform="rotate(-15 632.8 53.3)" filter="url(#blur1)"/>
<ellipse cx="495.6" cy="107.8" rx="8.8" ry="4.0" fill="#fdeee2" transform="rotate(187 495.6 107.8)" filter="url(#blur1)"/>
<ellipse cx="664.4" cy="78.3" rx="7.0" ry="3.8" fill="#fdeee2" transform="rotate(-16 664.4 78.3)" filter="url(#blur1)"/>
<ellipse cx="544.2" cy="35.2" rx="8.5" ry="4.1" fill="#fdeee2" transform="rotate(-93 544.2 35.2)" filter="url(#blur1)"/>
<ellipse cx="547.8" cy="9.8" rx="6.1" ry="4.2" fill="#fdeee2" transform="rotate(-64 547.8 9.8)" filter="url(#blur1)"/>
<ellipse cx="561.1" cy="42.7" rx="6.4" ry="4.1" fill="#fdeee2" transform="rotate(-84 561.1 42.7)" filter="url(#blur1)"/>
<ellipse cx="528.5" cy="14.5" rx="8.3" ry="4.6" fill="#fdeee2" transform="rotate(-125 528.5 14.5)" filter="url(#blur1)"/>
<ellipse cx="629.8" cy="99.2" rx="8.3" ry="4.0" fill="#fdeee2" transform="rotate(23 629.8 99.2)" filter="url(#blur1)"/>
<ellipse cx="613.4" cy="41.3" rx="8.3" ry="4.4" fill="#fdeee2" transform="rotate(-36 613.4 41.3)" filter="url(#blur1)"/>
<ellipse cx="452.7" cy="78.6" rx="8.0" ry="4.2" fill="#fdeee2" transform="rotate(-194 452.7 78.6)" filter="url(#blur1)"/>
<ellipse cx="639.5" cy="92.6" rx="7.0" ry="4.4" fill="#fdeee2" transform="rotate(26 639.5 92.6)" filter="url(#blur1)"/>
<ellipse cx="651.8" cy="98.4" rx="8.9" ry="4.2" fill="#fdeee2" transform="rotate(42 651.8 98.4)" filter="url(#blur1)"/>
<ellipse cx="572.8" cy="25.3" rx="8.8" ry="4.2" fill="#fdeee2" transform="rotate(-47 572.8 25.3)" filter="url(#blur1)"/>
<ellipse cx="631.0" cy="83.3" rx="7.3" ry="4.3" fill="#fdeee2" transform="rotate(11 631.0 83.3)" filter="url(#blur1)"/>
<ellipse cx="487.1" cy="63.7" rx="6.7" ry="4.4" fill="#fdeee2" transform="rotate(-152 487.1 63.7)" filter="url(#blur1)"/>
<ellipse cx="596.4" cy="7.9" rx="6.7" ry="3.7" fill="#fdeee2" transform="rotate(-62 596.4 7.9)" filter="url(#blur1)"/>
<ellipse cx="481.0" cy="46.4" rx="6.6" ry="3.6" fill="#fdeee2" transform="rotate(-174 481.0 46.4)" filter="url(#blur1)"/>
<ellipse cx="536.7" cy="7.0" rx="6.3" ry="4.3" fill="#fdeee2" transform="rotate(-93 536.7 7.0)" filter="url(#blur1)"/>
<ellipse cx="672.3" cy="116.6" rx="8.4" ry="4.4" fill="#fdeee2" transform="rotate(9 672.3 116.6)" filter="url(#blur1)"/>
<ellipse cx="591.2" cy="51.2" rx="6.0" ry="3.7" fill="#fdeee2" transform="rotate(-12 591.2 51.2)" filter="url(#blur1)"/>
<ellipse cx="482.6" cy="90.1" rx="7.1" ry="4.1" fill="#fdeee2" transform="rotate(202 482.6 90.1)" filter="url(#blur1)"/>
<ellipse cx="502.5" cy="42.8" rx="7.1" ry="4.8" fill="#fdeee2" transform="rotate(-107 502.5 42.8)" filter="url(#blur1)"/>
<ellipse cx="560.6" cy="19.1" rx="7.3" ry="4.0" fill="#fdeee2" transform="rotate(-74 560.6 19.1)" filter="url(#blur1)"/>
<ellipse cx="631.4" cy="36.4" rx="6.5" ry="4.8" fill="#fdeee2" transform="rotate(-47 631.4 36.4)" filter="url(#blur1)"/>
<ellipse cx="477.4" cy="108.5" rx="7.6" ry="4.0" fill="#fdeee2" transform="rotate(148 477.4 108.5)" filter="url(#blur1)"/>
<ellipse cx="614.3" cy="90.5" rx="8.7" ry="4.1" fill="#fdeee2" transform="rotate(5 614.3 90.5)" filter="url(#blur1)"/>
<ellipse cx="640.1" cy="112.8" rx="6.1" ry="4.5" fill="#fdeee2" transform="rotate(30 640.1 112.8)" filter="url(#blur1)"/>
<ellipse cx="612.7" cy="8.8" rx="6.7" ry="4.4" fill="#fdeee2" transform="rotate(-27 612.7 8.8)" filter="url(#blur1)"/>
<ellipse cx="670.9" cy="101.7" rx="6.9" ry="4.7" fill="#fdeee2" transform="rotate(-17 670.9 101.7)" filter="url(#blur1)"/>
<ellipse cx="546.0" cy="24.6" rx="6.1" ry="3.7" fill="#fdeee2" transform="rotate(-87 546.0 24.6)" filter="url(#blur1)"/>
<ellipse cx="463.4" cy="82.5" rx="8.6" ry="3.8" fill="#fdeee2" transform="rotate(-162 463.4 82.5)" filter="url(#blur1)"/>
<ellipse cx="550.1" cy="46.0" rx="7.5" ry="4.7" fill="#fdeee2" transform="rotate(-86 550.1 46.0)" filter="url(#blur1)"/>
<ellipse cx="611.8" cy="23.2" rx="7.5" ry="4.7" fill="#fdeee2" transform="rotate(-36 611.8 23.2)" filter="url(#blur1)"/>
<ellipse cx="504.4" cy="54.0" rx="6.5" ry="4.5" fill="#fdeee2" transform="rotate(-131 504.4 54.0)" filter="url(#blur1)"/>
<ellipse cx="532.2" cy="34.9" rx="7.8" ry="4.0" fill="#fdeee2" transform="rotate(-124 532.2 34.9)" filter="url(#blur1)"/>
<ellipse cx="647.6" cy="74.4" rx="7.7" ry="4.5" fill="#fdeee2" transform="rotate(1 647.6 74.4)" filter="url(#blur1)"/>
<ellipse cx="656.4" cy="88.7" rx="7.4" ry="3.7" fill="#fdeee2" transform="rotate(-2 656.4 88.7)" filter="url(#blur1)"/>
<ellipse cx="485.9" cy="24.3" rx="7.2" ry="4.7" fill="#fdeee2" transform="rotate(-147 485.9 24.3)" filter="url(#blur1)"/>
<ellipse cx="514.4" cy="24.6" rx="6.7" ry="4.2" fill="#fdeee2" transform="rotate(-137 514.4 24.6)" filter="url(#blur1)"/>
<ellipse cx="487.9" cy="35.7" rx="8.8" ry="4.4" fill="#fdeee2" transform="rotate(-131 487.9 35.7)" filter="url(#blur1)"/>
<ellipse cx="461.7" cy="57.6" rx="6.8" ry="4.1" fill="#fdeee2" transform="rotate(-195 461.7 57.6)" filter="url(#blur1)"/>
<ellipse cx="641.7" cy="33.4" rx="6.9" ry="3.7" fill="#fdeee2" transform="rotate(-56 641.7 33.4)" filter="url(#blur1)"/>
<ellipse cx="583.9" cy="36.4" rx="8.1" ry="3.7" fill="#fdeee2" transform="rotate(-87 583.9 36.4)" filter="url(#blur1)"/>
<ellipse cx="516.2" cy="10.9" rx="7.7" ry="3.6" fill="#fdeee2" transform="rotate(-98 516.2 10.9)" filter="url(#blur1)"/>
<ellipse cx="670.2" cy="87.7" rx="7.3" ry="4.0" fill="#fdeee2" transform="rotate(-17 670.2 87.7)" filter="url(#blur1)"/>
<ellipse cx="614.6" cy="64.5" rx="8.4" ry="3.7" fill="#fdeee2" transform="rotate(13 614.6 64.5)" filter="url(#blur1)"/>
<ellipse cx="654.6" cy="57.0" rx="6.8" ry="3.8" fill="#fdeee2" transform="rotate(-35 654.6 57.0)" filter="url(#blur1)"/>
<ellipse cx="580.5" cy="52.0" rx="6.7" ry="4.0" fill="#fdeee2" transform="rotate(-31 580.5 52.0)" filter="url(#blur1)"/>
<ellipse cx="563.7" cy="7.3" rx="6.3" ry="4.5" fill="#fdeee2" transform="rotate(-104 563.7 7.3)" filter="url(#blur1)"/>
<ellipse cx="672.0" cy="127.6" rx="8.5" ry="4.5" fill="#fdeee2" transform="rotate(33 672.0 127.6)" filter="url(#blur1)"/>
<ellipse cx="658.7" cy="129.4" rx="7.2" ry="3.7" fill="#fdeee2" transform="rotate(31 658.7 129.4)" filter="url(#blur1)"/>
<ellipse cx="609.8" cy="79.5" rx="7.1" ry="4.7" fill="#fdeee2" transform="rotate(11 609.8 79.5)" filter="url(#blur1)"/>
<ellipse cx="476.8" cy="80.8" rx="6.6" ry="3.8" fill="#fdeee2" transform="rotate(-170 476.8 80.8)" filter="url(#blur1)"/>
<ellipse cx="643.6" cy="136.0" rx="8.6" ry="4.4" fill="#fdeee2" transform="rotate(17 643.6 136.0)" filter="url(#blur1)"/>
<ellipse cx="622.4" cy="13.7" rx="7.6" ry="4.1" fill="#fdeee2" transform="rotate(-52 622.4 13.7)" filter="url(#blur1)"/>
<ellipse cx="588.9" cy="21.1" rx="8.8" ry="4.7" fill="#fdeee2" transform="rotate(-78 588.9 21.1)" filter="url(#blur1)"/>
<ellipse cx="539.4" cy="50.4" rx="6.9" ry="4.1" fill="#fdeee2" transform="rotate(-144 539.4 50.4)" filter="url(#blur1)"/>
<ellipse cx="498.1" cy="65.6" rx="6.3" ry="4.0" fill="#fdeee2" transform="rotate(-192 498.1 65.6)" filter="url(#blur1)"/>
<ellipse cx="595.9" cy="36.4" rx="8.6" ry="4.1" fill="#fdeee2" transform="rotate(-64 595.9 36.4)" filter="url(#blur1)"/>
<ellipse cx="464.9" cy="97.8" rx="6.2" ry="4.2" fill="#fdeee2" transform="rotate(143 464.9 97.8)" filter="url(#blur1)"/>
<ellipse cx="585.1" cy="9.0" rx="7.2" ry="4.4" fill="#fdeee2" transform="rotate(-33 585.1 9.0)" filter="url(#blur1)"/>
<ellipse cx="574.7" cy="13.7" rx="7.6" ry="4.1" fill="#fdeee2" transform="rotate(-38 574.7 13.7)" filter="url(#blur1)"/>
<ellipse cx="603.4" cy="60.9" rx="8.0" ry="4.0" fill="#fdeee2" transform="rotate(-1 603.4 60.9)" filter="url(#blur1)"/>
<ellipse cx="622.5" cy="72.5" rx="6.9" ry="4.5" fill="#fdeee2" transform="rotate(-14 622.5 72.5)" filter="url(#blur1)"/>
<ellipse cx="668.1" cy="56.6" rx="9.0" ry="3.8" fill="#fdeee2" transform="rotate(12 668.1 56.6)" filter="url(#blur1)"/>
<ellipse cx="647.1" cy="121.1" rx="8.2" ry="4.7" fill="#fdeee2" transform="rotate(37 647.1 121.1)" filter="url(#blur1)"/>
<ellipse cx="520.1" cy="34.0" rx="8.0" ry="4.3" fill="#fdeee2" transform="rotate(-143 520.1 34.0)" filter="url(#blur1)"/>
<ellipse cx="599.6" cy="20.7" rx="7.7" ry="3.8" fill="#fdeee2" transform="rotate(-57 599.6 20.7)" filter="url(#blur1)"/>
<ellipse cx="603.6" cy="48.3" rx="7.1" ry="4.3" fill="#fdeee2" transform="rotate(-22 603.6 48.3)" filter="url(#blur1)"/>
<ellipse cx="571.5" cy="39.7" rx="8.4" ry="3.7" fill="#fdeee2" transform="rotate(-91 571.5 39.7)" filter="url(#blur1)"/>
<ellipse cx="500.9" cy="17.8" rx="8.9" ry="4.7" fill="#fdeee2" transform="rotate(-160 500.9 17.8)" filter="url(#blur1)"/>
<ellipse cx="514.7" cy="111.4" rx="6.5" ry="4.7" fill="#fdeee2" transform="rotate(143 514.7 111.4)" filter="url(#blur1)"/>
<ellipse cx="556.5" cy="32.9" rx="7.1" ry="4.0" fill="#fdeee2" transform="rotate(-75 556.5 32.9)" filter="url(#blur1)"/>
<ellipse cx="527.7" cy="25.2" rx="7.6" ry="3.9" fill="#fdeee2" transform="rotate(-100 527.7 25.2)" filter="url(#blur1)"/>
<ellipse cx="473.4" cy="37.0" rx="6.4" ry="4.5" fill="#fdeee2" transform="rotate(-175 473.4 37.0)" filter="url(#blur1)"/>
<ellipse cx="514.5" cy="50.2" rx="6.5" ry="4.1" fill="#fdeee2" transform="rotate(-137 514.5 50.2)" filter="url(#blur1)"/>
<ellipse cx="490.9" cy="77.7" rx="6.6" ry="4.1" fill="#fdeee2" transform="rotate(-174 490.9 77.7)" filter="url(#blur1)"/>
<ellipse cx="621.4" cy="54.0" rx="8.3" ry="4.8" fill="#fdeee2" transform="rotate(-45 621.4 54.0)" filter="url(#blur1)"/>
<ellipse cx="639.1" cy="44.4" rx="8.2" ry="4.0" fill="#fdeee2" transform="rotate(-32 639.1 44.4)" filter="url(#blur1)"/>
<ellipse cx="655.7" cy="111.5" rx="8.2" ry="3.8" fill="#fdeee2" transform="rotate(31 655.7 111.5)" filter="url(#blur1)"/>
<ellipse cx="643.5" cy="58.7" rx="6.5" ry="4.4" fill="#fdeee2" transform="rotate(-49 643.5 58.7)" filter="url(#blur1)"/>
<ellipse cx="485.2" cy="116.6" rx="7.0" ry="4.4" fill="#fdeee2" transform="rotate(164 485.2 116.6)" filter="url(#blur1)"/>
<ellipse cx="575.9" cy="3.0" rx="8.1" ry="4.6" fill="#fdeee2" transform="rotate(-88 575.9 3.0)" filter="url(#blur1)"/>
<ellipse cx="471.8" cy="54.0" rx="7.7" ry="3.9" fill="#fdeee2" transform="rotate(-145 471.8 54.0)" filter="url(#blur1)"/>
<ellipse cx="492.0" cy="49.9" rx="6.6" ry="4.6" fill="#fdeee2" transform="rotate(-169 492.0 49.9)" filter="url(#blur1)"/>
<ellipse cx="676.4" cy="73.0" rx="8.5" ry="4.0" fill="#fdeee2" transform="rotate(16 676.4 73.0)" filter="url(#blur1)"/>
<ellipse cx="500.7" cy="29.3" rx="6.0" ry="4.8" fill="#fdeee2" transform="rotate(-161 500.7 29.3)" filter="url(#blur1)"/>
<ellipse cx="606.0" cy="99.8" rx="6.4" ry="4.4" fill="#fdeee2" transform="rotate(-2 606.0 99.8)" filter="url(#blur1)"/>
<ellipse cx="454.4" cy="92.4" rx="6.3" ry="4.0" fill="#fdeee2" transform="rotate(165 454.4 92.4)" filter="url(#blur1)"/>
<ellipse cx="659.2" cy="68.2" rx="6.5" ry="4.5" fill="#fdeee2" transform="rotate(-35 659.2 68.2)" filter="url(#blur1)"/>
<ellipse cx="497.3" cy="119.6" rx="6.0" ry="4.2" fill="#fdeee2" transform="rotate(125 497.3 119.6)" filter="url(#blur1)"/>
<ellipse cx="633.1" cy="64.9" rx="6.7" ry="4.6" fill="#fdeee2" transform="rotate(13 633.1 64.9)" filter="url(#blur1)"/>
<ellipse cx="492.1" cy="97.4" rx="7.8" ry="4.4" fill="#fdeee2" transform="rotate(177 492.1 97.4)" filter="url(#blur1)"/>
<ellipse cx="620.3" cy="33.0" rx="7.5" ry="3.9" fill="#fdeee2" transform="rotate(-42 620.3 33.0)" filter="url(#blur1)"/>
<ellipse cx="637.9" cy="19.6" rx="8.7" ry="4.6" fill="#fdeee2" transform="rotate(-40 637.9 19.6)" filter="url(#blur1)"/>
<ellipse cx="465.4" cy="108.4" rx="7.3" ry="3.8" fill="#fdeee2" transform="rotate(145 465.4 108.4)" filter="url(#blur1)"/>
<ellipse cx="654.1" cy="140.1" rx="7.7" ry="4.0" fill="#fdeee2" transform="rotate(39 654.1 140.1)" filter="url(#blur1)"/>
<ellipse cx="570.1" cy="50.1" rx="6.2" ry="4.6" fill="#fdeee2" transform="rotate(-28 570.1 50.1)" filter="url(#blur1)"/>
<ellipse cx="606.5" cy="33.1" rx="6.6" ry="3.6" fill="#fdeee2" transform="rotate(-35 606.5 33.1)" filter="url(#blur1)"/>
<path d="M469,68 C474,54 484,44 496,36" fill="none" stroke="#f1c9ae" stroke-width="1.2" stroke-linecap="round" opacity="0.8"/>
<path d="M500,30 C512,23 526,18 540,16" fill="none" stroke="#f1c9ae" stroke-width="1.2" stroke-linecap="round" opacity="0.8"/>
<path d="M546,14 C560,11 576,11 592,14" fill="none" stroke="#f1c9ae" stroke-width="1.2" stroke-linecap="round" opacity="0.8"/>
<path d="M600,17 C616,20 630,28 640,38" fill="none" stroke="#f1c9ae" stroke-width="1.2" stroke-linecap="round" opacity="0.8"/>
<path d="M644,42 C654,52 660,64 664,78" fill="none" stroke="#f1c9ae" stroke-width="1.2" stroke-linecap="round" opacity="0.8"/>
<path d="M668,84 C670,98 668,112 662,126" fill="none" stroke="#f1c9ae" stroke-width="1.2" stroke-linecap="round" opacity="0.8"/>
<path d="M474,104 C486,108 498,109 510,106" fill="none" stroke="#f1c9ae" stroke-width="1.2" stroke-linecap="round" opacity="0.8"/>
<path d="M461,100 C460,86 461,72 466,60" fill="none" stroke="#f1c9ae" stroke-width="1.2" stroke-linecap="round" opacity="0.8"/>
<path d="M627,56 C632,70 631,86 625,100" fill="none" stroke="#f1c9ae" stroke-width="1.2" stroke-linecap="round" opacity="0.8"/>
<path d="M610,104 C620,108 632,108 642,104" fill="none" stroke="#f1c9ae" stroke-width="1.2" stroke-linecap="round" opacity="0.8"/>
<path d="M652,96 C656,106 655,118 650,128" fill="none" stroke="#f1c9ae" stroke-width="1.2" stroke-linecap="round" opacity="0.8"/>
<path d="M489,104 C478,84 486,60 512,51 C542,41 584,42 606,57 C620,68 620,92 608,104" fill="none" stroke="#f3cfb6" stroke-width="10.5" opacity="0.9"/>
<path d="M489,104 C478,84 486,60 512,51 C542,41 584,42 606,57 C620,68 620,92 608,104" fill="none" stroke="#fce8da" stroke-width="7.5"/>
<path d="M497,98 C489,84 492,68 512,60 C540,51 580,51 600,63 C611,72 611,90 603,100" fill="none" stroke="#f6d6bf" stroke-width="5"/>
<path d="M503,121 C510,122 518,118 526,113 C536,108 546,106 556,104 L566,118 L560,148 L545,147 C535,146.5 525,145 518.7,141.6 C513,137 510,128 503,121 Z" fill="#cbc8c6"/>
<path d="M524,124 C532,118 540,116 548,112" fill="none" stroke="#b4b2b1" stroke-width="3" opacity="0.7"/>
<path d="M537,88 C552,84 572,86 590,93 C592,100 588,108 578,110 C566,112 552,110 546,106 C540,100 537,94 537,88 Z" fill="#f3d4b7"/>
<path d="M496,79 C497,70 503,64 512,61.5 C530,56.5 556,56.5 574,58.6 C586,60.5 598,68 601.6,79 C602,86 598,92 588,94.5 C586,90 590,86 590,80 C587,72 578,69 566,68.5 C548,67.5 530,68.5 518,72 C512,74 510,78 511,83 C514,88 522,90 530,91.7 C534,98 535,106 533,116 C531,124 529,130 526.5,133 L534,134 C538,126 541,114 541,104 C541,96 539,90 536,87 L498.5,88.5 C497,86 496,83 496,79 Z" fill="#f9e6c6"/>
<path d="M511,79 C513,73 522,70.5 537,69 C552,68 568,69 577,73 C580,76 580,80 578,84 C570,80 558,79.5 549,82.5 C546,84 544,86 537.4,86.3 C528,86.5 516,86 511,83 Z" fill="#f1d1b2"/>
<path d="M545.5,87.5 C552,80.5 570,80 580,87.5" fill="none" stroke="#b9cbc3" stroke-width="1.6"/>
<path d="M548,89.5 C555,83.5 569,83.5 577,89.5" fill="none" stroke="#e6d9a4" stroke-width="1.6"/>
<ellipse cx="555.3" cy="93.4" rx="3.4" ry="2.2" fill="#f7e3c0" stroke="#e8c9a6" stroke-width="0.6"/>
<path d="M556,104.5 C566,101.5 578,103 583,109 C586,118 588,130 590,142 C591,152 592,166 594,180 C596,190 598,197 601,205 L580.6,205 C576,192 571,182 569,172 C567,164 560,160 553,156 C547,150 545.5,140 547.5,130 C548.5,120 551,110 556,104.5 Z" fill="#fcefcd"/>
<ellipse cx="561" cy="132" rx="8" ry="16" fill="#fffaea" opacity="0.8" filter="url(#blur2)"/>
<path d="M556,104.5 C551,110 548.5,120 547.5,130 C545.5,140 547,150 553,156" fill="none" stroke="#f3dcb2" stroke-width="1.6" opacity="0.8"/>
<path d="M576.5,106 C579,118 580.5,128 582.5,138 C585,152 588.5,168 591.5,182 C593.5,192 595,198 596.3,205" fill="none" stroke="#efdf9a" stroke-width="5.4" stroke-linecap="round" filter="url(#blur05)"/>
<path d="M582,140 C585,156 589,172 592.5,188" fill="none" stroke="#e4cc62" stroke-width="2.2" opacity="0.75" filter="url(#blur05)"/>
<clipPath id="cclip"><path d="M589.5,139.0 C589.5,136.6 588.5,131.7 588.5,128.0 C588.5,124.3 588.6,120.2 589.5,117.0 C590.4,113.8 592.1,110.7 594.0,108.5 C595.9,106.3 598.2,105.0 601.0,104.0 C603.8,103.0 607.5,102.2 610.5,102.3 C613.5,102.4 616.7,103.2 619.0,104.5 C621.3,105.8 622.5,108.7 624.5,110.0 C626.5,111.3 629.2,110.8 631.0,112.5 C632.8,114.2 634.5,117.1 635.5,120.0 C636.5,122.9 637.0,126.5 637.0,130.0 C637.0,133.5 635.7,137.3 635.5,141.0 C635.3,144.7 636.3,148.5 636.0,152.0 C635.7,155.5 635.2,159.3 633.5,162.0 C631.8,164.7 629.1,166.0 626.0,168.0 C622.9,170.0 618.5,172.2 615.0,174.0 C611.5,175.8 608.2,177.5 605.0,178.8 C601.8,180.1 597.8,182.7 595.5,181.6 C593.2,180.5 592.5,175.9 591.5,172.0 C590.5,168.1 589.5,162.2 589.5,158.0 C589.5,153.8 591.6,149.6 591.5,147.0 C591.4,144.4 589.1,143.8 588.8,142.5 C588.5,141.2 589.5,141.4 589.5,139.0 Z"/></clipPath>
<path d="M589.5,139.0 C589.5,136.6 588.5,131.7 588.5,128.0 C588.5,124.3 588.6,120.2 589.5,117.0 C590.4,113.8 592.1,110.7 594.0,108.5 C595.9,106.3 598.2,105.0 601.0,104.0 C603.8,103.0 607.5,102.2 610.5,102.3 C613.5,102.4 616.7,103.2 619.0,104.5 C621.3,105.8 622.5,108.7 624.5,110.0 C626.5,111.3 629.2,110.8 631.0,112.5 C632.8,114.2 634.5,117.1 635.5,120.0 C636.5,122.9 637.0,126.5 637.0,130.0 C637.0,133.5 635.7,137.3 635.5,141.0 C635.3,144.7 636.3,148.5 636.0,152.0 C635.7,155.5 635.2,159.3 633.5,162.0 C631.8,164.7 629.1,166.0 626.0,168.0 C622.9,170.0 618.5,172.2 615.0,174.0 C611.5,175.8 608.2,177.5 605.0,178.8 C601.8,180.1 597.8,182.7 595.5,181.6 C593.2,180.5 592.5,175.9 591.5,172.0 C590.5,168.1 589.5,162.2 589.5,158.0 C589.5,153.8 591.6,149.6 591.5,147.0 C591.4,144.4 589.1,143.8 588.8,142.5 C588.5,141.2 589.5,141.4 589.5,139.0 Z" fill="#bba99b"/>
<g clip-path="url(#cclip)" fill="none" stroke-linecap="round">
<path d="M588,140 C592,139 596,139 600,138" stroke="#f6efe8" stroke-width="3.4"/>
<path d="M595.2,135.7 Q594.3,127.9 598.3,121.1" stroke="#f6efe8" stroke-width="2.1"/>
<path d="M598.3,121.1 Q596.1,116.1 594.2,111.0" stroke="#f6efe8" stroke-width="1.5"/>
<path d="M594.2,111.0 Q591.0,108.2 586.8,107.7" stroke="#f6efe8" stroke-width="1.1"/>
<path d="M586.8,107.7 Q584.1,108.7 581.2,108.3" stroke="#f6efe8" stroke-width="0.8"/>
<path d="M586.8,107.7 Q584.9,105.7 582.7,104.0" stroke="#f6efe8" stroke-width="0.8"/>
<path d="M591.0,108.2 Q589.1,109.1 587.8,110.7" stroke="#f6efe8" stroke-width="0.7"/>
<path d="M594.2,111.0 Q593.0,107.2 592.3,103.3" stroke="#f6efe8" stroke-width="1.1"/>
<path d="M592.3,103.3 Q590.4,101.1 589.0,98.5" stroke="#f6efe8" stroke-width="0.8"/>
<path d="M592.3,103.3 Q593.1,100.4 593.7,97.4" stroke="#f6efe8" stroke-width="0.8"/>
<path d="M593.0,107.2 Q591.6,105.6 589.4,105.6" stroke="#f6efe8" stroke-width="0.7"/>
<path d="M594.2,111.0 Q592.8,106.9 594.8,103.1" stroke="#f6efe8" stroke-width="1.1"/>
<path d="M594.8,103.1 Q593.2,101.0 593.1,98.4" stroke="#f6efe8" stroke-width="0.8"/>
<path d="M594.8,103.1 Q595.7,100.3 598.1,98.7" stroke="#f6efe8" stroke-width="0.8"/>
<path d="M592.8,106.9 Q591.7,105.2 589.7,104.4" stroke="#f6efe8" stroke-width="0.7"/>
<path d="M596.1,116.1 Q593.3,116.0 591.0,114.4" stroke="#f6efe8" stroke-width="0.9"/>
<path d="M598.3,121.1 Q601.7,116.3 602.5,110.4" stroke="#f6efe8" stroke-width="1.5"/>
<path d="M602.5,110.4 Q602.6,106.2 600.8,102.4" stroke="#f6efe8" stroke-width="1.1"/>
<path d="M600.8,102.4 Q599.3,99.8 596.6,98.7" stroke="#f6efe8" stroke-width="0.8"/>
<path d="M600.8,102.4 Q602.6,99.5 602.0,96.2" stroke="#f6efe8" stroke-width="0.8"/>
<path d="M602.6,106.2 Q604.6,105.2 605.2,103.1" stroke="#f6efe8" stroke-width="0.7"/>
<path d="M602.5,110.4 Q603.8,106.8 605.3,103.2" stroke="#f6efe8" stroke-width="1.1"/>
<path d="M605.3,103.2 Q603.6,100.7 603.9,97.6" stroke="#f6efe8" stroke-width="0.8"/>
<path d="M605.3,103.2 Q606.8,100.3 610.1,99.7" stroke="#f6efe8" stroke-width="0.8"/>
<path d="M603.8,106.8 Q603.2,104.9 601.7,103.6" stroke="#f6efe8" stroke-width="0.7"/>
<path d="M602.5,110.4 Q605.8,108.0 608.9,105.3" stroke="#f6efe8" stroke-width="1.1"/>
<path d="M608.9,105.3 Q609.2,102.5 611.1,100.5" stroke="#f6efe8" stroke-width="0.8"/>
<path d="M608.9,105.3 Q611.9,104.1 615.0,103.9" stroke="#f6efe8" stroke-width="0.8"/>
<path d="M605.8,108.0 Q608.0,107.8 609.8,108.9" stroke="#f6efe8" stroke-width="0.7"/>
<path d="M601.7,116.3 Q600.1,113.9 599.0,111.2" stroke="#f6efe8" stroke-width="0.9"/>
<path d="M598.3,121.1 Q603.9,119.4 606.8,114.3" stroke="#f6efe8" stroke-width="1.5"/>
<path d="M606.8,114.3 Q610.0,111.5 609.8,107.4" stroke="#f6efe8" stroke-width="1.1"/>
<path d="M609.8,107.4 Q610.9,104.7 609.9,102.0" stroke="#f6efe8" stroke-width="0.8"/>
<path d="M609.8,107.4 Q611.3,105.3 613.7,104.2" stroke="#f6efe8" stroke-width="0.8"/>
<path d="M610.0,111.5 Q608.2,110.6 607.6,108.6" stroke="#f6efe8" stroke-width="0.7"/>
<path d="M606.8,114.3 Q610.2,112.1 613.7,109.9" stroke="#f6efe8" stroke-width="1.1"/>
<path d="M613.7,109.9 Q614.7,107.5 616.6,105.7" stroke="#f6efe8" stroke-width="0.8"/>
<path d="M613.7,109.9 Q616.3,108.6 619.2,109.1" stroke="#f6efe8" stroke-width="0.8"/>
<path d="M610.2,112.1 Q610.9,110.1 611.0,108.1" stroke="#f6efe8" stroke-width="0.7"/>
<path d="M606.8,114.3 Q610.5,114.5 613.8,113.1" stroke="#f6efe8" stroke-width="1.1"/>
<path d="M613.8,113.1 Q615.5,111.7 616.8,109.7" stroke="#f6efe8" stroke-width="0.8"/>
<path d="M613.8,113.1 Q615.5,115.2 618.2,115.3" stroke="#f6efe8" stroke-width="0.8"/>
<path d="M610.5,114.5 Q611.0,116.3 612.6,117.2" stroke="#f6efe8" stroke-width="0.7"/>
<path d="M603.9,119.4 Q606.2,121.2 609.2,120.9" stroke="#f6efe8" stroke-width="0.9"/>
<path d="M594.3,127.9 Q597.7,126.3 601.0,124.5" stroke="#f6efe8" stroke-width="1.3"/>
<path d="M596.1,137.3 Q601.1,130.2 608.7,126.0" stroke="#f6efe8" stroke-width="2.1"/>
<path d="M608.7,126.0 Q611.1,121.1 611.5,115.8" stroke="#f6efe8" stroke-width="1.5"/>
<path d="M611.5,115.8 Q611.1,112.5 610.0,109.4" stroke="#f6efe8" stroke-width="1.1"/>
<path d="M610.0,109.4 Q608.5,107.3 606.7,105.6" stroke="#f6efe8" stroke-width="0.8"/>
<path d="M610.0,109.4 Q611.4,107.3 610.7,104.9" stroke="#f6efe8" stroke-width="0.8"/>
<path d="M611.1,112.5 Q609.3,112.8 607.9,111.7" stroke="#f6efe8" stroke-width="0.7"/>
<path d="M611.5,115.8 Q611.8,112.5 612.4,109.2" stroke="#f6efe8" stroke-width="1.1"/>
<path d="M612.4,109.2 Q611.5,106.9 609.9,104.9" stroke="#f6efe8" stroke-width="0.8"/>
<path d="M612.4,109.2 Q613.1,107.0 614.5,105.1" stroke="#f6efe8" stroke-width="0.8"/>
<path d="M611.8,112.5 Q613.4,112.1 614.9,111.4" stroke="#f6efe8" stroke-width="0.7"/>
<path d="M611.5,115.8 Q613.5,112.1 617.2,110.1" stroke="#f6efe8" stroke-width="1.1"/>
<path d="M617.2,110.1 Q618.5,107.4 619.2,104.5" stroke="#f6efe8" stroke-width="0.8"/>
<path d="M617.2,110.1 Q619.6,108.0 622.9,108.4" stroke="#f6efe8" stroke-width="0.8"/>
<path d="M613.5,112.1 Q613.8,110.0 612.7,108.2" stroke="#f6efe8" stroke-width="0.7"/>
<path d="M611.1,121.1 Q613.4,119.7 616.2,119.8" stroke="#f6efe8" stroke-width="0.9"/>
<path d="M608.7,126.0 Q613.8,123.4 617.6,119.1" stroke="#f6efe8" stroke-width="1.5"/>
<path d="M617.6,119.1 Q617.9,115.6 618.9,112.2" stroke="#f6efe8" stroke-width="1.1"/>
<path d="M618.9,112.2 Q617.3,109.9 616.8,107.2" stroke="#f6efe8" stroke-width="0.8"/>
<path d="M618.9,112.2 Q621.3,110.9 622.0,108.3" stroke="#f6efe8" stroke-width="0.8"/>
<path d="M617.9,115.6 Q616.1,114.8 615.4,113.0" stroke="#f6efe8" stroke-width="0.7"/>
<path d="M617.6,119.1 Q620.7,116.9 623.7,114.7" stroke="#f6efe8" stroke-width="1.1"/>
<path d="M623.7,114.7 Q625.3,112.4 625.6,109.6" stroke="#f6efe8" stroke-width="0.8"/>
<path d="M623.7,114.7 Q626.2,113.6 629.0,113.4" stroke="#f6efe8" stroke-width="0.8"/>
<path d="M620.7,116.9 Q620.2,115.1 620.5,113.2" stroke="#f6efe8" stroke-width="0.7"/>
<path d="M617.6,119.1 Q621.4,118.1 624.7,120.1" stroke="#f6efe8" stroke-width="1.1"/>
<path d="M624.7,120.1 Q627.4,119.3 629.3,117.4" stroke="#f6efe8" stroke-width="0.8"/>
<path d="M624.7,120.1 Q627.5,120.6 628.9,123.1" stroke="#f6efe8" stroke-width="0.8"/>
<path d="M621.4,118.1 Q622.2,119.7 623.0,121.3" stroke="#f6efe8" stroke-width="0.7"/>
<path d="M613.8,123.4 Q616.8,122.5 619.4,124.3" stroke="#f6efe8" stroke-width="0.9"/>
<path d="M608.7,126.0 Q614.0,124.5 619.4,125.5" stroke="#f6efe8" stroke-width="1.5"/>
<path d="M619.4,125.5 Q622.0,123.0 625.0,120.9" stroke="#f6efe8" stroke-width="1.1"/>
<path d="M625.0,120.9 Q625.8,118.5 627.3,116.4" stroke="#f6efe8" stroke-width="0.8"/>
<path d="M625.0,120.9 Q627.9,120.5 630.4,119.3" stroke="#f6efe8" stroke-width="0.8"/>
<path d="M622.0,123.0 Q621.9,121.1 621.8,119.3" stroke="#f6efe8" stroke-width="0.7"/>
<path d="M619.4,125.5 Q623.4,126.7 627.5,125.7" stroke="#f6efe8" stroke-width="1.1"/>
<path d="M627.5,125.7 Q630.4,124.8 632.9,123.1" stroke="#f6efe8" stroke-width="0.8"/>
<path d="M627.5,125.7 Q629.6,127.9 632.3,129.2" stroke="#f6efe8" stroke-width="0.8"/>
<path d="M623.4,126.7 Q624.6,125.1 625.8,123.4" stroke="#f6efe8" stroke-width="0.7"/>
<path d="M619.4,125.5 Q622.5,127.3 625.7,129.0" stroke="#f6efe8" stroke-width="1.1"/>
<path d="M625.7,129.0 Q628.5,128.3 631.2,129.4" stroke="#f6efe8" stroke-width="0.8"/>
<path d="M625.7,129.0 Q627.0,131.5 629.1,133.3" stroke="#f6efe8" stroke-width="0.8"/>
<path d="M622.5,127.3 Q623.8,125.9 625.8,125.8" stroke="#f6efe8" stroke-width="0.7"/>
<path d="M614.0,124.5 Q615.8,126.5 617.1,128.9" stroke="#f6efe8" stroke-width="0.9"/>
<path d="M601.1,130.2 Q604.3,133.8 609.0,133.5" stroke="#f6efe8" stroke-width="1.3"/>
<path d="M596.5,139.1 Q605.0,134.9 614.3,136.6" stroke="#f6efe8" stroke-width="2.1"/>
<path d="M614.3,136.6 Q618.1,131.2 623.2,126.9" stroke="#f6efe8" stroke-width="1.5"/>
<path d="M623.2,126.9 Q621.9,122.5 624.1,118.5" stroke="#f6efe8" stroke-width="1.1"/>
<path d="M624.1,118.5 Q623.6,115.2 620.9,113.4" stroke="#f6efe8" stroke-width="0.8"/>
<path d="M624.1,118.5 Q626.4,116.1 628.6,113.7" stroke="#f6efe8" stroke-width="0.8"/>
<path d="M621.9,122.5 Q620.0,121.4 618.8,119.6" stroke="#f6efe8" stroke-width="0.7"/>
<path d="M623.2,126.9 Q626.3,123.0 629.7,119.2" stroke="#f6efe8" stroke-width="1.1"/>
<path d="M629.7,119.2 Q629.5,115.5 630.9,112.0" stroke="#f6efe8" stroke-width="0.8"/>
<path d="M629.7,119.2 Q632.4,116.9 635.8,116.0" stroke="#f6efe8" stroke-width="0.8"/>
<path d="M626.3,123.0 Q625.4,120.5 625.9,117.9" stroke="#f6efe8" stroke-width="0.7"/>
<path d="M623.2,126.9 Q628.2,127.5 632.4,124.6" stroke="#f6efe8" stroke-width="1.1"/>
<path d="M632.4,124.6 Q634.6,122.6 636.4,120.2" stroke="#f6efe8" stroke-width="0.8"/>
<path d="M632.4,124.6 Q635.6,125.1 638.7,125.9" stroke="#f6efe8" stroke-width="0.8"/>
<path d="M628.2,127.5 Q628.7,125.0 630.5,123.4" stroke="#f6efe8" stroke-width="0.7"/>
<path d="M618.1,131.2 Q621.4,130.8 624.7,131.4" stroke="#f6efe8" stroke-width="0.9"/>
<path d="M614.3,136.6 Q620.0,135.2 625.4,133.0" stroke="#f6efe8" stroke-width="1.5"/>
<path d="M625.4,133.0 Q629.1,130.9 630.8,127.1" stroke="#f6efe8" stroke-width="1.1"/>
<path d="M630.8,127.1 Q632.2,124.5 631.6,121.6" stroke="#f6efe8" stroke-width="0.8"/>
<path d="M630.8,127.1 Q633.8,126.7 636.0,124.7" stroke="#f6efe8" stroke-width="0.8"/>
<path d="M629.1,130.9 Q631.3,130.5 633.0,132.0" stroke="#f6efe8" stroke-width="0.7"/>
<path d="M625.4,133.0 Q629.3,133.4 632.5,130.9" stroke="#f6efe8" stroke-width="1.1"/>
<path d="M632.5,130.9 Q633.9,128.5 636.6,127.3" stroke="#f6efe8" stroke-width="0.8"/>
<path d="M632.5,130.9 Q635.2,131.4 638.0,131.2" stroke="#f6efe8" stroke-width="0.8"/>
<path d="M629.3,133.4 Q630.4,134.9 632.2,135.6" stroke="#f6efe8" stroke-width="0.7"/>
<path d="M625.4,133.0 Q629.3,133.4 632.8,135.0" stroke="#f6efe8" stroke-width="1.1"/>
<path d="M632.8,135.0 Q635.8,135.1 638.1,133.1" stroke="#f6efe8" stroke-width="0.8"/>
<path d="M632.8,135.0 Q634.8,136.4 636.9,137.7" stroke="#f6efe8" stroke-width="0.8"/>
<path d="M629.3,133.4 Q630.5,131.9 632.1,130.8" stroke="#f6efe8" stroke-width="0.7"/>
<path d="M620.0,135.2 Q620.4,132.3 620.8,129.4" stroke="#f6efe8" stroke-width="0.9"/>
<path d="M614.3,136.6 Q621.0,138.1 625.4,143.4" stroke="#f6efe8" stroke-width="1.5"/>
<path d="M625.4,143.4 Q630.3,142.4 635.1,140.9" stroke="#f6efe8" stroke-width="1.1"/>
<path d="M635.1,140.9 Q638.3,138.9 640.2,135.7" stroke="#f6efe8" stroke-width="0.8"/>
<path d="M635.1,140.9 Q638.0,142.7 641.3,142.5" stroke="#f6efe8" stroke-width="0.8"/>
<path d="M630.3,142.4 Q631.7,140.2 632.1,137.7" stroke="#f6efe8" stroke-width="0.7"/>
<path d="M625.4,143.4 Q629.0,146.6 633.2,148.6" stroke="#f6efe8" stroke-width="1.1"/>
<path d="M633.2,148.6 Q636.4,148.2 639.6,148.0" stroke="#f6efe8" stroke-width="0.8"/>
<path d="M633.2,148.6 Q635.9,151.1 635.6,154.7" stroke="#f6efe8" stroke-width="0.8"/>
<path d="M629.0,146.6 Q629.5,149.0 628.8,151.3" stroke="#f6efe8" stroke-width="0.7"/>
<path d="M625.4,143.4 Q626.7,148.2 628.3,153.0" stroke="#f6efe8" stroke-width="1.1"/>
<path d="M628.3,153.0 Q631.0,155.7 633.1,159.0" stroke="#f6efe8" stroke-width="0.8"/>
<path d="M628.3,153.0 Q625.9,156.2 625.7,160.2" stroke="#f6efe8" stroke-width="0.8"/>
<path d="M626.7,148.2 Q629.3,148.6 631.2,150.5" stroke="#f6efe8" stroke-width="0.7"/>
<path d="M621.0,138.1 Q620.3,141.4 621.2,144.6" stroke="#f6efe8" stroke-width="0.9"/>
<path d="M605.0,134.9 Q608.6,131.4 608.2,126.4" stroke="#f6efe8" stroke-width="1.3"/>
<path d="M596.3,141.0 Q603.8,144.9 611.3,148.9" stroke="#f6efe8" stroke-width="2.1"/>
<path d="M611.3,148.9 Q616.8,147.9 622.3,146.7" stroke="#f6efe8" stroke-width="1.5"/>
<path d="M622.3,146.7 Q625.4,144.1 626.8,140.4" stroke="#f6efe8" stroke-width="1.1"/>
<path d="M626.8,140.4 Q626.8,137.4 628.3,134.7" stroke="#f6efe8" stroke-width="0.8"/>
<path d="M626.8,140.4 Q629.4,139.8 631.6,138.3" stroke="#f6efe8" stroke-width="0.8"/>
<path d="M625.4,144.1 Q627.2,145.2 629.2,144.3" stroke="#f6efe8" stroke-width="0.7"/>
<path d="M622.3,146.7 Q626.6,147.5 630.9,146.1" stroke="#f6efe8" stroke-width="1.1"/>
<path d="M630.9,146.1 Q634.1,145.6 636.7,143.6" stroke="#f6efe8" stroke-width="0.8"/>
<path d="M630.9,146.1 Q633.9,146.7 636.6,148.1" stroke="#f6efe8" stroke-width="0.8"/>
<path d="M626.6,147.5 Q628.6,148.6 629.7,150.5" stroke="#f6efe8" stroke-width="0.7"/>
<path d="M622.3,146.7 Q625.5,149.2 629.7,149.8" stroke="#f6efe8" stroke-width="1.1"/>
<path d="M629.7,149.8 Q632.6,148.9 635.5,149.5" stroke="#f6efe8" stroke-width="0.8"/>
<path d="M629.7,149.8 Q631.5,151.8 633.3,153.9" stroke="#f6efe8" stroke-width="0.8"/>
<path d="M625.5,149.2 Q625.6,151.4 627.0,153.0" stroke="#f6efe8" stroke-width="0.7"/>
<path d="M616.8,147.9 Q618.4,145.4 618.2,142.5" stroke="#f6efe8" stroke-width="0.9"/>
<path d="M611.3,148.9 Q616.1,153.4 622.4,155.2" stroke="#f6efe8" stroke-width="1.5"/>
<path d="M622.4,155.2 Q627.3,154.3 632.3,154.6" stroke="#f6efe8" stroke-width="1.1"/>
<path d="M632.3,154.6 Q635.1,153.2 637.3,151.0" stroke="#f6efe8" stroke-width="0.8"/>
<path d="M632.3,154.6 Q634.7,157.7 638.6,157.7" stroke="#f6efe8" stroke-width="0.8"/>
<path d="M627.3,154.3 Q629.4,152.7 629.8,150.1" stroke="#f6efe8" stroke-width="0.7"/>
<path d="M622.4,155.2 Q626.0,158.4 630.5,160.1" stroke="#f6efe8" stroke-width="1.1"/>
<path d="M630.5,160.1 Q633.9,158.2 637.7,159.0" stroke="#f6efe8" stroke-width="0.8"/>
<path d="M630.5,160.1 Q632.1,162.8 634.1,165.3" stroke="#f6efe8" stroke-width="0.8"/>
<path d="M626.0,158.4 Q625.7,160.7 626.2,163.1" stroke="#f6efe8" stroke-width="0.7"/>
<path d="M622.4,155.2 Q624.3,159.6 625.1,164.3" stroke="#f6efe8" stroke-width="1.1"/>
<path d="M625.1,164.3 Q627.3,167.2 630.7,168.6" stroke="#f6efe8" stroke-width="0.8"/>
<path d="M625.1,164.3 Q623.1,166.8 623.1,170.0" stroke="#f6efe8" stroke-width="0.8"/>
<path d="M624.3,159.6 Q626.7,159.9 628.7,161.4" stroke="#f6efe8" stroke-width="0.7"/>
<path d="M616.1,153.4 Q619.4,152.6 621.5,150.0" stroke="#f6efe8" stroke-width="0.9"/>
<path d="M611.3,148.9 Q615.6,153.6 617.7,159.6" stroke="#f6efe8" stroke-width="1.5"/>
<path d="M617.7,159.6 Q621.6,160.7 625.5,161.8" stroke="#f6efe8" stroke-width="1.1"/>
<path d="M625.5,161.8 Q628.2,161.8 630.7,160.8" stroke="#f6efe8" stroke-width="0.8"/>
<path d="M625.5,161.8 Q627.9,163.4 629.9,165.6" stroke="#f6efe8" stroke-width="0.8"/>
<path d="M621.6,160.7 Q623.0,159.2 625.0,158.5" stroke="#f6efe8" stroke-width="0.7"/>
<path d="M617.7,159.6 Q622.0,162.2 623.1,167.2" stroke="#f6efe8" stroke-width="1.1"/>
<path d="M623.1,167.2 Q626.0,168.9 628.9,170.5" stroke="#f6efe8" stroke-width="0.8"/>
<path d="M623.1,167.2 Q622.3,170.2 622.8,173.3" stroke="#f6efe8" stroke-width="0.8"/>
<path d="M622.0,162.2 Q620.2,164.0 620.5,166.6" stroke="#f6efe8" stroke-width="0.7"/>
<path d="M617.7,159.6 Q616.8,164.0 617.2,168.5" stroke="#f6efe8" stroke-width="1.1"/>
<path d="M617.2,168.5 Q618.1,171.5 620.2,173.8" stroke="#f6efe8" stroke-width="0.8"/>
<path d="M617.2,168.5 Q615.5,171.1 613.8,173.7" stroke="#f6efe8" stroke-width="0.8"/>
<path d="M616.8,164.0 Q619.0,164.9 620.4,166.7" stroke="#f6efe8" stroke-width="0.7"/>
<path d="M615.6,153.6 Q613.3,155.8 612.4,158.9" stroke="#f6efe8" stroke-width="0.9"/>
<path d="M603.8,144.9 Q606.8,141.5 611.2,140.7" stroke="#f6efe8" stroke-width="1.3"/>
<path d="M595.7,142.4 Q602.8,146.8 603.7,155.1" stroke="#f6efe8" stroke-width="2.1"/>
<path d="M603.7,155.1 Q609.3,155.5 614.3,158.0" stroke="#f6efe8" stroke-width="1.5"/>
<path d="M614.3,158.0 Q617.7,156.1 621.7,156.3" stroke="#f6efe8" stroke-width="1.1"/>
<path d="M621.7,156.3 Q622.5,153.8 624.6,152.4" stroke="#f6efe8" stroke-width="0.8"/>
<path d="M621.7,156.3 Q623.9,157.3 626.4,157.6" stroke="#f6efe8" stroke-width="0.8"/>
<path d="M617.7,156.1 Q619.7,156.5 620.8,158.2" stroke="#f6efe8" stroke-width="0.7"/>
<path d="M614.3,158.0 Q618.2,157.6 621.0,160.4" stroke="#f6efe8" stroke-width="1.1"/>
<path d="M621.0,160.4 Q623.4,160.4 625.7,160.0" stroke="#f6efe8" stroke-width="0.8"/>
<path d="M621.0,160.4 Q622.4,162.6 624.7,163.7" stroke="#f6efe8" stroke-width="0.8"/>
<path d="M618.2,157.6 Q620.1,157.2 621.1,155.4" stroke="#f6efe8" stroke-width="0.7"/>
<path d="M614.3,158.0 Q615.1,162.2 618.6,164.8" stroke="#f6efe8" stroke-width="1.1"/>
<path d="M618.6,164.8 Q621.7,164.9 623.7,167.3" stroke="#f6efe8" stroke-width="0.8"/>
<path d="M618.6,164.8 Q618.9,167.8 619.2,170.8" stroke="#f6efe8" stroke-width="0.8"/>
<path d="M615.1,162.2 Q617.2,161.8 619.0,163.0" stroke="#f6efe8" stroke-width="0.7"/>
<path d="M609.3,155.5 Q609.4,158.3 610.6,160.8" stroke="#f6efe8" stroke-width="0.9"/>
<path d="M603.7,155.1 Q606.9,158.9 608.7,163.4" stroke="#f6efe8" stroke-width="1.5"/>
<path d="M608.7,163.4 Q612.1,164.5 615.2,166.3" stroke="#f6efe8" stroke-width="1.1"/>
<path d="M615.2,166.3 Q617.4,165.8 619.6,166.2" stroke="#f6efe8" stroke-width="0.8"/>
<path d="M615.2,166.3 Q616.4,168.4 618.6,169.5" stroke="#f6efe8" stroke-width="0.8"/>
<path d="M612.1,164.5 Q613.4,163.3 615.0,162.5" stroke="#f6efe8" stroke-width="0.7"/>
<path d="M608.7,163.4 Q609.7,167.1 612.9,169.1" stroke="#f6efe8" stroke-width="1.1"/>
<path d="M612.9,169.1 Q615.2,170.6 617.9,170.5" stroke="#f6efe8" stroke-width="0.8"/>
<path d="M612.9,169.1 Q612.1,171.5 613.5,173.6" stroke="#f6efe8" stroke-width="0.8"/>
<path d="M609.7,167.1 Q611.4,166.9 613.2,167.1" stroke="#f6efe8" stroke-width="0.7"/>
<path d="M608.7,163.4 Q609.5,166.8 608.9,170.2" stroke="#f6efe8" stroke-width="1.1"/>
<path d="M608.9,170.2 Q609.4,172.5 611.4,173.8" stroke="#f6efe8" stroke-width="0.8"/>
<path d="M608.9,170.2 Q608.9,172.6 607.0,174.2" stroke="#f6efe8" stroke-width="0.8"/>
<path d="M609.5,166.8 Q610.6,168.2 612.5,168.3" stroke="#f6efe8" stroke-width="0.7"/>
<path d="M606.9,158.9 Q609.4,158.5 611.7,159.5" stroke="#f6efe8" stroke-width="0.9"/>
<path d="M603.7,155.1 Q601.8,160.1 602.4,165.4" stroke="#f6efe8" stroke-width="1.5"/>
<path d="M602.4,165.4 Q604.9,168.1 606.0,171.5" stroke="#f6efe8" stroke-width="1.1"/>
<path d="M606.0,171.5 Q608.0,173.3 610.5,174.3" stroke="#f6efe8" stroke-width="0.8"/>
<path d="M606.0,171.5 Q605.2,173.9 606.2,176.3" stroke="#f6efe8" stroke-width="0.8"/>
<path d="M604.9,168.1 Q606.6,168.5 608.4,168.1" stroke="#f6efe8" stroke-width="0.7"/>
<path d="M602.4,165.4 Q603.3,169.5 601.0,173.0" stroke="#f6efe8" stroke-width="1.1"/>
<path d="M601.0,173.0 Q602.8,175.2 603.6,177.9" stroke="#f6efe8" stroke-width="0.8"/>
<path d="M601.0,173.0 Q598.5,174.6 597.3,177.3" stroke="#f6efe8" stroke-width="0.8"/>
<path d="M603.3,169.5 Q601.6,170.4 600.1,171.6" stroke="#f6efe8" stroke-width="0.7"/>
<path d="M602.4,165.4 Q598.8,166.3 597.1,169.7" stroke="#f6efe8" stroke-width="1.1"/>
<path d="M597.1,169.7 Q596.9,172.0 595.1,173.7" stroke="#f6efe8" stroke-width="0.8"/>
<path d="M597.1,169.7 Q595.1,170.7 593.0,171.2" stroke="#f6efe8" stroke-width="0.8"/>
<path d="M598.8,166.3 Q598.5,168.0 599.0,169.7" stroke="#f6efe8" stroke-width="0.7"/>
<path d="M601.8,160.1 Q603.1,162.4 605.1,164.2" stroke="#f6efe8" stroke-width="0.9"/>
<path d="M602.8,146.8 Q600.0,149.8 600.2,153.9" stroke="#f6efe8" stroke-width="1.3"/>
<path d="M589,160 C600,170 620,166 640,146 L640,190 L585,190 Z" fill="#ab998b" stroke="none"/>
<path d="M590.0,164.0 C604,170.0 622,163.0 637,149.0" stroke="#8f7d70" stroke-width="0.9" opacity="0.85"/>
<path d="M591.2,167.3 C604,173.2 622,166.1 637,152.4" stroke="#8f7d70" stroke-width="0.9" opacity="0.85"/>
<path d="M592.4,170.6 C604,176.4 622,169.2 637,155.8" stroke="#8f7d70" stroke-width="0.9" opacity="0.85"/>
<path d="M593.6,173.9 C604,179.6 622,172.3 637,159.2" stroke="#8f7d70" stroke-width="0.9" opacity="0.85"/>
<path d="M594.8,177.2 C604,182.8 622,175.4 637,162.6" stroke="#8f7d70" stroke-width="0.9" opacity="0.85"/>
</g>
</g>
<path d="M503.1,124.4 L503.0,124.1 L502.9,123.7 L502.7,123.1 L502.6,122.5 L502.4,121.9 L502.1,121.3 L501.8,120.9 L501.4,120.6 L500.8,120.5 L500.2,120.5 L499.4,120.5 L498.6,120.5 L497.7,120.6 L496.8,120.6 L495.8,120.6 L495.0,120.6 L494.2,120.5 L493.5,120.4 L492.7,120.4 L492.0,120.3 L491.3,120.1 L490.4,120.0 L489.5,119.7 L488.5,119.4 L487.3,119.0 L486.0,118.6 L484.6,118.5 L483.0,118.4 L481.5,118.2 L480.0,117.9 L478.5,117.6 L477.1,117.2 L475.8,116.7 L474.6,116.2 L473.5,115.6 L472.4,115.0 L471.3,114.3 L470.2,113.5 L469.2,112.7 L468.2,111.8 L466.9,111.1 L465.5,110.3 L464.1,109.4 L462.8,108.4 L461.5,107.4 L460.3,106.2 L459.2,105.1 L458.3,103.8 L457.5,102.5 L456.9,101.2 L456.4,99.9 L456.0,98.5 L455.6,97.2 L455.0,95.9 L454.4,94.7 L453.8,93.4 L453.2,92.1 L452.7,90.7 L452.2,89.3 L451.9,87.8 L451.6,86.4 L451.4,84.9 L451.4,83.5 L451.3,82.0 L451.4,80.6 L451.5,79.3 L451.7,77.9 L451.6,76.6 L451.5,75.2 L451.4,73.8 L451.5,72.3 L451.6,70.8 L451.8,69.3 L452.1,67.7 L452.5,66.1 L453.1,64.5 L453.7,62.8 L454.5,61.2 L455.3,59.6 L456.1,57.9 L456.6,56.0 L457.3,54.0 L458.0,52.0 L458.9,50.1 L460.0,48.1 L461.3,46.3 L462.7,44.6 L464.2,42.9 L465.8,41.3 L467.1,39.4 L468.5,37.4 L470.1,35.6 L471.8,33.9 L473.6,32.4 L475.4,31.0 L477.2,29.7 L479.0,28.6 L480.6,27.3 L482.1,25.8 L483.5,24.4 L485.1,23.2 L486.7,22.0 L488.4,21.0 L490.2,20.1 L492.0,19.3 L493.9,18.6 L495.9,18.0 L497.7,17.1 L499.4,16.1 L501.3,15.1 L503.1,14.3 L505.1,13.4 L507.1,12.7 L509.2,12.1 L511.4,11.6 L513.7,11.1 L515.8,10.5 L517.9,9.6 L519.9,8.7 L521.8,7.9 L523.8,7.2 L525.7,6.7 L527.6,6.2 L529.5,5.8 L531.4,5.5 L533.3,5.3 L535.2,4.7 L537.0,4.1 L538.8,3.5 L540.6,3.0 L542.4,2.6 L544.2,2.4 L546.1,2.2 L548.0,2.2 L550.0,2.2 L552.0,2.3 L554.2,2.3 L556.5,1.8 L558.9,1.5 L561.4,1.2 L563.8,1.1 L566.1,1.2 L568.2,1.3 L570.0,1.4 L571.5,1.6 L572.6,1.7 L573.5,1.8 L574.3,1.6 L575.1,1.5 L576.0,1.4 L577.2,1.3 L578.7,1.2 L580.6,1.2 L582.7,1.2 L585.0,1.4 L587.4,1.7 L589.9,2.1 L592.4,2.7 L594.9,2.9 L597.3,2.9 L599.7,3.2 L602.1,3.6 L604.5,4.2 L606.8,5.0 L609.0,5.9 L611.3,6.9 L613.6,7.7 L616.1,8.2 L618.5,8.8 L621.0,9.7 L623.4,10.7 L625.7,11.9 L627.9,13.2 L630.1,14.6 L632.5,15.6 L634.7,16.5 L636.9,17.6 L639.0,18.8 L640.9,20.2 L642.6,21.7 L644.3,23.3 L645.9,25.0 L647.7,26.5 L649.6,27.9 L651.5,29.4 L653.4,31.0 L655.1,32.8 L656.8,34.8 L658.2,36.9 L659.6,39.0 L661.0,41.0 L662.7,42.8 L664.3,44.7 L665.7,46.6 L667.0,48.7 L668.1,50.8 L669.0,53.1 L669.8,55.3 L670.7,57.6 L672.0,59.7 L673.2,61.8 L674.4,64.1 L675.3,66.5 L676.1,69.0 L676.7,71.4 L677.2,73.9 L677.7,76.2 L678.5,78.3 L679.2,80.3 L679.6,82.1 L680.0,84.0 L680.1,85.8 L680.1,87.5 L680.0,89.4 L679.8,91.3 L679.6,93.3 L679.3,95.5 L679.5,97.8 L679.7,100.1 L679.7,102.6 L679.5,105.0 L679.1,107.4 L678.6,109.8 L677.9,112.0 L677.1,114.2 L676.7,116.6 L676.3,119.0 L675.8,121.3 L675.1,123.5 L674.3,125.6 L673.3,127.5 L672.3,129.1 L671.1,130.5 L669.9,131.7 L668.8,132.9 L667.8,134.1 L666.8,135.2 L665.7,136.2 L664.5,137.1 L663.3,138.0 L662.0,138.7 L660.6,139.4 L659.2,139.9 L657.8,140.3 L656.3,140.6 L654.8,140.7 L653.4,140.8 L652.0,140.7 L650.6,140.9 L649.0,140.9 L647.3,140.8 L645.7,140.6 L644.2,140.4 L642.8,140.1 L641.7,139.8 L640.9,139.6" fill="none" stroke="#1d1d1b" stroke-width="1.7" stroke-linejoin="round"/>
<path d="M641.0,139.0 C640.2,140.5 637.2,144.2 636.0,148.0 C634.8,151.8 636.2,157.7 633.5,161.7 C630.8,165.7 624.8,169.1 620.0,172.0 C615.2,174.9 609.2,177.7 604.8,179.4 C600.4,181.1 595.1,179.9 593.8,182.0 C592.5,184.1 595.9,188.5 597.0,192.0 C598.1,195.5 599.9,201.2 600.5,203.0 " fill="none" stroke="#1d1d1b" stroke-width="1.3" stroke-linejoin="round"/>
<path d="M580.6,203.0 C579.7,201.2 576.7,195.5 575.0,192.0 C573.3,188.5 571.5,185.5 570.3,181.8 C569.0,178.1 568.9,173.3 567.5,170.0 C566.1,166.7 564.4,164.2 562.0,162.0 C559.6,159.8 555.3,158.9 553.0,157.0 C550.7,155.1 549.0,152.3 548.0,150.5 C547.0,148.7 548.7,146.9 547.0,146.2 C545.3,145.4 541.3,146.3 538.0,146.0 C534.7,145.7 530.5,145.2 527.3,144.5 C524.1,143.8 521.0,143.2 518.7,141.6 C516.4,140.0 515.1,137.2 513.5,135.0 C511.9,132.8 509.8,129.6 509.0,128.5 " fill="none" stroke="#1d1d1b" stroke-width="1.2"/>
<path d="M502.8,124.5 C505,125 507,126.5 509,128.5" fill="none" stroke="#1d1d1b" stroke-width="1.2"/>
<linearGradient id="gStemFade" x1="0" y1="186" x2="0" y2="205" gradientUnits="userSpaceOnUse"><stop offset="0" stop-color="#fff" stop-opacity="0"/><stop offset="1" stop-color="#fff" stop-opacity="1"/></linearGradient>
<rect x="566" y="186" width="40" height="20.5" fill="url(#gStemFade)"/>
<path d="M595.6,200 C598,214 600.5,230 600.3,246 C600,262 597.5,285 595.5,310 C594.5,330 594.6,345 594.8,357" fill="none" stroke="url(#gNerve)" stroke-width="9.6"/>
<path d="M243.2,326 C243.2,291 262,270.9 297,270.9 L584,270.9" fill="none" stroke="#92a7b4" stroke-width="16"/>
<rect x="235.6" y="219.5" width="15.2" height="218.5" fill="#92a7b4"/>
<polygon points="243.2,211.0 266.0,233.0 266.0,253.2 243.2,231.2 220.0,253.2 220.0,233.0" fill="#92a7b4"/>
<polygon points="554.9,247.7 574.7,247.7 597.3,271.1 574.7,294.5 554.9,294.5 577.4,271.1" fill="#92a7b4"/>
<path d="M416.1,386 C416.1,350 436,331 470,331 L578,331" fill="none" stroke="#9a7bb8" stroke-width="15.4"/>
<rect x="408.3" y="203" width="15.6" height="326" fill="#9a7bb8"/>
<polygon points="415.9,194.4 438.9,216.0 438.9,236.7 415.9,215.2 392.7,236.7 392.7,216.0" fill="#9a7bb8"/>
<polygon points="548.0,307.6 567.9,307.6 590.3,330.6 567.9,353.6 548.0,353.6 570.4,330.6" fill="#9a7bb8"/>
<circle cx="241.7" cy="247.9" r="2.4" fill="#9a9c9e" stroke="#434547" stroke-width="1.25"/>
<circle cx="244" cy="273.8" r="2.4" fill="#9a9c9e" stroke="#434547" stroke-width="1.25"/>
<circle cx="251.4" cy="295.2" r="2.4" fill="#9a9c9e" stroke="#434547" stroke-width="1.25"/>
<circle cx="242.5" cy="318.2" r="2.4" fill="#9a9c9e" stroke="#434547" stroke-width="1.25"/>
<circle cx="240" cy="358.2" r="2.4" fill="#9a9c9e" stroke="#434547" stroke-width="1.25"/>
<circle cx="244" cy="369.7" r="2.4" fill="#9a9c9e" stroke="#434547" stroke-width="1.25"/>
<circle cx="242.6" cy="416.8" r="2.4" fill="#9a9c9e" stroke="#434547" stroke-width="1.25"/>
<circle cx="296.6" cy="270.3" r="2.4" fill="#9a9c9e" stroke="#434547" stroke-width="1.25"/>
<circle cx="353.6" cy="273.4" r="2.4" fill="#9a9c9e" stroke="#434547" stroke-width="1.25"/>
<circle cx="366.3" cy="268.9" r="2.4" fill="#9a9c9e" stroke="#434547" stroke-width="1.25"/>
<circle cx="431.9" cy="270.6" r="2.4" fill="#9a9c9e" stroke="#434547" stroke-width="1.25"/>
<circle cx="459" cy="273.6" r="2.4" fill="#9a9c9e" stroke="#434547" stroke-width="1.25"/>
<circle cx="494.2" cy="271.6" r="2.4" fill="#9a9c9e" stroke="#434547" stroke-width="1.25"/>
<circle cx="499.7" cy="268.6" r="2.4" fill="#9a9c9e" stroke="#434547" stroke-width="1.25"/>
<circle cx="540.6" cy="273.7" r="2.4" fill="#9a9c9e" stroke="#434547" stroke-width="1.25"/>
<circle cx="417.3" cy="240.2" r="2.4" fill="#9a82c8" stroke="#3f33a3" stroke-width="1.25"/>
<circle cx="412.2" cy="263.5" r="2.4" fill="#9a82c8" stroke="#3f33a3" stroke-width="1.25"/>
<circle cx="419.1" cy="293.8" r="2.4" fill="#9a82c8" stroke="#3f33a3" stroke-width="1.25"/>
<circle cx="413.7" cy="320" r="2.4" fill="#9a82c8" stroke="#3f33a3" stroke-width="1.25"/>
<circle cx="426.4" cy="351" r="2.4" fill="#9a82c8" stroke="#3f33a3" stroke-width="1.25"/>
<circle cx="418.4" cy="404.5" r="2.4" fill="#9a82c8" stroke="#3f33a3" stroke-width="1.25"/>
<circle cx="414" cy="412" r="2.4" fill="#9a82c8" stroke="#3f33a3" stroke-width="1.25"/>
<circle cx="412.7" cy="451.6" r="2.4" fill="#9a82c8" stroke="#3f33a3" stroke-width="1.25"/>
<circle cx="416.9" cy="516" r="2.4" fill="#9a82c8" stroke="#3f33a3" stroke-width="1.25"/>
<circle cx="483" cy="330.8" r="2.4" fill="#9a82c8" stroke="#3f33a3" stroke-width="1.25"/>
<circle cx="549" cy="327.8" r="2.4" fill="#9a82c8" stroke="#3f33a3" stroke-width="1.25"/>
<circle cx="560.6" cy="335.5" r="2.4" fill="#9a82c8" stroke="#3f33a3" stroke-width="1.25"/>
<rect x="123.4" y="202" width="15.4" height="457" fill="#c90a1d"/>
<polygon points="131.3,193.8 154.6,215.9 154.6,236.0 131.3,213.9 108.0,236.0 108.0,215.9" fill="#c90a1d"/>
<rect x="589.8" y="361.5" width="16.4" height="313.5" fill="#0f6db6"/>
<polygon points="597.8,352.8 620.3,375.8 620.3,396.0 597.8,373.0 575.0,396.0 575.0,375.8" fill="#0f6db6"/>
<rect x="635.4" y="90.8" width="15.4" height="417" fill="#ee7f00"/>
<polygon points="643.1,516.8 666.7,494.7 666.7,475.4 643.1,497.5 620.0,475.4 620.0,494.7" fill="#ee7f00"/>
<text x="12.3" y="40.4" font-size="22.4" font-weight="bold" fill="#1a1a1a" text-anchor="start" textLength="330.7" lengthAdjust="spacingAndGlyphs" stroke="#1a1a1a" stroke-width="0.5">Dialogue intestin-cerveau :</text>
<text x="12.3" y="66.6" font-size="22.4" font-weight="bold" fill="#1a1a1a" text-anchor="start" textLength="354.5" lengthAdjust="spacingAndGlyphs" stroke="#1a1a1a" stroke-width="0.5">une autoroute à quatre voies</text>
<text x="12.5" y="95.7" font-size="14.2" font-weight="normal" fill="#1a1a1a" text-anchor="start" textLength="431.0" lengthAdjust="spacingAndGlyphs">Les bactéries intestinales sécrètent des molécules (métabolites) qui</text>
<text x="12.5" y="113.1" font-size="14.2" font-weight="normal" fill="#1a1a1a" text-anchor="start" textLength="413.7" lengthAdjust="spacingAndGlyphs">activent différentes cellules intestinales (épithéliales, immunitaires,</text>
<text x="12.5" y="130.7" font-size="14.2" font-weight="normal" fill="#1a1a1a" text-anchor="start" textLength="441.5" lengthAdjust="spacingAndGlyphs">endocrines, neurones). Celles-ci envoient alors des signaux au cerveau.</text>
<text x="30.0" y="181.6" font-size="14" font-weight="bold" fill="#1a1a1a" text-anchor="start" textLength="54.0" lengthAdjust="spacingAndGlyphs">VAISSEAU</text>
<text x="30.0" y="198.3" font-size="14" font-weight="bold" fill="#1a1a1a" text-anchor="start" textLength="49.9" lengthAdjust="spacingAndGlyphs">SANGUIN</text>
<path d="M92.3,177.6 L107,177.6" stroke="#1a1a1a" stroke-width="1.2"/>
<text x="542.6" y="42.5" font-size="13.4" font-weight="bold" fill="#1a1a1a" text-anchor="start" textLength="58.6" lengthAdjust="spacingAndGlyphs">CERVEAU</text>
<text x="514.6" y="234.0" font-size="15.6" font-weight="bold" fill="#caa81e" text-anchor="start" textLength="73.0" lengthAdjust="spacingAndGlyphs">Nerf vague</text>
<path d="M513.3,220.8 L513.3,236.6" stroke="#1a1a1a" stroke-width="1"/>
<text transform="translate(666.1,345.2) rotate(-90)" font-size="15" font-weight="bold" fill="#1a1a1a" textLength="75" lengthAdjust="spacingAndGlyphs">VOIE RETOUR</text>
<polygon points="139.0,321.2 153.6,303.0 218.8,303.0 218.8,338.9 153.6,338.9" fill="#111111"/>
<text x="172.0" y="316.1" font-size="14.6" font-weight="bold" fill="#fff" text-anchor="start" textLength="26.6" lengthAdjust="spacingAndGlyphs">VOIE</text>
<text x="155.8" y="331.5" font-size="14.6" font-weight="bold" fill="#fff" text-anchor="start" textLength="58.2" lengthAdjust="spacingAndGlyphs">SANGUINE</text>
<circle cx="155.2" cy="306.4" r="11" fill="#111"/><circle cx="155.2" cy="306.4" r="9.2" fill="#111" stroke="#fff" stroke-width="1.7"/><text x="155.2" y="311.79999999999995" font-size="15.4" font-weight="bold" fill="#fff" text-anchor="middle">1</text>
<polygon points="143.0,369.8 222.4,369.8 236.0,387.6 222.4,405.6 143.0,405.6" fill="#111111"/>
<text x="172.0" y="384.2" font-size="14.6" font-weight="bold" fill="#fff" text-anchor="start" textLength="25.6" lengthAdjust="spacingAndGlyphs">VOIE</text>
<text x="148.6" y="399.7" font-size="14.6" font-weight="bold" fill="#fff" text-anchor="start" textLength="72.8" lengthAdjust="spacingAndGlyphs">IMMUNITAIRE</text>
<circle cx="220.5" cy="374.3" r="11" fill="#111"/><circle cx="220.5" cy="374.3" r="9.2" fill="#111" stroke="#fff" stroke-width="1.7"/><text x="220.5" y="379.7" font-size="15.4" font-weight="bold" fill="#fff" text-anchor="middle">2</text>
<polygon points="296.0,369.4 394.6,369.4 408.6,387.6 394.6,405.9 296.0,405.9" fill="#111111"/>
<text x="335.0" y="384.1" font-size="14.6" font-weight="bold" fill="#fff" text-anchor="start" textLength="25.8" lengthAdjust="spacingAndGlyphs">VOIE</text>
<text x="301.8" y="399.7" font-size="14.6" font-weight="bold" fill="#fff" text-anchor="start" textLength="92.2" lengthAdjust="spacingAndGlyphs">ENDOCRINIENNE</text>
<circle cx="390.2" cy="374" r="11" fill="#111"/><circle cx="390.2" cy="374" r="9.2" fill="#111" stroke="#fff" stroke-width="1.7"/><text x="390.2" y="379.4" font-size="15.4" font-weight="bold" fill="#fff" text-anchor="middle">3</text>
<polygon points="506.4,406.3 575.4,406.3 589.0,424.5 575.4,442.7 506.4,442.7" fill="#111111"/>
<text x="528.6" y="421.3" font-size="14.6" font-weight="bold" fill="#fff" text-anchor="start" textLength="25.8" lengthAdjust="spacingAndGlyphs">VOIE</text>
<text x="512.0" y="436.6" font-size="14.6" font-weight="bold" fill="#fff" text-anchor="start" textLength="58.0" lengthAdjust="spacingAndGlyphs">NERVEUSE</text>
<circle cx="572.5" cy="411" r="11" fill="#111"/><circle cx="572.5" cy="411" r="9.2" fill="#111" stroke="#fff" stroke-width="1.7"/><text x="572.5" y="416.4" font-size="15.4" font-weight="bold" fill="#fff" text-anchor="middle">4</text>
<text x="173.4" y="443.0" font-size="12.6" font-weight="normal" fill="#6e8798" text-anchor="start" textLength="51.2" lengthAdjust="spacingAndGlyphs">Cytokines</text>
<path d="M192.4,465 L199,447.6 L208.4,495.4" fill="none" stroke="#111" stroke-width="0.9"/>
<circle cx="192.3" cy="465.2" r="1.2" fill="#111"/><circle cx="208.5" cy="495.6" r="1.2" fill="#111"/>
<text x="323.0" y="470.3" font-size="14.6" font-weight="bold" fill="#6d8a9d" text-anchor="start" textLength="46.0" lengthAdjust="spacingAndGlyphs">Cellule</text>
<text x="304.8" y="486.5" font-size="14.6" font-weight="bold" fill="#6d8a9d" text-anchor="start" textLength="82.4" lengthAdjust="spacingAndGlyphs">immunitaire</text>
<text x="435.6" y="503.0" font-size="12.8" font-weight="normal" fill="#5a3e98" text-anchor="start" textLength="76.4" lengthAdjust="spacingAndGlyphs">Neuropeptides</text>
<path d="M485.2,528.4 L472.8,508.8 L473.9,545" fill="none" stroke="#111" stroke-width="0.9"/>
<circle cx="485.3" cy="528.6" r="1.2" fill="#111"/><circle cx="473.9" cy="545.2" r="1.2" fill="#111"/>
<text x="505.0" y="486.3" font-size="15.2" font-weight="bold" fill="#1a70b6" text-anchor="start" textLength="56.6" lengthAdjust="spacingAndGlyphs">Neurone</text>
<text x="168.0" y="582.6" font-size="14.4" font-weight="bold" fill="#d5313d" text-anchor="start" textLength="46.0" lengthAdjust="spacingAndGlyphs">Cellule</text>
<text x="152.6" y="599.0" font-size="14.4" font-weight="bold" fill="#d5313d" text-anchor="start" textLength="73.4" lengthAdjust="spacingAndGlyphs">épithéliale</text>
<text x="418.8" y="582.5" font-size="14.4" font-weight="bold" fill="#6a4fa1" text-anchor="start" textLength="46.0" lengthAdjust="spacingAndGlyphs">Cellule</text>
<text x="408.2" y="598.5" font-size="14.4" font-weight="bold" fill="#6a4fa1" text-anchor="start" textLength="68.0" lengthAdjust="spacingAndGlyphs">endocrine</text>
<text x="142.0" y="742.5" font-size="14.8" font-weight="bold" fill="#e6e2e8" text-anchor="start" textLength="62.4" lengthAdjust="spacingAndGlyphs">Bactéries</text>
<text x="209.0" y="742.5" font-size="14.8" font-weight="bold" fill="#9c1a1f" text-anchor="start" textLength="79.0" lengthAdjust="spacingAndGlyphs">Métabolites</text>
<path d="M160.5,703.5 L173.2,727 L182,706" fill="none" stroke="#fff" stroke-width="1.3"/>
<path d="M241.7,700.4 L249.4,727.6 L260.2,701.6" fill="none" stroke="#fff" stroke-width="1.3"/>
<circle cx="160.5" cy="703.4" r="2.3" fill="#111" stroke="#fff" stroke-width="0.7"/>
<circle cx="182" cy="706" r="2.3" fill="#111" stroke="#fff" stroke-width="0.7"/>
<circle cx="241.7" cy="700" r="2.3" fill="#111" stroke="#fff" stroke-width="0.7"/>
<circle cx="260.1" cy="701.3" r="2.3" fill="#111" stroke="#fff" stroke-width="0.7"/>
<text transform="translate(26.4,758.6) rotate(-90)" font-size="19.4" font-weight="bold" fill="#d8522b" textLength="195" lengthAdjust="spacing">TUBE DIGESTIF</text>
<text x="33.4" y="590.4" font-size="14.4" font-weight="bold" fill="#1a1a1a" text-anchor="start" textLength="64.2" lengthAdjust="spacingAndGlyphs">ÉPITHÉLIUM</text>
<text x="33.4" y="608.4" font-size="14.4" font-weight="bold" fill="#1a1a1a" text-anchor="start" textLength="63.2" lengthAdjust="spacingAndGlyphs">INTESTINAL</text>
<text x="33.6" y="623.2" font-size="13.4" font-weight="normal" fill="#1a1a1a" text-anchor="start" textLength="63.4" lengthAdjust="spacingAndGlyphs">(muqueuse)</text>
<text x="33.4" y="723.0" font-size="14.4" font-weight="bold" fill="#1a1a1a" text-anchor="start" textLength="69.4" lengthAdjust="spacingAndGlyphs">MICROBIOTE</text>
<path d="M121,515.6 L117.2,515.6 L117.2,576.6 L111,583.6 L117.2,590.6 L117.2,651.7 L121,651.7" fill="none" stroke="#1a1a1a" stroke-width="1.1"/>
<path d="M117.2,651.7 L117.2,711.3 L111,718.3 L117.2,725.3 L117.2,786.4 L121,786.4" fill="none" stroke="#1a1a1a" stroke-width="1.1"/>
<text transform="translate(689.6,787) rotate(-90)" font-size="8" fill="#1a1a1a" textLength="56" lengthAdjust="spacingAndGlyphs">BETTY LAFON</text>
<text x="17.6" y="820.1" font-size="15.2" font-weight="bold" fill="#1a1a1a" text-anchor="start" textLength="106.9" lengthAdjust="spacingAndGlyphs" xml:space="preserve">1 - Voie sanguine</text>
<text x="22.7" y="836.3" font-size="15.2" font-weight="normal" fill="#1a1a1a" text-anchor="start" textLength="97.3" lengthAdjust="spacingAndGlyphs" xml:space="preserve">Les métabolites</text>
<text x="35.4" y="852.5" font-size="15.2" font-weight="normal" fill="#1a1a1a" text-anchor="start" textLength="71.8" lengthAdjust="spacingAndGlyphs" xml:space="preserve">(molécules)</text>
<text x="14.7" y="868.8" font-size="15.2" font-weight="normal" fill="#1a1a1a" text-anchor="start" textLength="113.7" lengthAdjust="spacingAndGlyphs" xml:space="preserve">synthétisés par les</text>
<text x="16.0" y="885.0" font-size="15.2" font-weight="normal" fill="#1a1a1a" text-anchor="start" textLength="111.0" lengthAdjust="spacingAndGlyphs" xml:space="preserve">bactéries gagnent</text>
<text x="32.8" y="901.2" font-size="15.2" font-weight="normal" fill="#1a1a1a" text-anchor="start" textLength="77.7" lengthAdjust="spacingAndGlyphs" xml:space="preserve">la circulation</text>
<text x="35.6" y="917.4" font-size="15.2" font-weight="normal" fill="#1a1a1a" text-anchor="start" textLength="70.8" lengthAdjust="spacingAndGlyphs" xml:space="preserve">sanguine et</text>
<text x="18.6" y="933.6" font-size="15.2" font-weight="normal" fill="#1a1a1a" text-anchor="start" textLength="105.4" lengthAdjust="spacingAndGlyphs" xml:space="preserve">agissent ainsi sur</text>
<text x="29.2" y="949.9" font-size="15.2" font-weight="normal" fill="#1a1a1a" text-anchor="start" textLength="84.4" lengthAdjust="spacingAndGlyphs" xml:space="preserve">l’ensemble de</text>
<text x="34.0" y="966.1" font-size="15.2" font-weight="normal" fill="#1a1a1a" text-anchor="start" textLength="73.2" lengthAdjust="spacingAndGlyphs" xml:space="preserve">l’organisme.</text>
<text x="183.3" y="820.1" font-size="15.2" font-weight="bold" fill="#1a1a1a" text-anchor="start" textLength="125.4" lengthAdjust="spacingAndGlyphs" xml:space="preserve">2 - Voie immunitaire</text>
<text x="171.8" y="836.3" font-size="15.2" font-weight="normal" fill="#1a1a1a" text-anchor="start" textLength="149.4" lengthAdjust="spacingAndGlyphs" xml:space="preserve">Les cellules immunitaires</text>
<text x="199.0" y="852.5" font-size="15.2" font-weight="normal" fill="#1a1a1a" text-anchor="start" textLength="93.3" lengthAdjust="spacingAndGlyphs" xml:space="preserve">activées par les</text>
<text x="175.9" y="868.8" font-size="15.2" font-weight="normal" fill="#1a1a1a" text-anchor="start" textLength="139.6" lengthAdjust="spacingAndGlyphs" xml:space="preserve">métabolites produisent</text>
<text x="167.7" y="885.0" font-size="15.2" font-weight="normal" fill="#1a1a1a" text-anchor="start" textLength="156.0" lengthAdjust="spacingAndGlyphs" xml:space="preserve">des molécules (cytokines)</text>
<text x="190.9" y="901.2" font-size="15.2" font-weight="normal" fill="#1a1a1a" text-anchor="start" textLength="109.6" lengthAdjust="spacingAndGlyphs" xml:space="preserve">qui agissent &#160;sur le</text>
<text x="166.9" y="917.4" font-size="15.2" font-weight="normal" fill="#1a1a1a" text-anchor="start" textLength="157.6" lengthAdjust="spacingAndGlyphs" xml:space="preserve">cerveau par voie sanguine</text>
<text x="170.4" y="933.6" font-size="15.2" font-weight="normal" fill="#1a1a1a" text-anchor="start" textLength="150.0" lengthAdjust="spacingAndGlyphs" xml:space="preserve">ou nerveuse. Elles créent</text>
<text x="169.0" y="949.9" font-size="15.2" font-weight="normal" fill="#1a1a1a" text-anchor="start" textLength="154.1" lengthAdjust="spacingAndGlyphs" xml:space="preserve">une réponse &#160;immunitaire</text>
<text x="170.0" y="966.1" font-size="15.2" font-weight="normal" fill="#1a1a1a" text-anchor="start" textLength="152.6" lengthAdjust="spacingAndGlyphs" xml:space="preserve">et / ou une inflammation.</text>
<text x="372.2" y="820.1" font-size="15.2" font-weight="bold" fill="#1a1a1a" text-anchor="start" textLength="139.0" lengthAdjust="spacingAndGlyphs" xml:space="preserve">3 - Voie endocrinienne</text>
<text x="365.0" y="836.3" font-size="15.2" font-weight="normal" fill="#1a1a1a" text-anchor="start" textLength="153.6" lengthAdjust="spacingAndGlyphs" xml:space="preserve">Lorsqu’elles sont activées</text>
<text x="382.8" y="852.5" font-size="15.2" font-weight="normal" fill="#1a1a1a" text-anchor="start" textLength="117.2" lengthAdjust="spacingAndGlyphs" xml:space="preserve">par les métabolites,</text>
<text x="375.4" y="868.8" font-size="15.2" font-weight="normal" fill="#1a1a1a" text-anchor="start" textLength="132.8" lengthAdjust="spacingAndGlyphs" xml:space="preserve">les cellules endocrines</text>
<text x="357.7" y="885.0" font-size="15.2" font-weight="normal" fill="#1a1a1a" text-anchor="start" textLength="169.0" lengthAdjust="spacingAndGlyphs" xml:space="preserve">(sécrétrices) produisent des</text>
<text x="360.4" y="901.2" font-size="15.2" font-weight="normal" fill="#1a1a1a" text-anchor="start" textLength="162.8" lengthAdjust="spacingAndGlyphs" xml:space="preserve">hormones (neuropeptides)</text>
<text x="361.8" y="917.4" font-size="15.2" font-weight="normal" fill="#1a1a1a" text-anchor="start" textLength="158.7" lengthAdjust="spacingAndGlyphs" xml:space="preserve">qui agissent sur le cerveau</text>
<text x="379.5" y="933.6" font-size="15.2" font-weight="normal" fill="#1a1a1a" text-anchor="start" textLength="125.5" lengthAdjust="spacingAndGlyphs" xml:space="preserve">par voie sanguine ou</text>
<text x="373.3" y="949.9" font-size="15.2" font-weight="normal" fill="#1a1a1a" text-anchor="start" textLength="137.1" lengthAdjust="spacingAndGlyphs" xml:space="preserve">nerveuse, en modifiant</text>
<text x="373.3" y="966.1" font-size="15.2" font-weight="normal" fill="#1a1a1a" text-anchor="start" textLength="137.1" lengthAdjust="spacingAndGlyphs" xml:space="preserve">l’activité des neurones.</text>
<text x="550.6" y="820.1" font-size="15.2" font-weight="bold" fill="#1a1a1a" text-anchor="start" textLength="109.6" lengthAdjust="spacingAndGlyphs" xml:space="preserve">4 - Voie nerveuse</text>
<text x="555.5" y="836.3" font-size="15.2" font-weight="normal" fill="#1a1a1a" text-anchor="start" textLength="100.1" lengthAdjust="spacingAndGlyphs" xml:space="preserve">Les neurones du</text>
<text x="552.8" y="852.5" font-size="15.2" font-weight="normal" fill="#1a1a1a" text-anchor="start" textLength="104.7" lengthAdjust="spacingAndGlyphs" xml:space="preserve">système nerveux</text>
<text x="568.3" y="868.8" font-size="15.2" font-weight="normal" fill="#1a1a1a" text-anchor="start" textLength="74.2" lengthAdjust="spacingAndGlyphs" xml:space="preserve">de l’intestin,</text>
<text x="567.5" y="885.0" font-size="15.2" font-weight="normal" fill="#1a1a1a" text-anchor="start" textLength="75.0" lengthAdjust="spacingAndGlyphs" xml:space="preserve">stimulés par</text>
<text x="558.8" y="901.2" font-size="15.2" font-weight="normal" fill="#1a1a1a" text-anchor="start" textLength="92.7" lengthAdjust="spacingAndGlyphs" xml:space="preserve">les métabolites</text>
<text x="571.9" y="917.4" font-size="15.2" font-weight="normal" fill="#1a1a1a" text-anchor="start" textLength="67.9" lengthAdjust="spacingAndGlyphs" xml:space="preserve">bactériens,</text>
<text x="558.8" y="933.6" font-size="15.2" font-weight="normal" fill="#1a1a1a" text-anchor="start" textLength="91.9" lengthAdjust="spacingAndGlyphs" xml:space="preserve">activent le nerf</text>
<text x="558.8" y="949.9" font-size="15.2" font-weight="normal" fill="#1a1a1a" text-anchor="start" textLength="92.7" lengthAdjust="spacingAndGlyphs" xml:space="preserve">vague jusqu’au</text>
<text x="579.2" y="966.1" font-size="15.2" font-weight="normal" fill="#1a1a1a" text-anchor="start" textLength="52.4" lengthAdjust="spacingAndGlyphs" xml:space="preserve">cerveau.</text>
</svg>
</body></html>
